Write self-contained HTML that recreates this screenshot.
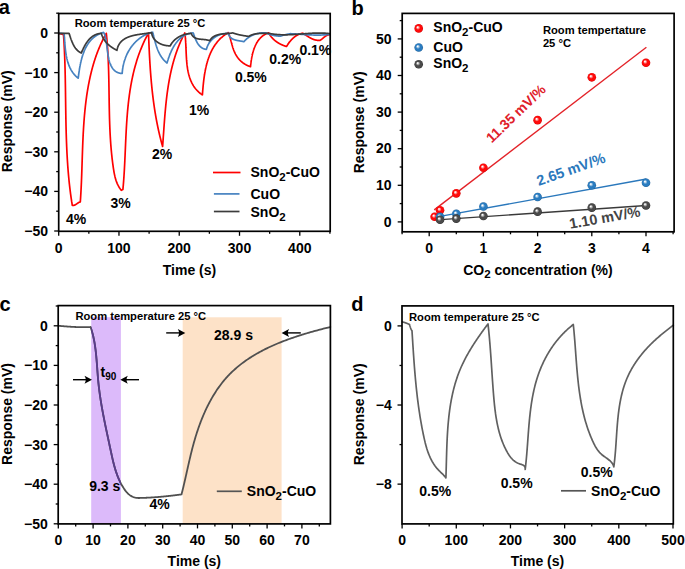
<!DOCTYPE html><html><head><meta charset="utf-8"><style>html,body{margin:0;padding:0;background:#fff;width:685px;height:569px;overflow:hidden;position:relative}</style></head><body><svg width="685" height="569" viewBox="0 0 685 569" style="position:absolute;left:0;top:0">
<g font-family='"Liberation Sans", sans-serif'>
<text x="-1.2" y="14" font-size="20" text-anchor="start" fill="#000" font-weight="bold" >a</text>
<clipPath id="ca"><rect x="58.7" y="13.5" width="271.5" height="217.8"/></clipPath>
<g clip-path="url(#ca)">
<path d="M58.7,33.5 L58.87,33.54 L59.03,33.57 L59.2,33.61 L59.36,33.65 L59.53,33.68 L59.69,33.72 L59.86,33.76 L60.02,33.79 L60.19,33.83 L60.36,33.86 L60.52,33.9 L60.69,33.93 L60.85,33.97 L61.02,34 L61.18,34.04 L61.35,34.07 L61.51,34.11 L61.68,34.14 L61.84,34.17 L62.01,34.21 L62.18,34.24 L62.34,34.27 L62.51,34.31 L62.67,34.34 L62.84,34.37 L63,34.4 L63.17,34.44 L63.33,34.47 L63.5,34.5 L63.56,35.36 L63.62,36.21 L63.67,37.07 L63.73,37.93 L63.78,38.79 L63.84,39.64 L63.89,40.5 L63.94,41.36 L63.99,42.22 L64.04,43.07 L64.09,43.93 L64.13,44.79 L64.18,45.65 L64.22,46.51 L64.27,47.37 L64.31,48.23 L64.35,49.08 L64.39,49.94 L64.43,50.8 L64.47,51.66 L64.51,52.52 L64.54,53.38 L64.58,54.24 L64.61,55.1 L64.65,55.96 L64.68,56.82 L64.71,57.68 L64.74,58.54 L64.77,59.4 L64.8,60.26 L64.83,61.12 L64.86,61.98 L64.89,62.85 L64.91,63.71 L64.94,64.57 L64.96,65.43 L64.99,66.29 L65.01,67.15 L65.04,68.01 L65.06,68.87 L65.08,69.74 L65.1,70.6 L65.12,71.46 L65.14,72.32 L65.16,73.18 L65.18,74.04 L65.2,74.91 L65.22,75.77 L65.24,76.63 L65.25,77.49 L65.27,78.35 L65.29,79.22 L65.3,80.08 L65.32,80.94 L65.33,81.8 L65.35,82.67 L65.36,83.53 L65.38,84.39 L65.39,85.25 L65.41,86.12 L65.42,86.98 L65.43,87.84 L65.45,88.7 L65.46,89.57 L65.47,90.43 L65.48,91.29 L65.5,92.15 L65.51,93.02 L65.52,93.88 L65.53,94.74 L65.54,95.61 L65.55,96.47 L65.57,97.33 L65.58,98.19 L65.59,99.06 L65.6,99.92 L65.61,100.78 L65.62,101.65 L65.64,102.51 L65.65,103.37 L65.66,104.23 L65.67,105.1 L65.68,105.96 L65.69,106.82 L65.71,107.69 L65.72,108.55 L65.73,109.41 L65.74,110.27 L65.76,111.14 L65.77,112 L65.78,112.86 L65.8,113.72 L65.81,114.59 L65.82,115.45 L65.84,116.31 L65.85,117.18 L65.87,118.04 L65.88,118.9 L65.9,119.76 L65.92,120.62 L65.93,121.49 L65.95,122.35 L65.97,123.21 L65.99,124.07 L66,124.94 L66.02,125.8 L66.04,126.66 L66.06,127.52 L66.08,128.38 L66.1,129.24 L66.13,130.11 L66.15,130.97 L66.17,131.83 L66.19,132.69 L66.22,133.55 L66.24,134.41 L66.27,135.27 L66.3,136.14 L66.32,137 L66.35,137.86 L66.38,138.72 L66.41,139.58 L66.44,140.44 L66.47,141.3 L66.5,142.16 L66.53,143.02 L66.57,143.88 L66.6,144.74 L66.64,145.6 L66.67,146.46 L66.71,147.32 L66.75,148.18 L66.78,149.04 L66.82,149.9 L66.87,150.76 L66.91,151.62 L66.95,152.48 L66.99,153.34 L67.04,154.19 L67.08,155.05 L67.13,155.91 L67.18,156.77 L67.23,157.63 L67.28,158.49 L67.33,159.34 L67.38,160.2 L67.44,161.06 L67.49,161.92 L67.55,162.77 L67.61,163.63 L67.66,164.49 L67.72,165.35 L67.79,166.2 L67.85,167.06 L67.91,167.92 L67.98,168.77 L68.04,169.63 L68.11,170.48 L68.18,171.34 L68.25,172.19 L68.33,173.05 L68.4,173.91 L68.47,174.76 L68.55,175.61 L68.63,176.47 L68.71,177.32 L68.79,178.18 L68.87,179.03 L68.96,179.89 L69.04,180.74 L69.13,181.59 L69.22,182.45 L69.31,183.3 L69.4,184.15 L69.5,185 L69.59,185.86 L69.69,186.71 L69.79,187.56 L69.89,188.41 L69.99,189.26 L70.1,190.12 L70.2,190.97 L70.31,191.82 L70.42,192.67 L70.53,193.52 L70.65,194.37 L70.76,195.22 L70.88,196.07 L71,196.92 L71.12,197.77 L71.24,198.62 L71.37,199.47 L71.5,200.31 L71.62,201.16 L71.76,202.01 L71.89,202.86 L72.02,203.71 L72.16,204.55 L72.3,205.4 L72.35,205.41 L72.4,205.41 L72.45,205.42 L72.5,205.43 L72.55,205.43 L72.6,205.44 L72.65,205.44 L72.69,205.44 L72.74,205.45 L72.79,205.45 L72.84,205.45 L72.89,205.45 L72.93,205.45 L72.98,205.45 L73.03,205.45 L73.07,205.45 L73.12,205.45 L73.17,205.45 L73.21,205.45 L73.26,205.44 L73.3,205.44 L73.35,205.44 L73.39,205.43 L73.44,205.43 L73.48,205.42 L73.53,205.42 L73.57,205.41 L73.62,205.4 L73.66,205.4 L73.7,205.39 L73.75,205.38 L73.79,205.37 L73.83,205.36 L73.88,205.35 L73.92,205.34 L73.96,205.33 L74.01,205.32 L74.05,205.31 L74.09,205.3 L74.13,205.29 L74.17,205.28 L74.22,205.26 L74.26,205.25 L74.3,205.24 L74.34,205.22 L74.38,205.21 L74.42,205.2 L74.46,205.18 L74.5,205.17 L74.54,205.15 L74.58,205.13 L74.62,205.12 L74.66,205.1 L74.7,205.09 L74.74,205.07 L74.78,205.05 L74.82,205.03 L74.86,205.02 L74.9,205 L74.94,204.98 L74.98,204.96 L75.02,204.94 L75.06,204.92 L75.1,204.9 L75.14,204.88 L75.17,204.86 L75.21,204.84 L75.25,204.82 L75.29,204.8 L75.33,204.78 L75.37,204.76 L75.4,204.73 L75.44,204.71 L75.48,204.69 L75.52,204.67 L75.55,204.65 L75.59,204.62 L75.63,204.6 L75.67,204.58 L75.7,204.55 L75.74,204.53 L75.78,204.51 L75.82,204.48 L75.85,204.46 L75.89,204.43 L75.93,204.41 L75.96,204.39 L76,204.36 L76.04,204.34 L76.07,204.31 L76.11,204.29 L76.15,204.26 L76.18,204.24 L76.22,204.21 L76.26,204.19 L76.29,204.16 L76.33,204.14 L76.37,204.11 L76.4,204.08 L76.44,204.06 L76.48,204.03 L76.51,204.01 L76.55,203.98 L76.58,203.95 L76.62,203.93 L76.66,203.9 L76.69,203.88 L76.73,203.85 L76.77,203.82 L76.8,203.8 L76.84,203.77 L76.87,203.74 L76.91,203.72 L76.95,203.69 L76.98,203.66 L77.02,203.64 L77.06,203.61 L77.09,203.59 L77.13,203.56 L77.17,203.53 L77.2,203.51 L77.24,203.48 L77.27,203.45 L77.31,203.43 L77.35,203.4 L77.38,203.38 L77.42,203.35 L77.46,203.32 L77.49,203.3 L77.53,203.27 L77.57,203.25 L77.6,203.22 L77.64,203.2 L77.68,203.17 L77.71,203.15 L77.75,203.12 L77.79,203.1 L77.83,203.07 L77.86,203.05 L77.9,203.02 L77.94,203 L77.97,202.97 L78.01,202.95 L78.05,202.92 L78.09,202.9 L78.13,202.88 L78.16,202.85 L78.2,202.83 L78.24,202.81 L78.28,202.78 L78.31,202.76 L78.35,202.74 L78.39,202.72 L78.43,202.69 L78.47,202.67 L78.51,202.65 L78.55,202.63 L78.58,202.61 L78.62,202.59 L78.66,202.57 L78.7,202.55 L78.74,202.53 L78.78,202.51 L78.82,202.49 L78.86,202.47 L78.9,202.45 L78.94,202.43 L78.98,202.41 L79.02,202.39 L79.06,202.37 L79.1,202.36 L79.14,202.34 L79.18,202.32 L79.22,202.3 L79.26,202.29 L79.31,202.27 L79.35,202.26 L79.39,202.24 L79.43,202.22 L79.47,202.21 L79.51,202.19 L79.56,202.18 L79.6,202.17 L79.64,202.15 L79.68,202.14 L79.73,202.13 L79.77,202.12 L79.81,202.1 L79.86,202.09 L79.9,202.08 L79.94,202.07 L79.99,202.06 L80.03,202.05 L80.08,202.04 L80.12,202.03 L80.16,202.02 L80.21,202.01 L80.25,202.01 L80.3,202 L80.36,201.15 L80.42,200.3 L80.48,199.45 L80.54,198.59 L80.59,197.74 L80.65,196.89 L80.7,196.03 L80.75,195.18 L80.8,194.32 L80.85,193.47 L80.9,192.61 L80.95,191.75 L81,190.89 L81.04,190.03 L81.09,189.18 L81.13,188.32 L81.17,187.46 L81.21,186.59 L81.25,185.73 L81.29,184.87 L81.33,184.01 L81.37,183.15 L81.41,182.28 L81.44,181.42 L81.48,180.56 L81.51,179.69 L81.55,178.83 L81.58,177.96 L81.61,177.1 L81.64,176.23 L81.68,175.36 L81.71,174.5 L81.74,173.63 L81.77,172.76 L81.8,171.89 L81.83,171.03 L81.86,170.16 L81.89,169.29 L81.92,168.42 L81.95,167.55 L81.97,166.68 L82,165.81 L82.03,164.94 L82.06,164.07 L82.09,163.2 L82.11,162.33 L82.14,161.46 L82.17,160.59 L82.2,159.72 L82.23,158.85 L82.25,157.97 L82.28,157.1 L82.31,156.23 L82.34,155.36 L82.37,154.49 L82.4,153.61 L82.43,152.74 L82.46,151.87 L82.49,151 L82.52,150.12 L82.55,149.25 L82.58,148.38 L82.62,147.5 L82.65,146.63 L82.68,145.76 L82.72,144.89 L82.75,144.01 L82.79,143.14 L82.82,142.27 L82.86,141.39 L82.9,140.52 L82.94,139.65 L82.98,138.78 L83.02,137.9 L83.06,137.03 L83.1,136.16 L83.14,135.29 L83.19,134.42 L83.23,133.54 L83.28,132.67 L83.33,131.8 L83.38,130.93 L83.43,130.06 L83.48,129.19 L83.53,128.31 L83.58,127.44 L83.64,126.57 L83.69,125.7 L83.75,124.83 L83.81,123.96 L83.87,123.09 L83.93,122.22 L83.99,121.35 L84.06,120.49 L84.13,119.62 L84.19,118.75 L84.26,117.88 L84.33,117.01 L84.41,116.15 L84.48,115.28 L84.56,114.41 L84.64,113.55 L84.72,112.68 L84.8,111.82 L84.88,110.95 L84.97,110.09 L85.06,109.22 L85.15,108.36 L85.24,107.5 L85.33,106.63 L85.43,105.77 L85.53,104.91 L85.63,104.05 L85.73,103.19 L85.83,102.33 L85.94,101.47 L86.05,100.61 L86.16,99.75 L86.27,98.89 L86.39,98.03 L86.51,97.18 L86.63,96.32 L86.75,95.46 L86.88,94.61 L87.01,93.75 L87.14,92.9 L87.27,92.05 L87.41,91.19 L87.55,90.34 L87.69,89.49 L87.84,88.64 L87.98,87.79 L88.13,86.94 L88.29,86.09 L88.44,85.24 L88.6,84.4 L88.76,83.55 L88.93,82.71 L89.1,81.86 L89.27,81.02 L89.44,80.17 L89.62,79.33 L89.8,78.49 L89.98,77.65 L90.17,76.81 L90.36,75.97 L90.55,75.13 L90.74,74.29 L90.94,73.46 L91.15,72.62 L91.35,71.79 L91.56,70.95 L91.78,70.12 L92,69.29 L92.22,68.46 L92.44,67.63 L92.67,66.8 L92.9,65.97 L93.14,65.15 L93.38,64.32 L93.62,63.5 L93.87,62.67 L94.12,61.85 L94.38,61.03 L94.64,60.21 L94.9,59.4 L95.17,58.58 L95.45,57.77 L95.72,56.95 L96.01,56.14 L96.29,55.33 L96.58,54.52 L96.88,53.71 L97.18,52.91 L97.48,52.1 L97.79,51.3 L98.1,50.5 L98.42,49.7 L98.75,48.9 L99.08,48.1 L99.41,47.31 L99.75,46.51 L100.09,45.72 L100.44,44.93 L100.79,44.14 L101.15,43.36 L101.51,42.57 L101.88,41.79 L102.26,41.01 L102.64,40.23 L103.02,39.45 L103.41,38.67 L103.81,37.9 L104.21,37.13 L104.62,36.36 L105.03,35.59 L105.45,34.83 L105.87,34.06 L106.3,33.3 L106.38,34.09 L106.47,34.88 L106.55,35.68 L106.63,36.47 L106.7,37.26 L106.78,38.06 L106.85,38.85 L106.92,39.64 L106.99,40.44 L107.06,41.23 L107.13,42.03 L107.19,42.82 L107.25,43.62 L107.32,44.41 L107.38,45.21 L107.43,46 L107.49,46.8 L107.55,47.6 L107.6,48.39 L107.65,49.19 L107.7,49.99 L107.75,50.78 L107.8,51.58 L107.85,52.38 L107.9,53.18 L107.94,53.98 L107.98,54.77 L108.03,55.57 L108.07,56.37 L108.11,57.17 L108.14,57.97 L108.18,58.77 L108.22,59.57 L108.25,60.37 L108.29,61.16 L108.32,61.96 L108.35,62.76 L108.38,63.56 L108.41,64.36 L108.44,65.16 L108.47,65.96 L108.49,66.77 L108.52,67.57 L108.55,68.37 L108.57,69.17 L108.59,69.97 L108.62,70.77 L108.64,71.57 L108.66,72.37 L108.68,73.17 L108.7,73.98 L108.72,74.78 L108.74,75.58 L108.76,76.38 L108.78,77.18 L108.79,77.99 L108.81,78.79 L108.83,79.59 L108.84,80.39 L108.86,81.19 L108.87,82 L108.89,82.8 L108.9,83.6 L108.92,84.4 L108.93,85.21 L108.94,86.01 L108.95,86.81 L108.97,87.62 L108.98,88.42 L108.99,89.22 L109,90.03 L109.02,90.83 L109.03,91.63 L109.04,92.43 L109.05,93.24 L109.06,94.04 L109.07,94.84 L109.09,95.65 L109.1,96.45 L109.11,97.25 L109.12,98.06 L109.13,98.86 L109.14,99.66 L109.16,100.47 L109.17,101.27 L109.18,102.07 L109.19,102.88 L109.21,103.68 L109.22,104.48 L109.23,105.28 L109.25,106.09 L109.26,106.89 L109.28,107.69 L109.29,108.5 L109.31,109.3 L109.32,110.1 L109.34,110.91 L109.36,111.71 L109.38,112.51 L109.39,113.31 L109.41,114.12 L109.43,114.92 L109.45,115.72 L109.47,116.52 L109.49,117.32 L109.51,118.13 L109.54,118.93 L109.56,119.73 L109.58,120.53 L109.61,121.33 L109.64,122.14 L109.66,122.94 L109.69,123.74 L109.72,124.54 L109.75,125.34 L109.78,126.14 L109.81,126.94 L109.84,127.74 L109.88,128.55 L109.91,129.35 L109.95,130.15 L109.98,130.95 L110.02,131.75 L110.06,132.55 L110.1,133.35 L110.14,134.15 L110.18,134.95 L110.23,135.75 L110.27,136.55 L110.32,137.34 L110.37,138.14 L110.42,138.94 L110.47,139.74 L110.52,140.54 L110.57,141.34 L110.63,142.14 L110.68,142.93 L110.74,143.73 L110.8,144.53 L110.86,145.33 L110.92,146.12 L110.99,146.92 L111.05,147.72 L111.12,148.51 L111.19,149.31 L111.26,150.1 L111.33,150.9 L111.41,151.7 L111.48,152.49 L111.56,153.29 L111.64,154.08 L111.72,154.88 L111.81,155.67 L111.89,156.46 L111.98,157.26 L112.07,158.05 L112.16,158.84 L112.25,159.64 L112.35,160.43 L112.44,161.22 L112.54,162.01 L112.65,162.81 L112.75,163.6 L112.85,164.39 L112.96,165.18 L113.07,165.97 L113.19,166.76 L113.3,167.55 L113.42,168.34 L113.54,169.13 L113.66,169.92 L113.79,170.71 L113.92,171.49 L114.06,172.28 L114.2,173.06 L114.36,173.84 L114.51,174.61 L114.68,175.39 L114.86,176.15 L115.04,176.92 L115.24,177.68 L115.45,178.44 L115.67,179.19 L115.9,179.94 L116.14,180.68 L116.4,181.41 L116.67,182.14 L116.96,182.87 L117.26,183.58 L117.58,184.29 L117.92,184.99 L118.27,185.69 L118.64,186.37 L119.03,187.05 L119.44,187.72 L119.88,188.38 L120.33,189.03 L120.8,189.67 L121.3,190.3 L122.9,189.5 L122.97,188.71 L123.05,187.92 L123.12,187.14 L123.19,186.35 L123.26,185.56 L123.33,184.77 L123.39,183.98 L123.46,183.18 L123.52,182.39 L123.58,181.6 L123.64,180.8 L123.7,180.01 L123.76,179.22 L123.82,178.42 L123.87,177.62 L123.93,176.83 L123.98,176.03 L124.03,175.23 L124.08,174.44 L124.13,173.64 L124.18,172.84 L124.23,172.04 L124.28,171.24 L124.32,170.44 L124.37,169.64 L124.41,168.84 L124.46,168.03 L124.5,167.23 L124.54,166.43 L124.59,165.63 L124.63,164.82 L124.67,164.02 L124.71,163.21 L124.75,162.41 L124.79,161.6 L124.82,160.8 L124.86,159.99 L124.9,159.19 L124.94,158.38 L124.97,157.58 L125.01,156.77 L125.05,155.96 L125.08,155.16 L125.12,154.35 L125.15,153.54 L125.19,152.73 L125.22,151.92 L125.26,151.12 L125.3,150.31 L125.33,149.5 L125.37,148.69 L125.4,147.88 L125.44,147.07 L125.47,146.26 L125.51,145.45 L125.54,144.64 L125.58,143.83 L125.61,143.02 L125.65,142.21 L125.69,141.4 L125.72,140.59 L125.76,139.78 L125.8,138.97 L125.84,138.16 L125.87,137.35 L125.91,136.54 L125.95,135.73 L125.99,134.92 L126.03,134.11 L126.08,133.3 L126.12,132.49 L126.16,131.68 L126.2,130.87 L126.25,130.06 L126.29,129.25 L126.34,128.44 L126.38,127.63 L126.43,126.83 L126.48,126.02 L126.53,125.21 L126.58,124.4 L126.63,123.59 L126.68,122.78 L126.74,121.97 L126.79,121.16 L126.85,120.36 L126.9,119.55 L126.96,118.74 L127.02,117.93 L127.08,117.12 L127.14,116.32 L127.21,115.51 L127.27,114.71 L127.34,113.9 L127.4,113.09 L127.47,112.29 L127.54,111.48 L127.61,110.68 L127.69,109.87 L127.76,109.07 L127.84,108.27 L127.92,107.46 L128,106.66 L128.08,105.86 L128.16,105.05 L128.25,104.25 L128.34,103.45 L128.42,102.65 L128.51,101.85 L128.61,101.05 L128.7,100.25 L128.8,99.45 L128.9,98.65 L129,97.85 L129.1,97.06 L129.21,96.26 L129.31,95.46 L129.42,94.67 L129.53,93.87 L129.65,93.08 L129.76,92.28 L129.88,91.49 L130,90.7 L130.13,89.9 L130.25,89.11 L130.38,88.32 L130.51,87.53 L130.64,86.74 L130.78,85.95 L130.91,85.16 L131.06,84.38 L131.2,83.59 L131.34,82.8 L131.49,82.02 L131.64,81.23 L131.8,80.45 L131.96,79.66 L132.11,78.88 L132.28,78.1 L132.44,77.32 L132.61,76.54 L132.78,75.76 L132.96,74.98 L133.13,74.2 L133.31,73.42 L133.5,72.65 L133.68,71.87 L133.87,71.1 L134.07,70.32 L134.26,69.55 L134.46,68.78 L134.67,68.01 L134.87,67.24 L135.08,66.47 L135.29,65.7 L135.51,64.93 L135.73,64.17 L135.95,63.4 L136.18,62.64 L136.41,61.88 L136.64,61.11 L136.88,60.35 L137.12,59.59 L137.37,58.83 L137.62,58.07 L137.87,57.32 L138.12,56.56 L138.38,55.81 L138.65,55.05 L138.91,54.3 L139.19,53.55 L139.46,52.8 L139.74,52.05 L140.02,51.3 L140.31,50.55 L140.6,49.81 L140.9,49.06 L141.2,48.32 L141.5,47.58 L141.81,46.84 L142.12,46.1 L142.44,45.36 L142.76,44.62 L143.08,43.88 L143.41,43.15 L143.75,42.42 L144.08,41.68 L144.43,40.95 L144.77,40.22 L145.13,39.49 L145.48,38.77 L145.84,38.04 L146.21,37.32 L146.58,36.59 L146.95,35.87 L147.33,35.15 L147.72,34.43 L148.11,33.72 L148.5,33 L148.52,33.57 L148.54,34.15 L148.56,34.72 L148.59,35.3 L148.61,35.87 L148.63,36.45 L148.65,37.02 L148.68,37.6 L148.7,38.17 L148.72,38.75 L148.74,39.32 L148.77,39.9 L148.79,40.47 L148.81,41.05 L148.84,41.62 L148.86,42.2 L148.89,42.77 L148.91,43.35 L148.94,43.92 L148.96,44.5 L148.98,45.08 L149.01,45.65 L149.04,46.23 L149.06,46.8 L149.09,47.38 L149.11,47.95 L149.14,48.53 L149.17,49.1 L149.19,49.68 L149.22,50.26 L149.25,50.83 L149.28,51.41 L149.31,51.98 L149.33,52.56 L149.36,53.13 L149.39,53.71 L149.42,54.29 L149.45,54.86 L149.48,55.44 L149.51,56.01 L149.54,56.59 L149.57,57.16 L149.61,57.74 L149.64,58.32 L149.67,58.89 L149.7,59.47 L149.74,60.04 L149.77,60.62 L149.8,61.19 L149.84,61.77 L149.87,62.35 L149.91,62.92 L149.94,63.5 L149.98,64.07 L150.02,64.65 L150.05,65.22 L150.09,65.8 L150.13,66.37 L150.17,66.95 L150.2,67.53 L150.24,68.1 L150.28,68.68 L150.32,69.25 L150.36,69.83 L150.4,70.4 L150.44,70.98 L150.49,71.55 L150.53,72.13 L150.57,72.7 L150.62,73.28 L150.66,73.85 L150.7,74.43 L150.75,75 L150.79,75.58 L150.84,76.15 L150.89,76.73 L150.93,77.3 L150.98,77.88 L151.03,78.45 L151.08,79.03 L151.13,79.6 L151.18,80.17 L151.23,80.75 L151.28,81.32 L151.33,81.9 L151.38,82.47 L151.44,83.04 L151.49,83.62 L151.55,84.19 L151.6,84.77 L151.66,85.34 L151.71,85.91 L151.77,86.49 L151.83,87.06 L151.88,87.63 L151.94,88.21 L152,88.78 L152.06,89.35 L152.12,89.93 L152.18,90.5 L152.25,91.07 L152.31,91.65 L152.37,92.22 L152.44,92.79 L152.5,93.36 L152.57,93.94 L152.63,94.51 L152.7,95.08 L152.77,95.65 L152.84,96.22 L152.91,96.8 L152.98,97.37 L153.05,97.94 L153.12,98.51 L153.19,99.08 L153.26,99.65 L153.34,100.22 L153.41,100.79 L153.49,101.37 L153.57,101.94 L153.64,102.51 L153.72,103.08 L153.8,103.65 L153.88,104.22 L153.96,104.79 L154.04,105.36 L154.12,105.93 L154.2,106.5 L154.29,107.07 L154.37,107.64 L154.46,108.21 L154.54,108.78 L154.63,109.34 L154.72,109.91 L154.81,110.48 L154.9,111.05 L154.99,111.62 L155.08,112.19 L155.17,112.76 L155.27,113.32 L155.36,113.89 L155.46,114.46 L155.55,115.03 L155.65,115.59 L155.75,116.16 L155.85,116.73 L155.95,117.29 L156.05,117.86 L156.15,118.43 L156.25,118.99 L156.36,119.56 L156.46,120.13 L156.57,120.69 L156.67,121.26 L156.78,121.82 L156.89,122.39 L157,122.95 L157.11,123.52 L157.22,124.08 L157.34,124.65 L157.45,125.21 L157.57,125.78 L157.68,126.34 L157.8,126.9 L157.92,127.47 L158.04,128.03 L158.16,128.59 L158.28,129.16 L158.4,129.72 L158.52,130.28 L158.65,130.84 L158.77,131.41 L158.9,131.97 L159.03,132.53 L159.16,133.09 L159.29,133.65 L159.42,134.21 L159.55,134.77 L159.68,135.33 L159.82,135.9 L159.95,136.46 L160.09,137.02 L160.23,137.58 L160.37,138.13 L160.51,138.69 L160.65,139.25 L160.79,139.81 L160.94,140.37 L161.08,140.93 L161.23,141.49 L161.38,142.05 L161.52,142.6 L161.67,143.16 L161.83,143.72 L161.98,144.27 L162.13,144.83 L162.29,145.39 L162.44,145.94 L162.6,146.5 L162.64,145.92 L162.69,145.35 L162.73,144.77 L162.78,144.19 L162.82,143.61 L162.86,143.03 L162.91,142.45 L162.95,141.87 L162.99,141.29 L163.03,140.71 L163.07,140.13 L163.12,139.55 L163.16,138.97 L163.2,138.39 L163.24,137.81 L163.28,137.23 L163.32,136.65 L163.36,136.06 L163.41,135.48 L163.45,134.9 L163.49,134.32 L163.53,133.73 L163.57,133.15 L163.61,132.57 L163.65,131.98 L163.69,131.4 L163.73,130.82 L163.77,130.23 L163.82,129.65 L163.86,129.06 L163.9,128.48 L163.94,127.89 L163.98,127.31 L164.02,126.72 L164.07,126.14 L164.11,125.55 L164.15,124.97 L164.19,124.38 L164.24,123.8 L164.28,123.21 L164.32,122.62 L164.37,122.04 L164.41,121.45 L164.46,120.87 L164.5,120.28 L164.55,119.69 L164.59,119.11 L164.64,118.52 L164.68,117.93 L164.73,117.35 L164.78,116.76 L164.83,116.18 L164.87,115.59 L164.92,115 L164.97,114.42 L165.02,113.83 L165.07,113.24 L165.12,112.66 L165.17,112.07 L165.22,111.48 L165.28,110.9 L165.33,110.31 L165.38,109.72 L165.44,109.14 L165.49,108.55 L165.55,107.96 L165.6,107.38 L165.66,106.79 L165.72,106.21 L165.77,105.62 L165.83,105.03 L165.89,104.45 L165.95,103.86 L166.01,103.28 L166.08,102.69 L166.14,102.11 L166.2,101.52 L166.27,100.94 L166.33,100.35 L166.4,99.77 L166.46,99.18 L166.53,98.6 L166.6,98.01 L166.67,97.43 L166.74,96.85 L166.81,96.26 L166.88,95.68 L166.96,95.09 L167.03,94.51 L167.11,93.93 L167.18,93.35 L167.26,92.76 L167.34,92.18 L167.42,91.6 L167.5,91.02 L167.58,90.44 L167.67,89.85 L167.75,89.27 L167.84,88.69 L167.92,88.11 L168.01,87.53 L168.1,86.95 L168.19,86.37 L168.28,85.79 L168.37,85.21 L168.47,84.63 L168.56,84.06 L168.66,83.48 L168.76,82.9 L168.85,82.32 L168.96,81.74 L169.06,81.17 L169.16,80.59 L169.26,80.02 L169.37,79.44 L169.48,78.86 L169.59,78.29 L169.7,77.71 L169.81,77.14 L169.92,76.57 L170.04,75.99 L170.15,75.42 L170.27,74.85 L170.39,74.28 L170.51,73.7 L170.63,73.13 L170.75,72.56 L170.88,71.99 L171.01,71.42 L171.14,70.85 L171.27,70.28 L171.4,69.71 L171.53,69.14 L171.67,68.58 L171.8,68.01 L171.94,67.44 L172.08,66.88 L172.23,66.31 L172.37,65.75 L172.51,65.18 L172.66,64.62 L172.81,64.05 L172.96,63.49 L173.12,62.93 L173.27,62.37 L173.43,61.8 L173.59,61.24 L173.75,60.68 L173.91,60.12 L174.07,59.56 L174.24,59 L174.41,58.45 L174.58,57.89 L174.75,57.33 L174.92,56.78 L175.1,56.22 L175.28,55.67 L175.46,55.11 L175.64,54.56 L175.82,54 L176.01,53.45 L176.2,52.9 L176.39,52.35 L176.58,51.8 L176.78,51.25 L176.98,50.7 L177.18,50.15 L177.38,49.6 L177.58,49.06 L177.79,48.51 L177.99,47.96 L178.21,47.42 L178.42,46.88 L178.63,46.33 L178.85,45.79 L179.07,45.25 L179.29,44.71 L179.52,44.17 L179.74,43.63 L179.97,43.09 L180.2,42.55 L180.44,42.01 L180.67,41.47 L180.91,40.94 L181.15,40.4 L181.4,39.87 L181.64,39.34 L181.89,38.8 L182.15,38.27 L182.4,37.74 L182.66,37.21 L182.91,36.68 L183.18,36.15 L183.44,35.63 L183.71,35.1 L183.98,34.57 L184.25,34.05 L184.52,33.52 L184.8,33 L184.85,33.31 L184.89,33.61 L184.93,33.92 L184.97,34.23 L185.01,34.54 L185.05,34.86 L185.09,35.17 L185.13,35.48 L185.16,35.8 L185.2,36.12 L185.23,36.43 L185.26,36.75 L185.3,37.07 L185.33,37.39 L185.36,37.72 L185.39,38.04 L185.42,38.36 L185.44,38.69 L185.47,39.01 L185.49,39.34 L185.52,39.67 L185.54,39.99 L185.57,40.32 L185.59,40.65 L185.61,40.98 L185.63,41.32 L185.66,41.65 L185.68,41.98 L185.7,42.31 L185.71,42.65 L185.73,42.98 L185.75,43.32 L185.77,43.66 L185.79,43.99 L185.8,44.33 L185.82,44.67 L185.84,45.01 L185.85,45.35 L185.87,45.69 L185.88,46.03 L185.9,46.37 L185.91,46.71 L185.93,47.05 L185.94,47.4 L185.96,47.74 L185.97,48.08 L185.99,48.43 L186,48.77 L186.02,49.12 L186.03,49.46 L186.04,49.81 L186.06,50.15 L186.07,50.5 L186.09,50.85 L186.1,51.19 L186.12,51.54 L186.13,51.89 L186.14,52.23 L186.16,52.58 L186.18,52.93 L186.19,53.28 L186.21,53.62 L186.22,53.97 L186.24,54.32 L186.26,54.67 L186.27,55.02 L186.29,55.37 L186.31,55.71 L186.33,56.06 L186.35,56.41 L186.37,56.76 L186.39,57.11 L186.41,57.46 L186.43,57.81 L186.45,58.15 L186.47,58.5 L186.5,58.85 L186.52,59.2 L186.55,59.55 L186.57,59.89 L186.6,60.24 L186.63,60.59 L186.65,60.94 L186.68,61.28 L186.71,61.63 L186.74,61.98 L186.77,62.32 L186.81,62.67 L186.84,63.01 L186.87,63.36 L186.91,63.7 L186.95,64.05 L186.98,64.39 L187.02,64.73 L187.06,65.08 L187.1,65.42 L187.15,65.76 L187.19,66.1 L187.23,66.44 L187.28,66.78 L187.33,67.12 L187.38,67.46 L187.43,67.8 L187.48,68.14 L187.53,68.48 L187.59,68.81 L187.64,69.15 L187.7,69.49 L187.76,69.82 L187.82,70.15 L187.88,70.49 L187.94,70.82 L188.01,71.15 L188.07,71.48 L188.14,71.81 L188.21,72.14 L188.28,72.47 L188.36,72.8 L188.43,73.13 L188.51,73.45 L188.59,73.78 L188.67,74.1 L188.75,74.43 L188.83,74.75 L188.92,75.07 L189.01,75.39 L189.1,75.71 L189.19,76.03 L189.28,76.35 L189.38,76.66 L189.48,76.98 L189.58,77.29 L189.68,77.6 L189.78,77.92 L189.89,78.23 L190,78.54 L190.11,78.84 L190.22,79.15 L190.34,79.46 L190.46,79.76 L190.58,80.07 L190.7,80.37 L190.82,80.67 L190.95,80.97 L191.08,81.27 L191.21,81.56 L191.35,81.86 L191.49,82.15 L191.63,82.45 L191.77,82.74 L191.91,83.03 L192.06,83.32 L192.21,83.6 L192.36,83.89 L192.52,84.17 L192.68,84.45 L192.84,84.73 L193,85.01 L193.17,85.29 L193.34,85.57 L193.51,85.84 L193.68,86.12 L193.86,86.39 L194.04,86.66 L194.22,86.92 L194.41,87.19 L194.6,87.45 L194.79,87.72 L194.99,87.98 L195.19,88.24 L195.39,88.49 L195.59,88.75 L195.8,89 L196.01,89.26 L196.23,89.51 L196.45,89.75 L196.67,90 L196.89,90.24 L197.12,90.49 L197.35,90.73 L197.58,90.97 L197.82,91.2 L198.06,91.44 L198.31,91.67 L198.55,91.9 L198.81,92.13 L199.06,92.35 L199.32,92.58 L199.58,92.8 L199.85,93.02 L200.11,93.24 L200.39,93.45 L200.66,93.67 L200.94,93.88 L201.23,94.09 L201.51,94.29 L201.81,94.5 L202.1,94.7 L202.4,94.9 L202.43,94.56 L202.45,94.23 L202.48,93.89 L202.5,93.55 L202.53,93.21 L202.55,92.88 L202.58,92.54 L202.61,92.19 L202.63,91.85 L202.66,91.51 L202.69,91.17 L202.71,90.83 L202.74,90.48 L202.77,90.14 L202.8,89.79 L202.83,89.45 L202.86,89.1 L202.89,88.75 L202.92,88.41 L202.95,88.06 L202.98,87.71 L203.01,87.36 L203.04,87.01 L203.07,86.66 L203.11,86.31 L203.14,85.96 L203.17,85.61 L203.21,85.26 L203.24,84.91 L203.28,84.55 L203.31,84.2 L203.35,83.85 L203.39,83.5 L203.42,83.14 L203.46,82.79 L203.5,82.43 L203.54,82.08 L203.58,81.73 L203.62,81.37 L203.66,81.02 L203.7,80.66 L203.75,80.31 L203.79,79.95 L203.83,79.59 L203.88,79.24 L203.92,78.88 L203.97,78.53 L204.02,78.17 L204.07,77.81 L204.12,77.46 L204.17,77.1 L204.22,76.75 L204.27,76.39 L204.32,76.03 L204.37,75.68 L204.43,75.32 L204.48,74.97 L204.54,74.61 L204.6,74.25 L204.65,73.9 L204.71,73.54 L204.77,73.19 L204.83,72.83 L204.89,72.48 L204.96,72.12 L205.02,71.77 L205.09,71.41 L205.15,71.06 L205.22,70.7 L205.29,70.35 L205.36,70 L205.43,69.64 L205.5,69.29 L205.57,68.94 L205.65,68.59 L205.72,68.23 L205.8,67.88 L205.88,67.53 L205.95,67.18 L206.03,66.83 L206.11,66.48 L206.2,66.13 L206.28,65.78 L206.37,65.43 L206.45,65.09 L206.54,64.74 L206.63,64.39 L206.72,64.04 L206.81,63.7 L206.9,63.35 L207,63.01 L207.09,62.66 L207.19,62.32 L207.29,61.98 L207.39,61.64 L207.49,61.29 L207.59,60.95 L207.7,60.61 L207.8,60.27 L207.91,59.94 L208.02,59.6 L208.13,59.26 L208.24,58.92 L208.36,58.59 L208.47,58.25 L208.59,57.92 L208.71,57.59 L208.83,57.25 L208.95,56.92 L209.07,56.59 L209.2,56.26 L209.32,55.93 L209.45,55.61 L209.58,55.28 L209.71,54.95 L209.85,54.63 L209.98,54.3 L210.12,53.98 L210.26,53.66 L210.4,53.34 L210.54,53.02 L210.68,52.7 L210.83,52.38 L210.98,52.07 L211.13,51.75 L211.28,51.44 L211.43,51.12 L211.59,50.81 L211.75,50.5 L211.9,50.19 L212.07,49.88 L212.23,49.58 L212.39,49.27 L212.56,48.96 L212.73,48.66 L212.9,48.36 L213.07,48.06 L213.25,47.76 L213.42,47.46 L213.6,47.16 L213.78,46.87 L213.97,46.57 L214.15,46.28 L214.34,45.99 L214.53,45.7 L214.72,45.41 L214.91,45.12 L215.11,44.84 L215.31,44.56 L215.51,44.27 L215.71,43.99 L215.92,43.71 L216.12,43.43 L216.33,43.16 L216.54,42.88 L216.76,42.61 L216.97,42.34 L217.19,42.07 L217.41,41.8 L217.64,41.53 L217.86,41.27 L218.09,41.01 L218.32,40.75 L218.55,40.49 L218.79,40.23 L219.02,39.97 L219.26,39.72 L219.51,39.46 L219.75,39.21 L220,38.96 L220.25,38.72 L220.5,38.47 L220.75,38.23 L221.01,37.99 L221.27,37.75 L221.53,37.51 L221.8,37.27 L222.07,37.04 L222.34,36.81 L222.61,36.58 L222.88,36.35 L223.16,36.12 L223.44,35.9 L223.72,35.68 L224.01,35.46 L224.3,35.24 L224.59,35.02 L224.88,34.81 L225.18,34.6 L225.48,34.39 L225.78,34.18 L226.09,33.97 L226.39,33.77 L226.71,33.57 L227.02,33.37 L227.33,33.18 L227.65,32.98 L227.98,32.79 L228.3,32.6 L228.38,32.79 L228.46,32.98 L228.54,33.17 L228.61,33.36 L228.69,33.56 L228.76,33.75 L228.84,33.94 L228.91,34.14 L228.98,34.33 L229.06,34.53 L229.13,34.73 L229.2,34.93 L229.26,35.12 L229.33,35.32 L229.4,35.52 L229.47,35.72 L229.53,35.92 L229.6,36.12 L229.66,36.33 L229.73,36.53 L229.79,36.73 L229.85,36.93 L229.91,37.14 L229.97,37.34 L230.04,37.55 L230.1,37.75 L230.16,37.96 L230.22,38.16 L230.28,38.37 L230.33,38.58 L230.39,38.78 L230.45,38.99 L230.51,39.2 L230.57,39.41 L230.62,39.61 L230.68,39.82 L230.74,40.03 L230.79,40.24 L230.85,40.45 L230.91,40.66 L230.96,40.87 L231.02,41.08 L231.08,41.29 L231.13,41.5 L231.19,41.71 L231.24,41.92 L231.3,42.13 L231.35,42.34 L231.41,42.55 L231.47,42.76 L231.52,42.97 L231.58,43.18 L231.64,43.39 L231.69,43.6 L231.75,43.81 L231.81,44.02 L231.87,44.23 L231.92,44.44 L231.98,44.65 L232.04,44.86 L232.1,45.07 L232.16,45.28 L232.22,45.49 L232.28,45.69 L232.34,45.9 L232.4,46.11 L232.46,46.32 L232.52,46.53 L232.59,46.73 L232.65,46.94 L232.71,47.15 L232.78,47.36 L232.84,47.56 L232.91,47.77 L232.97,47.97 L233.04,48.18 L233.11,48.38 L233.18,48.59 L233.25,48.79 L233.32,48.99 L233.39,49.2 L233.46,49.4 L233.54,49.6 L233.61,49.8 L233.68,50 L233.76,50.2 L233.84,50.4 L233.91,50.6 L233.99,50.8 L234.07,51 L234.16,51.19 L234.24,51.39 L234.32,51.59 L234.41,51.78 L234.49,51.97 L234.58,52.17 L234.67,52.36 L234.76,52.55 L234.85,52.74 L234.94,52.93 L235.03,53.12 L235.12,53.31 L235.22,53.5 L235.31,53.69 L235.41,53.88 L235.51,54.06 L235.61,54.25 L235.71,54.43 L235.81,54.62 L235.92,54.8 L236.02,54.98 L236.13,55.16 L236.23,55.34 L236.34,55.52 L236.45,55.7 L236.56,55.88 L236.68,56.05 L236.79,56.23 L236.9,56.4 L237.02,56.58 L237.14,56.75 L237.25,56.92 L237.37,57.09 L237.49,57.26 L237.62,57.43 L237.74,57.6 L237.86,57.77 L237.99,57.93 L238.12,58.1 L238.25,58.26 L238.38,58.43 L238.51,58.59 L238.64,58.75 L238.77,58.91 L238.91,59.07 L239.05,59.23 L239.18,59.39 L239.32,59.54 L239.46,59.7 L239.6,59.85 L239.75,60 L239.89,60.15 L240.04,60.3 L240.18,60.45 L240.33,60.6 L240.48,60.75 L240.63,60.9 L240.79,61.04 L240.94,61.18 L241.1,61.33 L241.25,61.47 L241.41,61.61 L241.57,61.75 L241.73,61.88 L241.89,62.02 L242.06,62.16 L242.22,62.29 L242.39,62.42 L242.56,62.56 L242.73,62.69 L242.9,62.81 L243.07,62.94 L243.25,63.07 L243.42,63.19 L243.6,63.32 L243.78,63.44 L243.96,63.56 L244.14,63.68 L244.32,63.8 L244.5,63.92 L244.69,64.03 L244.88,64.15 L245.06,64.26 L245.25,64.37 L245.45,64.48 L245.64,64.59 L245.83,64.7 L246.03,64.81 L246.23,64.91 L246.43,65.02 L246.63,65.12 L246.83,65.22 L247.03,65.32 L247.24,65.42 L247.44,65.51 L247.65,65.61 L247.86,65.7 L248.07,65.79 L248.29,65.88 L248.5,65.97 L248.72,66.06 L248.93,66.14 L249.15,66.23 L249.37,66.31 L249.6,66.39 L249.82,66.47 L250.04,66.55 L250.27,66.63 L250.5,66.7 L250.52,66.51 L250.54,66.32 L250.56,66.12 L250.58,65.93 L250.6,65.74 L250.62,65.54 L250.64,65.35 L250.66,65.16 L250.68,64.96 L250.7,64.76 L250.72,64.57 L250.75,64.37 L250.77,64.17 L250.79,63.97 L250.81,63.78 L250.84,63.58 L250.86,63.38 L250.89,63.18 L250.91,62.98 L250.94,62.78 L250.96,62.58 L250.99,62.38 L251.01,62.18 L251.04,61.97 L251.07,61.77 L251.1,61.57 L251.12,61.37 L251.15,61.17 L251.18,60.96 L251.21,60.76 L251.24,60.56 L251.27,60.35 L251.3,60.15 L251.34,59.94 L251.37,59.74 L251.4,59.53 L251.43,59.33 L251.47,59.13 L251.5,58.92 L251.54,58.72 L251.57,58.51 L251.61,58.3 L251.64,58.1 L251.68,57.89 L251.72,57.69 L251.76,57.48 L251.79,57.28 L251.83,57.07 L251.87,56.87 L251.91,56.66 L251.96,56.45 L252,56.25 L252.04,56.04 L252.08,55.84 L252.13,55.63 L252.17,55.43 L252.22,55.22 L252.26,55.02 L252.31,54.81 L252.35,54.6 L252.4,54.4 L252.45,54.2 L252.5,53.99 L252.55,53.79 L252.6,53.58 L252.65,53.38 L252.7,53.17 L252.75,52.97 L252.81,52.77 L252.86,52.56 L252.92,52.36 L252.97,52.16 L253.03,51.95 L253.09,51.75 L253.14,51.55 L253.2,51.35 L253.26,51.15 L253.32,50.95 L253.38,50.75 L253.44,50.55 L253.51,50.35 L253.57,50.15 L253.64,49.95 L253.7,49.75 L253.77,49.55 L253.83,49.35 L253.9,49.16 L253.97,48.96 L254.04,48.76 L254.11,48.57 L254.18,48.37 L254.25,48.18 L254.33,47.98 L254.4,47.79 L254.48,47.59 L254.55,47.4 L254.63,47.21 L254.71,47.02 L254.78,46.83 L254.86,46.64 L254.95,46.45 L255.03,46.26 L255.11,46.07 L255.19,45.88 L255.28,45.69 L255.36,45.51 L255.45,45.32 L255.54,45.14 L255.62,44.95 L255.71,44.77 L255.8,44.58 L255.9,44.4 L255.99,44.22 L256.08,44.04 L256.18,43.86 L256.27,43.68 L256.37,43.5 L256.47,43.33 L256.57,43.15 L256.67,42.97 L256.77,42.8 L256.87,42.62 L256.97,42.45 L257.08,42.28 L257.18,42.11 L257.29,41.94 L257.4,41.77 L257.51,41.6 L257.62,41.43 L257.73,41.26 L257.84,41.1 L257.96,40.93 L258.07,40.77 L258.19,40.61 L258.3,40.45 L258.42,40.28 L258.54,40.13 L258.66,39.97 L258.78,39.81 L258.91,39.65 L259.03,39.5 L259.16,39.34 L259.29,39.19 L259.41,39.04 L259.54,38.89 L259.67,38.74 L259.81,38.59 L259.94,38.44 L260.07,38.3 L260.21,38.15 L260.35,38.01 L260.49,37.87 L260.63,37.73 L260.77,37.59 L260.91,37.45 L261.05,37.31 L261.2,37.17 L261.34,37.04 L261.49,36.91 L261.64,36.77 L261.79,36.64 L261.94,36.51 L262.1,36.39 L262.25,36.26 L262.41,36.14 L262.57,36.01 L262.73,35.89 L262.89,35.77 L263.05,35.65 L263.21,35.53 L263.38,35.41 L263.54,35.3 L263.71,35.19 L263.88,35.07 L264.05,34.96 L264.22,34.86 L264.39,34.75 L264.57,34.64 L264.75,34.54 L264.92,34.43 L265.1,34.33 L265.28,34.23 L265.47,34.14 L265.65,34.04 L265.84,33.95 L266.02,33.85 L266.21,33.76 L266.4,33.67 L266.59,33.58 L266.79,33.5 L266.98,33.41 L267.18,33.33 L267.38,33.25 L267.58,33.17 L267.78,33.09 L267.98,33.02 L268.19,32.94 L268.39,32.87 L268.6,32.8 L268.66,32.91 L268.71,33.01 L268.77,33.12 L268.83,33.22 L268.89,33.33 L268.94,33.43 L269,33.53 L269.06,33.64 L269.12,33.74 L269.18,33.84 L269.24,33.95 L269.31,34.05 L269.37,34.15 L269.43,34.25 L269.49,34.35 L269.55,34.45 L269.62,34.55 L269.68,34.65 L269.74,34.75 L269.81,34.85 L269.87,34.95 L269.94,35.04 L270,35.14 L270.07,35.24 L270.14,35.33 L270.2,35.43 L270.27,35.53 L270.34,35.62 L270.41,35.72 L270.48,35.81 L270.54,35.91 L270.61,36 L270.68,36.09 L270.75,36.19 L270.82,36.28 L270.89,36.37 L270.97,36.46 L271.04,36.56 L271.11,36.65 L271.18,36.74 L271.25,36.83 L271.33,36.92 L271.4,37.01 L271.47,37.1 L271.55,37.19 L271.62,37.27 L271.7,37.36 L271.77,37.45 L271.85,37.54 L271.92,37.63 L272,37.71 L272.08,37.8 L272.15,37.88 L272.23,37.97 L272.31,38.05 L272.39,38.14 L272.47,38.22 L272.54,38.31 L272.62,38.39 L272.7,38.48 L272.78,38.56 L272.86,38.64 L272.94,38.72 L273.03,38.8 L273.11,38.89 L273.19,38.97 L273.27,39.05 L273.35,39.13 L273.44,39.21 L273.52,39.29 L273.6,39.37 L273.69,39.44 L273.77,39.52 L273.85,39.6 L273.94,39.68 L274.02,39.76 L274.11,39.83 L274.19,39.91 L274.28,39.99 L274.37,40.06 L274.45,40.14 L274.54,40.21 L274.63,40.29 L274.71,40.36 L274.8,40.43 L274.89,40.51 L274.98,40.58 L275.07,40.65 L275.16,40.73 L275.25,40.8 L275.34,40.87 L275.43,40.94 L275.52,41.01 L275.61,41.08 L275.7,41.15 L275.79,41.22 L275.88,41.29 L275.97,41.36 L276.06,41.43 L276.16,41.5 L276.25,41.57 L276.34,41.63 L276.43,41.7 L276.53,41.77 L276.62,41.83 L276.72,41.9 L276.81,41.97 L276.91,42.03 L277,42.1 L277.1,42.16 L277.19,42.23 L277.29,42.29 L277.38,42.35 L277.48,42.42 L277.58,42.48 L277.67,42.54 L277.77,42.6 L277.87,42.67 L277.96,42.73 L278.06,42.79 L278.16,42.85 L278.26,42.91 L278.36,42.97 L278.46,43.03 L278.56,43.09 L278.65,43.15 L278.75,43.21 L278.85,43.26 L278.95,43.32 L279.05,43.38 L279.16,43.44 L279.26,43.49 L279.36,43.55 L279.46,43.61 L279.56,43.66 L279.66,43.72 L279.76,43.77 L279.87,43.83 L279.97,43.88 L280.07,43.94 L280.18,43.99 L280.28,44.04 L280.38,44.1 L280.49,44.15 L280.59,44.2 L280.69,44.25 L280.8,44.3 L280.9,44.35 L281.01,44.41 L281.11,44.46 L281.22,44.51 L281.32,44.56 L281.43,44.6 L281.54,44.65 L281.64,44.7 L281.75,44.75 L281.85,44.8 L281.96,44.85 L282.07,44.89 L282.18,44.94 L282.28,44.99 L282.39,45.03 L282.5,45.08 L282.61,45.12 L282.71,45.17 L282.82,45.21 L282.93,45.26 L283.04,45.3 L283.15,45.35 L283.26,45.39 L283.37,45.43 L283.48,45.48 L283.59,45.52 L283.7,45.56 L283.81,45.6 L283.92,45.64 L284.03,45.68 L284.14,45.72 L284.25,45.77 L284.36,45.81 L284.47,45.84 L284.58,45.88 L284.69,45.92 L284.81,45.96 L284.92,46 L285.03,46.04 L285.14,46.08 L285.25,46.11 L285.37,46.15 L285.48,46.19 L285.59,46.22 L285.71,46.26 L285.82,46.29 L285.93,46.33 L286.04,46.36 L286.16,46.4 L286.27,46.43 L286.39,46.47 L286.5,46.5 L286.56,46.41 L286.61,46.31 L286.67,46.22 L286.73,46.12 L286.79,46.03 L286.85,45.94 L286.91,45.84 L286.96,45.75 L287.02,45.66 L287.08,45.56 L287.14,45.47 L287.2,45.38 L287.26,45.28 L287.32,45.19 L287.38,45.1 L287.44,45.01 L287.5,44.91 L287.56,44.82 L287.62,44.73 L287.68,44.64 L287.74,44.55 L287.8,44.45 L287.87,44.36 L287.93,44.27 L287.99,44.18 L288.05,44.09 L288.11,44 L288.18,43.91 L288.24,43.82 L288.3,43.73 L288.36,43.64 L288.43,43.55 L288.49,43.46 L288.55,43.37 L288.62,43.28 L288.68,43.19 L288.75,43.1 L288.81,43.01 L288.88,42.92 L288.94,42.83 L289.01,42.74 L289.07,42.65 L289.14,42.57 L289.2,42.48 L289.27,42.39 L289.33,42.3 L289.4,42.22 L289.47,42.13 L289.53,42.04 L289.6,41.96 L289.67,41.87 L289.74,41.78 L289.8,41.7 L289.87,41.61 L289.94,41.53 L290.01,41.44 L290.08,41.36 L290.15,41.27 L290.22,41.19 L290.28,41.1 L290.35,41.02 L290.42,40.94 L290.49,40.85 L290.56,40.77 L290.64,40.69 L290.71,40.61 L290.78,40.52 L290.85,40.44 L290.92,40.36 L290.99,40.28 L291.06,40.2 L291.14,40.12 L291.21,40.04 L291.28,39.96 L291.36,39.88 L291.43,39.8 L291.5,39.72 L291.58,39.64 L291.65,39.56 L291.72,39.48 L291.8,39.4 L291.87,39.32 L291.95,39.25 L292.03,39.17 L292.1,39.09 L292.18,39.02 L292.25,38.94 L292.33,38.86 L292.41,38.79 L292.48,38.71 L292.56,38.64 L292.64,38.56 L292.72,38.49 L292.8,38.42 L292.87,38.34 L292.95,38.27 L293.03,38.2 L293.11,38.13 L293.19,38.05 L293.27,37.98 L293.35,37.91 L293.43,37.84 L293.51,37.77 L293.59,37.7 L293.67,37.63 L293.76,37.56 L293.84,37.49 L293.92,37.42 L294,37.35 L294.09,37.29 L294.17,37.22 L294.25,37.15 L294.34,37.09 L294.42,37.02 L294.5,36.95 L294.59,36.89 L294.67,36.82 L294.76,36.76 L294.85,36.7 L294.93,36.63 L295.02,36.57 L295.1,36.51 L295.19,36.44 L295.28,36.38 L295.37,36.32 L295.45,36.26 L295.54,36.2 L295.63,36.14 L295.72,36.08 L295.81,36.02 L295.9,35.96 L295.99,35.9 L296.08,35.85 L296.17,35.79 L296.26,35.73 L296.35,35.67 L296.44,35.62 L296.53,35.56 L296.62,35.51 L296.72,35.45 L296.81,35.4 L296.9,35.35 L297,35.29 L297.09,35.24 L297.18,35.19 L297.28,35.14 L297.37,35.09 L297.47,35.04 L297.56,34.99 L297.66,34.94 L297.75,34.89 L297.85,34.84 L297.95,34.79 L298.05,34.74 L298.14,34.7 L298.24,34.65 L298.34,34.6 L298.44,34.56 L298.54,34.51 L298.64,34.47 L298.74,34.43 L298.84,34.38 L298.94,34.34 L299.04,34.3 L299.14,34.26 L299.24,34.22 L299.34,34.18 L299.44,34.14 L299.55,34.1 L299.65,34.06 L299.75,34.02 L299.86,33.98 L299.96,33.95 L300.06,33.91 L300.17,33.87 L300.27,33.84 L300.38,33.8 L300.49,33.77 L300.59,33.74 L300.7,33.7 L300.81,33.67 L300.91,33.64 L301.02,33.61 L301.13,33.58 L301.24,33.55 L301.35,33.52 L301.46,33.49 L301.57,33.46 L301.68,33.44 L301.79,33.41 L301.9,33.38 L302.01,33.36 L302.12,33.33 L302.23,33.31 L302.35,33.29 L302.46,33.26 L302.57,33.24 L302.69,33.22 L302.8,33.2 L302.88,33.25 L302.96,33.3 L303.04,33.35 L303.12,33.4 L303.21,33.45 L303.29,33.5 L303.37,33.55 L303.45,33.6 L303.53,33.65 L303.61,33.7 L303.69,33.76 L303.77,33.81 L303.85,33.86 L303.93,33.91 L304.01,33.96 L304.09,34.01 L304.17,34.07 L304.25,34.12 L304.33,34.17 L304.41,34.22 L304.5,34.28 L304.58,34.33 L304.66,34.38 L304.74,34.43 L304.82,34.49 L304.9,34.54 L304.98,34.59 L305.06,34.64 L305.14,34.7 L305.22,34.75 L305.3,34.8 L305.38,34.86 L305.46,34.91 L305.54,34.96 L305.62,35.01 L305.7,35.07 L305.78,35.12 L305.86,35.17 L305.94,35.23 L306.02,35.28 L306.1,35.33 L306.18,35.39 L306.26,35.44 L306.34,35.49 L306.42,35.55 L306.5,35.6 L306.58,35.65 L306.66,35.7 L306.75,35.76 L306.83,35.81 L306.91,35.86 L306.99,35.91 L307.07,35.97 L307.15,36.02 L307.23,36.07 L307.31,36.12 L307.39,36.18 L307.47,36.23 L307.55,36.28 L307.63,36.33 L307.71,36.38 L307.8,36.44 L307.88,36.49 L307.96,36.54 L308.04,36.59 L308.12,36.64 L308.2,36.69 L308.28,36.74 L308.37,36.79 L308.45,36.84 L308.53,36.89 L308.61,36.95 L308.69,37 L308.77,37.05 L308.86,37.1 L308.94,37.14 L309.02,37.19 L309.1,37.24 L309.18,37.29 L309.27,37.34 L309.35,37.39 L309.43,37.44 L309.51,37.49 L309.6,37.53 L309.68,37.58 L309.76,37.63 L309.85,37.68 L309.93,37.72 L310.01,37.77 L310.1,37.82 L310.18,37.86 L310.26,37.91 L310.35,37.95 L310.43,38 L310.51,38.05 L310.6,38.09 L310.68,38.13 L310.77,38.18 L310.85,38.22 L310.94,38.27 L311.02,38.31 L311.1,38.35 L311.19,38.4 L311.27,38.44 L311.36,38.48 L311.44,38.52 L311.53,38.56 L311.62,38.61 L311.7,38.65 L311.79,38.69 L311.87,38.73 L311.96,38.77 L312.05,38.81 L312.13,38.84 L312.22,38.88 L312.3,38.92 L312.39,38.96 L312.48,39 L312.57,39.03 L312.65,39.07 L312.74,39.11 L312.83,39.14 L312.92,39.18 L313,39.21 L313.09,39.25 L313.18,39.28 L313.27,39.32 L313.36,39.35 L313.45,39.38 L313.53,39.41 L313.62,39.45 L313.71,39.48 L313.8,39.51 L313.89,39.54 L313.98,39.57 L314.07,39.6 L314.16,39.63 L314.25,39.66 L314.34,39.69 L314.43,39.71 L314.53,39.74 L314.62,39.77 L314.71,39.79 L314.8,39.82 L314.89,39.85 L314.98,39.87 L315.08,39.89 L315.17,39.92 L315.26,39.94 L315.35,39.96 L315.45,39.99 L315.54,40.01 L315.63,40.03 L315.73,40.05 L315.82,40.07 L315.92,40.09 L316.01,40.11 L316.1,40.12 L316.2,40.14 L316.29,40.16 L316.39,40.17 L316.48,40.19 L316.58,40.2 L316.68,40.22 L316.77,40.23 L316.87,40.25 L316.97,40.26 L317.06,40.27 L317.16,40.28 L317.26,40.29 L317.36,40.3 L317.45,40.31 L317.55,40.32 L317.65,40.33 L317.75,40.34 L317.85,40.34 L317.95,40.35 L318.05,40.35 L318.15,40.36 L318.25,40.36 L318.35,40.37 L318.45,40.37 L318.55,40.37 L318.65,40.37 L318.75,40.37 L318.85,40.37 L318.95,40.37 L319.06,40.37 L319.16,40.37 L319.26,40.36 L319.36,40.36 L319.47,40.35 L319.57,40.35 L319.68,40.34 L319.78,40.34 L319.88,40.33 L319.99,40.32 L320.09,40.31 L320.2,40.3 L320.25,40.27 L320.3,40.24 L320.35,40.2 L320.4,40.17 L320.45,40.14 L320.5,40.1 L320.54,40.07 L320.59,40.04 L320.64,40 L320.69,39.97 L320.74,39.94 L320.79,39.9 L320.83,39.87 L320.88,39.83 L320.93,39.8 L320.98,39.76 L321.03,39.73 L321.07,39.69 L321.12,39.65 L321.17,39.62 L321.22,39.58 L321.27,39.55 L321.31,39.51 L321.36,39.47 L321.41,39.44 L321.45,39.4 L321.5,39.36 L321.55,39.33 L321.6,39.29 L321.64,39.25 L321.69,39.22 L321.74,39.18 L321.78,39.14 L321.83,39.1 L321.88,39.06 L321.92,39.03 L321.97,38.99 L322.02,38.95 L322.06,38.91 L322.11,38.87 L322.16,38.84 L322.2,38.8 L322.25,38.76 L322.3,38.72 L322.34,38.68 L322.39,38.64 L322.43,38.61 L322.48,38.57 L322.53,38.53 L322.57,38.49 L322.62,38.45 L322.67,38.41 L322.71,38.37 L322.76,38.33 L322.8,38.3 L322.85,38.26 L322.9,38.22 L322.94,38.18 L322.99,38.14 L323.03,38.1 L323.08,38.06 L323.13,38.02 L323.17,37.98 L323.22,37.95 L323.27,37.91 L323.31,37.87 L323.36,37.83 L323.4,37.79 L323.45,37.75 L323.5,37.71 L323.54,37.67 L323.59,37.64 L323.64,37.6 L323.68,37.56 L323.73,37.52 L323.78,37.48 L323.82,37.45 L323.87,37.41 L323.91,37.37 L323.96,37.33 L324.01,37.29 L324.06,37.26 L324.1,37.22 L324.15,37.18 L324.2,37.14 L324.24,37.11 L324.29,37.07 L324.34,37.03 L324.38,37 L324.43,36.96 L324.48,36.92 L324.53,36.89 L324.57,36.85 L324.62,36.81 L324.67,36.78 L324.72,36.74 L324.76,36.71 L324.81,36.67 L324.86,36.64 L324.91,36.6 L324.95,36.57 L325,36.53 L325.05,36.5 L325.1,36.46 L325.15,36.43 L325.2,36.39 L325.24,36.36 L325.29,36.33 L325.34,36.29 L325.39,36.26 L325.44,36.23 L325.49,36.19 L325.54,36.16 L325.59,36.13 L325.64,36.1 L325.69,36.07 L325.74,36.03 L325.79,36 L325.84,35.97 L325.89,35.94 L325.94,35.91 L325.99,35.88 L326.04,35.85 L326.09,35.82 L326.14,35.79 L326.19,35.76 L326.24,35.73 L326.29,35.71 L326.34,35.68 L326.39,35.65 L326.44,35.62 L326.5,35.59 L326.55,35.57 L326.6,35.54 L326.65,35.51 L326.7,35.49 L326.76,35.46 L326.81,35.44 L326.86,35.41 L326.91,35.39 L326.97,35.36 L327.02,35.34 L327.07,35.32 L327.13,35.29 L327.18,35.27 L327.24,35.25 L327.29,35.23 L327.34,35.2 L327.4,35.18 L327.45,35.16 L327.51,35.14 L327.56,35.12 L327.62,35.1 L327.67,35.08 L327.73,35.06 L327.79,35.04 L327.84,35.03 L327.9,35.01 L327.95,34.99 L328.01,34.98 L328.07,34.96 L328.12,34.94 L328.18,34.93 L328.24,34.91 L328.3,34.9 L328.35,34.88 L328.41,34.87 L328.47,34.86 L328.53,34.84 L328.59,34.83 L328.65,34.82 L328.71,34.81 L328.77,34.8 L328.83,34.79 L328.89,34.78 L328.95,34.77 L329.01,34.76 L329.07,34.75 L329.13,34.74 L329.19,34.74 L329.25,34.73 L329.31,34.72 L329.37,34.72 L329.44,34.71 L329.5,34.71 L329.56,34.7 L329.62,34.7 L329.69,34.7 L329.75,34.69 L329.81,34.69 L329.88,34.69 L329.94,34.69 L330.01,34.69 L330.07,34.69 L330.14,34.69 L330.2,34.69 L330.27,34.69 L330.33,34.7 L330.4,34.7" fill="none" stroke="#ff0000" stroke-width="1.7" stroke-linejoin="round" stroke-linecap="round" />
<path d="M58.7,33.3 L58.89,33.31 L59.07,33.31 L59.26,33.32 L59.44,33.33 L59.63,33.34 L59.82,33.34 L60,33.35 L60.19,33.36 L60.38,33.37 L60.56,33.38 L60.75,33.39 L60.93,33.4 L61.12,33.41 L61.31,33.42 L61.49,33.43 L61.68,33.44 L61.87,33.45 L62.05,33.46 L62.24,33.47 L62.42,33.48 L62.61,33.49 L62.8,33.51 L62.98,33.52 L63.17,33.53 L63.36,33.54 L63.54,33.56 L63.73,33.57 L63.91,33.59 L64.1,33.6 L64.12,33.82 L64.14,34.04 L64.16,34.27 L64.18,34.49 L64.2,34.71 L64.22,34.94 L64.23,35.17 L64.25,35.39 L64.27,35.62 L64.29,35.85 L64.31,36.08 L64.32,36.3 L64.34,36.53 L64.36,36.76 L64.37,37 L64.39,37.23 L64.41,37.46 L64.43,37.69 L64.44,37.92 L64.46,38.16 L64.48,38.39 L64.49,38.63 L64.51,38.86 L64.53,39.1 L64.54,39.34 L64.56,39.57 L64.58,39.81 L64.59,40.05 L64.61,40.29 L64.63,40.52 L64.64,40.76 L64.66,41 L64.68,41.24 L64.7,41.48 L64.71,41.72 L64.73,41.97 L64.75,42.21 L64.77,42.45 L64.79,42.69 L64.8,42.93 L64.82,43.18 L64.84,43.42 L64.86,43.66 L64.88,43.91 L64.9,44.15 L64.92,44.39 L64.94,44.64 L64.96,44.88 L64.98,45.13 L65,45.37 L65.02,45.62 L65.04,45.86 L65.07,46.11 L65.09,46.36 L65.11,46.6 L65.13,46.85 L65.16,47.1 L65.18,47.34 L65.2,47.59 L65.23,47.84 L65.25,48.08 L65.28,48.33 L65.31,48.58 L65.33,48.82 L65.36,49.07 L65.39,49.32 L65.41,49.57 L65.44,49.81 L65.47,50.06 L65.5,50.31 L65.53,50.56 L65.56,50.8 L65.59,51.05 L65.62,51.3 L65.66,51.54 L65.69,51.79 L65.72,52.04 L65.76,52.29 L65.79,52.53 L65.83,52.78 L65.86,53.03 L65.9,53.27 L65.94,53.52 L65.98,53.76 L66.02,54.01 L66.06,54.26 L66.1,54.5 L66.14,54.75 L66.18,54.99 L66.22,55.24 L66.27,55.48 L66.31,55.73 L66.36,55.97 L66.4,56.22 L66.45,56.46 L66.5,56.7 L66.55,56.95 L66.6,57.19 L66.65,57.43 L66.7,57.67 L66.75,57.92 L66.8,58.16 L66.86,58.4 L66.91,58.64 L66.97,58.88 L67.02,59.12 L67.08,59.36 L67.14,59.6 L67.2,59.84 L67.26,60.08 L67.32,60.31 L67.39,60.55 L67.45,60.79 L67.52,61.03 L67.58,61.26 L67.65,61.5 L67.72,61.73 L67.79,61.97 L67.86,62.2 L67.93,62.43 L68,62.67 L68.08,62.9 L68.15,63.13 L68.23,63.36 L68.31,63.59 L68.39,63.82 L68.47,64.05 L68.55,64.28 L68.63,64.51 L68.71,64.73 L68.8,64.96 L68.88,65.19 L68.97,65.41 L69.06,65.64 L69.15,65.86 L69.24,66.08 L69.34,66.31 L69.43,66.53 L69.53,66.75 L69.62,66.97 L69.72,67.19 L69.82,67.41 L69.92,67.62 L70.02,67.84 L70.13,68.06 L70.23,68.27 L70.34,68.49 L70.45,68.7 L70.56,68.91 L70.67,69.13 L70.78,69.34 L70.9,69.55 L71.01,69.76 L71.13,69.96 L71.25,70.17 L71.37,70.38 L71.49,70.58 L71.62,70.79 L71.74,70.99 L71.87,71.19 L72,71.39 L72.13,71.6 L72.26,71.79 L72.39,71.99 L72.53,72.19 L72.66,72.39 L72.8,72.58 L72.94,72.78 L73.09,72.97 L73.23,73.16 L73.37,73.35 L73.52,73.54 L73.67,73.73 L73.82,73.92 L73.97,74.1 L74.13,74.29 L74.28,74.47 L74.44,74.66 L74.6,74.84 L74.76,75.02 L74.93,75.2 L75.09,75.37 L75.26,75.55 L75.43,75.73 L75.6,75.9 L75.77,76.07 L75.95,76.25 L76.12,76.42 L76.3,76.58 L76.48,76.75 L76.67,76.92 L76.85,77.08 L77.04,77.25 L77.23,77.41 L77.42,77.57 L77.61,77.73 L77.8,77.89 L78,78.04 L78.2,78.2 L78.23,77.94 L78.27,77.68 L78.3,77.42 L78.33,77.16 L78.37,76.9 L78.4,76.64 L78.43,76.37 L78.47,76.11 L78.5,75.84 L78.54,75.58 L78.57,75.31 L78.61,75.04 L78.64,74.78 L78.68,74.51 L78.72,74.24 L78.75,73.97 L78.79,73.7 L78.83,73.43 L78.87,73.15 L78.91,72.88 L78.95,72.61 L78.98,72.33 L79.02,72.06 L79.07,71.78 L79.11,71.51 L79.15,71.23 L79.19,70.96 L79.23,70.68 L79.27,70.4 L79.32,70.13 L79.36,69.85 L79.41,69.57 L79.45,69.29 L79.5,69.01 L79.54,68.73 L79.59,68.45 L79.64,68.17 L79.68,67.89 L79.73,67.61 L79.78,67.33 L79.83,67.05 L79.88,66.77 L79.93,66.49 L79.98,66.21 L80.04,65.93 L80.09,65.64 L80.14,65.36 L80.2,65.08 L80.25,64.8 L80.31,64.52 L80.37,64.24 L80.43,63.95 L80.48,63.67 L80.54,63.39 L80.6,63.11 L80.67,62.83 L80.73,62.55 L80.79,62.26 L80.85,61.98 L80.92,61.7 L80.98,61.42 L81.05,61.14 L81.12,60.86 L81.18,60.58 L81.25,60.3 L81.32,60.02 L81.39,59.74 L81.47,59.46 L81.54,59.18 L81.61,58.9 L81.69,58.62 L81.76,58.34 L81.84,58.07 L81.92,57.79 L82,57.51 L82.08,57.24 L82.16,56.96 L82.24,56.68 L82.32,56.41 L82.41,56.13 L82.49,55.86 L82.58,55.59 L82.67,55.31 L82.75,55.04 L82.84,54.77 L82.94,54.5 L83.03,54.23 L83.12,53.96 L83.22,53.69 L83.31,53.42 L83.41,53.15 L83.51,52.89 L83.61,52.62 L83.71,52.36 L83.81,52.09 L83.91,51.83 L84.02,51.56 L84.12,51.3 L84.23,51.04 L84.34,50.78 L84.45,50.52 L84.56,50.26 L84.67,50 L84.79,49.75 L84.9,49.49 L85.02,49.24 L85.14,48.98 L85.26,48.73 L85.38,48.48 L85.5,48.23 L85.63,47.98 L85.75,47.73 L85.88,47.48 L86.01,47.24 L86.14,46.99 L86.27,46.75 L86.4,46.5 L86.54,46.26 L86.67,46.02 L86.81,45.78 L86.95,45.55 L87.09,45.31 L87.23,45.07 L87.38,44.84 L87.52,44.61 L87.67,44.38 L87.82,44.15 L87.97,43.92 L88.12,43.69 L88.28,43.47 L88.43,43.24 L88.59,43.02 L88.75,42.8 L88.91,42.58 L89.07,42.36 L89.23,42.14 L89.4,41.93 L89.57,41.72 L89.74,41.5 L89.91,41.29 L90.08,41.08 L90.26,40.88 L90.43,40.67 L90.61,40.47 L90.79,40.27 L90.98,40.07 L91.16,39.87 L91.35,39.67 L91.53,39.48 L91.72,39.28 L91.91,39.09 L92.11,38.9 L92.3,38.71 L92.5,38.53 L92.7,38.34 L92.9,38.16 L93.11,37.98 L93.31,37.8 L93.52,37.63 L93.73,37.45 L93.94,37.28 L94.15,37.11 L94.37,36.94 L94.59,36.78 L94.81,36.61 L95.03,36.45 L95.25,36.29 L95.48,36.13 L95.71,35.98 L95.94,35.82 L96.17,35.67 L96.41,35.52 L96.64,35.38 L96.88,35.23 L97.12,35.09 L97.37,34.95 L97.61,34.81 L97.86,34.68 L98.11,34.54 L98.36,34.41 L98.62,34.29 L98.87,34.16 L99.13,34.04 L99.39,33.91 L99.66,33.8 L99.92,33.68 L100.19,33.57 L100.46,33.45 L100.74,33.35 L101.01,33.24 L101.29,33.14 L101.57,33.03 L101.85,32.94 L102.14,32.84 L102.43,32.75 L102.72,32.66 L103.01,32.57 L103.3,32.48 L103.6,32.4 L103.69,32.53 L103.77,32.66 L103.86,32.79 L103.94,32.93 L104.02,33.07 L104.1,33.22 L104.18,33.36 L104.25,33.52 L104.33,33.67 L104.4,33.83 L104.47,33.99 L104.54,34.15 L104.61,34.32 L104.68,34.49 L104.74,34.66 L104.81,34.84 L104.87,35.02 L104.93,35.2 L104.99,35.39 L105.05,35.57 L105.11,35.76 L105.17,35.96 L105.22,36.15 L105.28,36.35 L105.33,36.55 L105.38,36.76 L105.43,36.96 L105.48,37.17 L105.53,37.38 L105.58,37.59 L105.63,37.81 L105.68,38.03 L105.72,38.25 L105.77,38.47 L105.81,38.69 L105.85,38.92 L105.9,39.15 L105.94,39.38 L105.98,39.61 L106.02,39.85 L106.06,40.08 L106.1,40.32 L106.14,40.56 L106.17,40.8 L106.21,41.05 L106.25,41.29 L106.28,41.54 L106.32,41.79 L106.35,42.04 L106.39,42.29 L106.42,42.54 L106.46,42.8 L106.49,43.05 L106.52,43.31 L106.56,43.57 L106.59,43.83 L106.62,44.09 L106.66,44.36 L106.69,44.62 L106.72,44.88 L106.75,45.15 L106.78,45.42 L106.82,45.69 L106.85,45.95 L106.88,46.22 L106.91,46.49 L106.94,46.77 L106.97,47.04 L107.01,47.31 L107.04,47.59 L107.07,47.86 L107.1,48.14 L107.14,48.41 L107.17,48.69 L107.2,48.96 L107.24,49.24 L107.27,49.52 L107.3,49.8 L107.34,50.07 L107.37,50.35 L107.41,50.63 L107.44,50.91 L107.48,51.19 L107.52,51.47 L107.55,51.75 L107.59,52.03 L107.63,52.31 L107.67,52.59 L107.71,52.87 L107.75,53.15 L107.79,53.42 L107.83,53.7 L107.87,53.98 L107.92,54.26 L107.96,54.54 L108.01,54.81 L108.05,55.09 L108.1,55.37 L108.15,55.64 L108.2,55.92 L108.24,56.19 L108.3,56.47 L108.35,56.74 L108.4,57.01 L108.45,57.29 L108.51,57.56 L108.56,57.83 L108.62,58.1 L108.68,58.37 L108.74,58.63 L108.8,58.9 L108.86,59.17 L108.92,59.43 L108.99,59.69 L109.05,59.96 L109.12,60.22 L109.19,60.48 L109.26,60.74 L109.33,60.99 L109.41,61.25 L109.48,61.5 L109.56,61.76 L109.63,62.01 L109.71,62.26 L109.79,62.5 L109.88,62.75 L109.96,63 L110.05,63.24 L110.13,63.48 L110.22,63.72 L110.31,63.96 L110.41,64.19 L110.5,64.43 L110.6,64.66 L110.7,64.89 L110.8,65.12 L110.9,65.34 L111.01,65.57 L111.11,65.79 L111.22,66.01 L111.33,66.22 L111.44,66.44 L111.56,66.65 L111.68,66.86 L111.79,67.07 L111.92,67.27 L112.04,67.47 L112.17,67.67 L112.29,67.87 L112.42,68.07 L112.56,68.26 L112.69,68.45 L112.83,68.63 L112.97,68.82 L113.11,69 L113.26,69.18 L113.4,69.35 L113.55,69.52 L113.71,69.69 L113.86,69.86 L114.02,70.02 L114.18,70.18 L114.34,70.34 L114.51,70.49 L114.67,70.64 L114.84,70.79 L115.02,70.93 L115.19,71.07 L115.37,71.21 L115.56,71.34 L115.74,71.47 L115.93,71.6 L116.12,71.72 L116.31,71.84 L116.51,71.95 L116.71,72.06 L116.91,72.17 L117.12,72.27 L117.33,72.37 L117.54,72.47 L117.76,72.56 L117.97,72.65 L118.2,72.73 L118.42,72.81 L118.65,72.89 L118.88,72.96 L119.11,73.03 L119.35,73.09 L119.59,73.15 L119.84,73.21 L120.09,73.26 L120.34,73.3 L120.59,73.35 L120.85,73.38 L121.12,73.42 L121.38,73.44 L121.65,73.47 L121.92,73.49 L122.2,73.5 L122.21,73.22 L122.23,72.95 L122.25,72.67 L122.26,72.4 L122.28,72.12 L122.31,71.85 L122.33,71.57 L122.35,71.3 L122.38,71.02 L122.41,70.75 L122.44,70.47 L122.47,70.2 L122.5,69.92 L122.53,69.65 L122.57,69.37 L122.6,69.1 L122.64,68.82 L122.68,68.55 L122.72,68.28 L122.76,68 L122.81,67.73 L122.85,67.45 L122.9,67.18 L122.95,66.91 L123,66.63 L123.05,66.36 L123.1,66.09 L123.16,65.81 L123.21,65.54 L123.27,65.27 L123.33,65 L123.39,64.73 L123.45,64.46 L123.52,64.19 L123.58,63.91 L123.65,63.64 L123.71,63.37 L123.78,63.11 L123.85,62.84 L123.93,62.57 L124,62.3 L124.07,62.03 L124.15,61.76 L124.23,61.5 L124.31,61.23 L124.39,60.96 L124.47,60.7 L124.55,60.43 L124.64,60.17 L124.73,59.9 L124.81,59.64 L124.9,59.38 L124.99,59.11 L125.09,58.85 L125.18,58.59 L125.28,58.33 L125.37,58.07 L125.47,57.81 L125.57,57.55 L125.67,57.29 L125.77,57.03 L125.88,56.77 L125.98,56.52 L126.09,56.26 L126.2,56 L126.3,55.75 L126.42,55.49 L126.53,55.24 L126.64,54.99 L126.76,54.73 L126.87,54.48 L126.99,54.23 L127.11,53.98 L127.23,53.73 L127.35,53.48 L127.47,53.24 L127.6,52.99 L127.73,52.74 L127.85,52.5 L127.98,52.25 L128.11,52.01 L128.24,51.77 L128.38,51.52 L128.51,51.28 L128.65,51.04 L128.78,50.8 L128.92,50.56 L129.06,50.33 L129.2,50.09 L129.35,49.85 L129.49,49.62 L129.64,49.38 L129.78,49.15 L129.93,48.92 L130.08,48.69 L130.23,48.46 L130.38,48.23 L130.54,48 L130.69,47.77 L130.85,47.55 L131.01,47.32 L131.16,47.1 L131.32,46.88 L131.49,46.66 L131.65,46.44 L131.81,46.22 L131.98,46 L132.15,45.78 L132.31,45.56 L132.48,45.35 L132.65,45.14 L132.83,44.92 L133,44.71 L133.18,44.5 L133.35,44.29 L133.53,44.09 L133.71,43.88 L133.89,43.67 L134.07,43.47 L134.25,43.27 L134.44,43.07 L134.62,42.87 L134.81,42.67 L135,42.47 L135.19,42.27 L135.38,42.08 L135.57,41.88 L135.76,41.69 L135.96,41.5 L136.15,41.31 L136.35,41.12 L136.55,40.94 L136.75,40.75 L136.95,40.57 L137.15,40.39 L137.36,40.21 L137.56,40.03 L137.77,39.85 L137.97,39.67 L138.18,39.5 L138.39,39.32 L138.6,39.15 L138.82,38.98 L139.03,38.81 L139.25,38.64 L139.46,38.48 L139.68,38.31 L139.9,38.15 L140.12,37.99 L140.34,37.83 L140.56,37.67 L140.79,37.52 L141.01,37.36 L141.24,37.21 L141.47,37.06 L141.7,36.91 L141.93,36.76 L142.16,36.61 L142.39,36.47 L142.62,36.32 L142.86,36.18 L143.1,36.04 L143.33,35.91 L143.57,35.77 L143.81,35.64 L144.05,35.5 L144.3,35.37 L144.54,35.24 L144.79,35.12 L145.03,34.99 L145.28,34.87 L145.53,34.75 L145.78,34.63 L146.03,34.51 L146.28,34.39 L146.54,34.28 L146.79,34.17 L147.05,34.06 L147.3,33.95 L147.56,33.84 L147.82,33.74 L148.08,33.63 L148.34,33.53 L148.61,33.43 L148.87,33.34 L149.14,33.24 L149.4,33.15 L149.67,33.06 L149.94,32.97 L150.21,32.88 L150.48,32.8 L150.76,32.72 L151.03,32.64 L151.31,32.56 L151.58,32.48 L151.86,32.41 L152.14,32.34 L152.42,32.27 L152.7,32.2 L152.74,32.36 L152.78,32.53 L152.83,32.69 L152.87,32.86 L152.91,33.02 L152.95,33.19 L152.99,33.35 L153.03,33.52 L153.07,33.68 L153.12,33.85 L153.16,34.02 L153.2,34.18 L153.24,34.35 L153.28,34.52 L153.32,34.68 L153.36,34.85 L153.4,35.02 L153.44,35.18 L153.49,35.35 L153.53,35.52 L153.57,35.69 L153.61,35.86 L153.65,36.02 L153.69,36.19 L153.73,36.36 L153.77,36.53 L153.82,36.7 L153.86,36.87 L153.9,37.04 L153.94,37.2 L153.98,37.37 L154.02,37.54 L154.07,37.71 L154.11,37.88 L154.15,38.05 L154.19,38.22 L154.24,38.39 L154.28,38.56 L154.32,38.73 L154.36,38.9 L154.41,39.07 L154.45,39.24 L154.49,39.41 L154.54,39.58 L154.58,39.75 L154.62,39.92 L154.67,40.09 L154.71,40.26 L154.76,40.43 L154.8,40.6 L154.84,40.77 L154.89,40.94 L154.93,41.11 L154.98,41.28 L155.03,41.45 L155.07,41.62 L155.12,41.79 L155.16,41.96 L155.21,42.13 L155.26,42.3 L155.3,42.47 L155.35,42.64 L155.4,42.81 L155.45,42.98 L155.49,43.15 L155.54,43.31 L155.59,43.48 L155.64,43.65 L155.69,43.82 L155.74,43.99 L155.79,44.16 L155.84,44.33 L155.89,44.5 L155.94,44.67 L155.99,44.83 L156.04,45 L156.1,45.17 L156.15,45.34 L156.2,45.51 L156.26,45.67 L156.31,45.84 L156.36,46.01 L156.42,46.18 L156.47,46.34 L156.53,46.51 L156.58,46.68 L156.64,46.84 L156.69,47.01 L156.75,47.17 L156.81,47.34 L156.87,47.5 L156.92,47.67 L156.98,47.84 L157.04,48 L157.1,48.16 L157.16,48.33 L157.22,48.49 L157.28,48.66 L157.34,48.82 L157.41,48.98 L157.47,49.15 L157.53,49.31 L157.6,49.47 L157.66,49.63 L157.72,49.8 L157.79,49.96 L157.85,50.12 L157.92,50.28 L157.99,50.44 L158.05,50.6 L158.12,50.76 L158.19,50.92 L158.26,51.08 L158.33,51.24 L158.4,51.4 L158.47,51.56 L158.54,51.72 L158.61,51.87 L158.69,52.03 L158.76,52.19 L158.83,52.35 L158.91,52.5 L158.98,52.66 L159.06,52.81 L159.13,52.97 L159.21,53.12 L159.29,53.28 L159.37,53.43 L159.45,53.58 L159.53,53.74 L159.61,53.89 L159.69,54.04 L159.77,54.19 L159.85,54.35 L159.93,54.5 L160.02,54.65 L160.1,54.8 L160.19,54.95 L160.27,55.1 L160.36,55.25 L160.45,55.39 L160.54,55.54 L160.63,55.69 L160.72,55.83 L160.81,55.98 L160.9,56.13 L160.99,56.27 L161.08,56.42 L161.18,56.56 L161.27,56.7 L161.37,56.85 L161.46,56.99 L161.56,57.13 L161.66,57.27 L161.75,57.42 L161.85,57.56 L161.95,57.7 L162.06,57.84 L162.16,57.97 L162.26,58.11 L162.36,58.25 L162.47,58.39 L162.57,58.52 L162.68,58.66 L162.79,58.79 L162.9,58.93 L163,59.06 L163.11,59.2 L163.22,59.33 L163.34,59.46 L163.45,59.59 L163.56,59.72 L163.68,59.85 L163.79,59.98 L163.91,60.11 L164.03,60.24 L164.14,60.37 L164.26,60.5 L164.38,60.62 L164.5,60.75 L164.63,60.87 L164.75,61 L164.87,61.12 L165,61.24 L165.13,61.37 L165.25,61.49 L165.38,61.61 L165.51,61.73 L165.64,61.85 L165.77,61.97 L165.9,62.08 L166.04,62.2 L166.17,62.32 L166.31,62.43 L166.44,62.55 L166.58,62.66 L166.72,62.78 L166.86,62.89 L167,63 L167.06,62.8 L167.12,62.61 L167.17,62.41 L167.23,62.22 L167.29,62.02 L167.35,61.82 L167.41,61.62 L167.48,61.43 L167.54,61.23 L167.6,61.03 L167.66,60.83 L167.72,60.63 L167.79,60.43 L167.85,60.23 L167.92,60.03 L167.98,59.83 L168.05,59.63 L168.11,59.43 L168.18,59.23 L168.24,59.02 L168.31,58.82 L168.38,58.62 L168.45,58.42 L168.52,58.22 L168.59,58.01 L168.66,57.81 L168.73,57.61 L168.8,57.41 L168.87,57.2 L168.94,57 L169.01,56.8 L169.09,56.6 L169.16,56.39 L169.24,56.19 L169.31,55.99 L169.39,55.78 L169.46,55.58 L169.54,55.38 L169.62,55.18 L169.7,54.97 L169.77,54.77 L169.85,54.57 L169.93,54.37 L170.01,54.16 L170.1,53.96 L170.18,53.76 L170.26,53.56 L170.34,53.36 L170.43,53.15 L170.51,52.95 L170.6,52.75 L170.68,52.55 L170.77,52.35 L170.86,52.15 L170.94,51.95 L171.03,51.75 L171.12,51.55 L171.21,51.35 L171.3,51.15 L171.39,50.95 L171.49,50.76 L171.58,50.56 L171.67,50.36 L171.77,50.16 L171.86,49.97 L171.96,49.77 L172.05,49.57 L172.15,49.38 L172.25,49.18 L172.35,48.99 L172.45,48.8 L172.55,48.6 L172.65,48.41 L172.75,48.22 L172.85,48.03 L172.96,47.83 L173.06,47.64 L173.17,47.45 L173.27,47.26 L173.38,47.08 L173.48,46.89 L173.59,46.7 L173.7,46.51 L173.81,46.33 L173.92,46.14 L174.03,45.96 L174.15,45.77 L174.26,45.59 L174.37,45.41 L174.49,45.22 L174.6,45.04 L174.72,44.86 L174.84,44.68 L174.96,44.5 L175.08,44.33 L175.2,44.15 L175.32,43.97 L175.44,43.8 L175.56,43.62 L175.68,43.45 L175.81,43.28 L175.93,43.1 L176.06,42.93 L176.19,42.76 L176.32,42.59 L176.45,42.42 L176.58,42.26 L176.71,42.09 L176.84,41.93 L176.97,41.76 L177.11,41.6 L177.24,41.44 L177.38,41.28 L177.51,41.12 L177.65,40.96 L177.79,40.8 L177.93,40.64 L178.07,40.49 L178.21,40.33 L178.35,40.18 L178.5,40.03 L178.64,39.88 L178.79,39.73 L178.94,39.58 L179.08,39.43 L179.23,39.29 L179.38,39.14 L179.53,39 L179.68,38.86 L179.84,38.71 L179.99,38.58 L180.15,38.44 L180.3,38.3 L180.46,38.16 L180.62,38.03 L180.78,37.9 L180.94,37.77 L181.1,37.64 L181.26,37.51 L181.43,37.38 L181.59,37.25 L181.76,37.13 L181.92,37.01 L182.09,36.89 L182.26,36.77 L182.43,36.65 L182.6,36.53 L182.78,36.42 L182.95,36.3 L183.12,36.19 L183.3,36.08 L183.48,35.97 L183.66,35.86 L183.84,35.76 L184.02,35.65 L184.2,35.55 L184.38,35.45 L184.57,35.35 L184.75,35.25 L184.94,35.16 L185.13,35.06 L185.31,34.97 L185.51,34.88 L185.7,34.79 L185.89,34.71 L186.08,34.62 L186.28,34.54 L186.47,34.46 L186.67,34.38 L186.87,34.3 L187.07,34.22 L187.27,34.15 L187.48,34.08 L187.68,34.01 L187.88,33.94 L188.09,33.87 L188.3,33.81 L188.51,33.74 L188.72,33.68 L188.93,33.62 L189.14,33.57 L189.36,33.51 L189.57,33.46 L189.79,33.41 L190.01,33.36 L190.23,33.31 L190.45,33.27 L190.67,33.23 L190.89,33.19 L191.12,33.15 L191.34,33.11 L191.57,33.08 L191.8,33.05 L192.03,33.02 L192.26,32.99 L192.49,32.96 L192.73,32.94 L192.96,32.92 L193.2,32.9 L193.24,33 L193.27,33.1 L193.31,33.2 L193.35,33.3 L193.38,33.4 L193.42,33.5 L193.45,33.6 L193.49,33.7 L193.53,33.81 L193.56,33.91 L193.6,34.01 L193.64,34.11 L193.67,34.22 L193.71,34.32 L193.75,34.42 L193.78,34.53 L193.82,34.63 L193.86,34.74 L193.9,34.84 L193.93,34.95 L193.97,35.05 L194.01,35.16 L194.05,35.26 L194.08,35.37 L194.12,35.47 L194.16,35.58 L194.2,35.69 L194.24,35.79 L194.27,35.9 L194.31,36.01 L194.35,36.11 L194.39,36.22 L194.43,36.33 L194.47,36.43 L194.51,36.54 L194.55,36.65 L194.59,36.75 L194.63,36.86 L194.67,36.97 L194.71,37.08 L194.75,37.18 L194.79,37.29 L194.83,37.4 L194.87,37.51 L194.91,37.61 L194.95,37.72 L194.99,37.83 L195.03,37.94 L195.08,38.04 L195.12,38.15 L195.16,38.26 L195.2,38.37 L195.24,38.47 L195.29,38.58 L195.33,38.69 L195.37,38.8 L195.42,38.9 L195.46,39.01 L195.51,39.12 L195.55,39.23 L195.6,39.33 L195.64,39.44 L195.69,39.55 L195.73,39.65 L195.78,39.76 L195.83,39.86 L195.87,39.97 L195.92,40.08 L195.97,40.18 L196.01,40.29 L196.06,40.39 L196.11,40.5 L196.16,40.6 L196.21,40.71 L196.26,40.81 L196.31,40.91 L196.36,41.02 L196.41,41.12 L196.46,41.23 L196.51,41.33 L196.56,41.43 L196.61,41.53 L196.66,41.64 L196.72,41.74 L196.77,41.84 L196.82,41.94 L196.87,42.04 L196.93,42.14 L196.98,42.24 L197.04,42.34 L197.09,42.44 L197.15,42.54 L197.2,42.64 L197.26,42.74 L197.32,42.84 L197.38,42.94 L197.43,43.03 L197.49,43.13 L197.55,43.23 L197.61,43.32 L197.67,43.42 L197.73,43.51 L197.79,43.61 L197.85,43.7 L197.91,43.8 L197.97,43.89 L198.03,43.98 L198.1,44.08 L198.16,44.17 L198.22,44.26 L198.29,44.35 L198.35,44.44 L198.42,44.53 L198.48,44.62 L198.55,44.71 L198.62,44.8 L198.68,44.88 L198.75,44.97 L198.82,45.06 L198.89,45.14 L198.96,45.23 L199.03,45.31 L199.1,45.4 L199.17,45.48 L199.24,45.56 L199.31,45.65 L199.39,45.73 L199.46,45.81 L199.53,45.89 L199.61,45.97 L199.68,46.05 L199.76,46.13 L199.84,46.2 L199.91,46.28 L199.99,46.36 L200.07,46.43 L200.15,46.51 L200.23,46.58 L200.31,46.65 L200.39,46.73 L200.47,46.8 L200.55,46.87 L200.63,46.94 L200.72,47.01 L200.8,47.08 L200.88,47.15 L200.97,47.21 L201.05,47.28 L201.14,47.35 L201.23,47.41 L201.32,47.47 L201.4,47.54 L201.49,47.6 L201.58,47.66 L201.67,47.72 L201.76,47.78 L201.86,47.84 L201.95,47.9 L202.04,47.95 L202.14,48.01 L202.23,48.06 L202.32,48.12 L202.42,48.17 L202.52,48.22 L202.62,48.28 L202.71,48.33 L202.81,48.38 L202.91,48.42 L203.01,48.47 L203.11,48.52 L203.22,48.56 L203.32,48.61 L203.42,48.65 L203.53,48.69 L203.63,48.73 L203.74,48.78 L203.84,48.81 L203.95,48.85 L204.06,48.89 L204.17,48.93 L204.28,48.96 L204.39,49 L204.5,49.03 L204.61,49.06 L204.73,49.09 L204.84,49.12 L204.96,49.15 L205.07,49.18 L205.19,49.2 L205.31,49.23 L205.42,49.25 L205.54,49.27 L205.66,49.3 L205.78,49.32 L205.9,49.34 L206.03,49.35 L206.15,49.37 L206.27,49.39 L206.4,49.4 L206.44,49.25 L206.47,49.1 L206.51,48.95 L206.55,48.8 L206.59,48.66 L206.63,48.51 L206.67,48.36 L206.72,48.22 L206.76,48.07 L206.81,47.93 L206.85,47.78 L206.9,47.64 L206.95,47.49 L207,47.35 L207.05,47.21 L207.1,47.07 L207.16,46.93 L207.21,46.79 L207.26,46.65 L207.32,46.51 L207.38,46.37 L207.43,46.23 L207.49,46.09 L207.55,45.95 L207.61,45.82 L207.68,45.68 L207.74,45.55 L207.8,45.41 L207.87,45.28 L207.93,45.14 L208,45.01 L208.07,44.88 L208.13,44.75 L208.2,44.62 L208.27,44.49 L208.34,44.36 L208.42,44.23 L208.49,44.1 L208.56,43.97 L208.64,43.84 L208.71,43.71 L208.79,43.59 L208.87,43.46 L208.95,43.34 L209.03,43.21 L209.11,43.09 L209.19,42.97 L209.27,42.84 L209.35,42.72 L209.44,42.6 L209.52,42.48 L209.6,42.36 L209.69,42.24 L209.78,42.12 L209.87,42.01 L209.95,41.89 L210.04,41.77 L210.13,41.66 L210.22,41.54 L210.32,41.43 L210.41,41.31 L210.5,41.2 L210.6,41.09 L210.69,40.98 L210.79,40.86 L210.88,40.75 L210.98,40.64 L211.08,40.54 L211.18,40.43 L211.28,40.32 L211.38,40.21 L211.48,40.11 L211.58,40 L211.68,39.9 L211.78,39.79 L211.89,39.69 L211.99,39.59 L212.1,39.49 L212.2,39.38 L212.31,39.28 L212.42,39.18 L212.53,39.09 L212.64,38.99 L212.74,38.89 L212.85,38.79 L212.97,38.7 L213.08,38.6 L213.19,38.51 L213.3,38.41 L213.41,38.32 L213.53,38.23 L213.64,38.14 L213.76,38.05 L213.87,37.96 L213.99,37.87 L214.11,37.78 L214.23,37.69 L214.34,37.61 L214.46,37.52 L214.58,37.44 L214.7,37.35 L214.82,37.27 L214.94,37.19 L215.07,37.1 L215.19,37.02 L215.31,36.94 L215.44,36.86 L215.56,36.79 L215.68,36.71 L215.81,36.63 L215.93,36.55 L216.06,36.48 L216.19,36.4 L216.32,36.33 L216.44,36.26 L216.57,36.19 L216.7,36.11 L216.83,36.04 L216.96,35.98 L217.09,35.91 L217.22,35.84 L217.35,35.77 L217.48,35.71 L217.62,35.64 L217.75,35.58 L217.88,35.51 L218.01,35.45 L218.15,35.39 L218.28,35.33 L218.42,35.27 L218.55,35.21 L218.69,35.15 L218.83,35.09 L218.96,35.04 L219.1,34.98 L219.24,34.93 L219.37,34.87 L219.51,34.82 L219.65,34.77 L219.79,34.72 L219.93,34.67 L220.07,34.62 L220.21,34.57 L220.35,34.52 L220.49,34.47 L220.63,34.43 L220.77,34.38 L220.92,34.34 L221.06,34.3 L221.2,34.26 L221.34,34.21 L221.49,34.17 L221.63,34.14 L221.78,34.1 L221.92,34.06 L222.06,34.02 L222.21,33.99 L222.35,33.95 L222.5,33.92 L222.65,33.89 L222.79,33.86 L222.94,33.83 L223.09,33.8 L223.23,33.77 L223.38,33.74 L223.53,33.71 L223.67,33.69 L223.82,33.66 L223.97,33.64 L224.12,33.62 L224.27,33.6 L224.42,33.57 L224.56,33.55 L224.71,33.54 L224.86,33.52 L225.01,33.5 L225.16,33.49 L225.31,33.47 L225.46,33.46 L225.61,33.44 L225.76,33.43 L225.92,33.42 L226.07,33.41 L226.22,33.4 L226.37,33.4 L226.52,33.39 L226.67,33.38 L226.82,33.38 L226.98,33.38 L227.13,33.37 L227.28,33.37 L227.43,33.37 L227.58,33.37 L227.74,33.38 L227.89,33.38 L228.04,33.38 L228.19,33.39 L228.35,33.39 L228.5,33.4 L228.52,33.51 L228.54,33.62 L228.56,33.73 L228.58,33.83 L228.61,33.94 L228.63,34.04 L228.66,34.15 L228.68,34.25 L228.71,34.35 L228.74,34.45 L228.77,34.55 L228.8,34.64 L228.83,34.74 L228.86,34.84 L228.9,34.93 L228.93,35.02 L228.97,35.12 L229.01,35.21 L229.04,35.3 L229.08,35.39 L229.12,35.47 L229.16,35.56 L229.2,35.65 L229.25,35.73 L229.29,35.82 L229.34,35.9 L229.38,35.98 L229.43,36.06 L229.47,36.14 L229.52,36.22 L229.57,36.3 L229.62,36.38 L229.67,36.45 L229.72,36.53 L229.78,36.6 L229.83,36.68 L229.88,36.75 L229.94,36.82 L230,36.89 L230.05,36.96 L230.11,37.03 L230.17,37.1 L230.23,37.17 L230.29,37.23 L230.35,37.3 L230.41,37.36 L230.47,37.43 L230.54,37.49 L230.6,37.55 L230.66,37.61 L230.73,37.67 L230.79,37.73 L230.86,37.79 L230.93,37.85 L231,37.91 L231.07,37.96 L231.13,38.02 L231.21,38.08 L231.28,38.13 L231.35,38.18 L231.42,38.24 L231.49,38.29 L231.57,38.34 L231.64,38.39 L231.71,38.44 L231.79,38.49 L231.86,38.54 L231.94,38.59 L232.02,38.63 L232.1,38.68 L232.17,38.73 L232.25,38.77 L232.33,38.82 L232.41,38.86 L232.49,38.9 L232.57,38.95 L232.65,38.99 L232.73,39.03 L232.82,39.07 L232.9,39.11 L232.98,39.15 L233.07,39.19 L233.15,39.23 L233.24,39.27 L233.32,39.3 L233.41,39.34 L233.49,39.38 L233.58,39.41 L233.67,39.45 L233.75,39.48 L233.84,39.52 L233.93,39.55 L234.02,39.58 L234.11,39.61 L234.19,39.65 L234.28,39.68 L234.37,39.71 L234.46,39.74 L234.55,39.77 L234.65,39.8 L234.74,39.83 L234.83,39.86 L234.92,39.89 L235.01,39.91 L235.1,39.94 L235.2,39.97 L235.29,40 L235.38,40.02 L235.48,40.05 L235.57,40.07 L235.66,40.1 L235.76,40.12 L235.85,40.15 L235.95,40.17 L236.04,40.2 L236.14,40.22 L236.23,40.24 L236.33,40.27 L236.42,40.29 L236.52,40.31 L236.62,40.33 L236.71,40.35 L236.81,40.38 L236.9,40.4 L237,40.42 L237.1,40.44 L237.19,40.46 L237.29,40.48 L237.39,40.5 L237.48,40.52 L237.58,40.54 L237.68,40.56 L237.77,40.57 L237.87,40.59 L237.97,40.61 L238.07,40.63 L238.16,40.65 L238.26,40.67 L238.36,40.68 L238.45,40.7 L238.55,40.72 L238.65,40.73 L238.75,40.75 L238.84,40.77 L238.94,40.79 L239.04,40.8 L239.13,40.82 L239.23,40.84 L239.33,40.85 L239.43,40.87 L239.52,40.88 L239.62,40.9 L239.72,40.92 L239.81,40.93 L239.91,40.95 L240,40.96 L240.1,40.98 L240.2,41 L240.29,41.01 L240.39,41.03 L240.48,41.04 L240.58,41.06 L240.67,41.07 L240.77,41.09 L240.86,41.11 L240.96,41.12 L241.05,41.14 L241.15,41.15 L241.24,41.17 L241.33,41.18 L241.43,41.2 L241.52,41.22 L241.61,41.23 L241.7,41.25 L241.8,41.26 L241.89,41.28 L241.98,41.3 L242.07,41.31 L242.16,41.33 L242.25,41.35 L242.34,41.36 L242.43,41.38 L242.52,41.4 L242.61,41.42 L242.7,41.43 L242.79,41.45 L242.88,41.47 L242.96,41.49 L243.05,41.51 L243.14,41.52 L243.22,41.54 L243.31,41.56 L243.4,41.58 L243.48,41.6 L243.57,41.62 L243.65,41.64 L243.73,41.66 L243.82,41.68 L243.9,41.7 L243.98,41.6 L244.07,41.51 L244.15,41.41 L244.23,41.31 L244.32,41.22 L244.4,41.12 L244.49,41.03 L244.57,40.94 L244.66,40.84 L244.75,40.75 L244.83,40.66 L244.92,40.57 L245.01,40.48 L245.1,40.39 L245.19,40.3 L245.27,40.21 L245.36,40.12 L245.45,40.03 L245.54,39.94 L245.63,39.86 L245.72,39.77 L245.82,39.68 L245.91,39.6 L246,39.51 L246.09,39.43 L246.18,39.35 L246.28,39.26 L246.37,39.18 L246.46,39.1 L246.56,39.02 L246.65,38.94 L246.75,38.85 L246.84,38.78 L246.94,38.7 L247.03,38.62 L247.13,38.54 L247.22,38.46 L247.32,38.38 L247.42,38.31 L247.52,38.23 L247.61,38.16 L247.71,38.08 L247.81,38.01 L247.91,37.93 L248.01,37.86 L248.11,37.79 L248.21,37.71 L248.31,37.64 L248.41,37.57 L248.51,37.5 L248.61,37.43 L248.71,37.36 L248.81,37.29 L248.91,37.22 L249.02,37.16 L249.12,37.09 L249.22,37.02 L249.32,36.96 L249.43,36.89 L249.53,36.82 L249.63,36.76 L249.74,36.7 L249.84,36.63 L249.95,36.57 L250.05,36.51 L250.16,36.45 L250.26,36.38 L250.37,36.32 L250.48,36.26 L250.58,36.2 L250.69,36.14 L250.8,36.08 L250.9,36.03 L251.01,35.97 L251.12,35.91 L251.23,35.86 L251.34,35.8 L251.45,35.74 L251.55,35.69 L251.66,35.63 L251.77,35.58 L251.88,35.53 L251.99,35.47 L252.1,35.42 L252.21,35.37 L252.32,35.32 L252.44,35.27 L252.55,35.22 L252.66,35.17 L252.77,35.12 L252.88,35.07 L252.99,35.02 L253.11,34.97 L253.22,34.93 L253.33,34.88 L253.45,34.84 L253.56,34.79 L253.67,34.75 L253.79,34.7 L253.9,34.66 L254.01,34.61 L254.13,34.57 L254.24,34.53 L254.36,34.49 L254.47,34.45 L254.59,34.41 L254.71,34.37 L254.82,34.33 L254.94,34.29 L255.05,34.25 L255.17,34.21 L255.29,34.17 L255.4,34.14 L255.52,34.1 L255.64,34.06 L255.75,34.03 L255.87,33.99 L255.99,33.96 L256.11,33.93 L256.23,33.89 L256.34,33.86 L256.46,33.83 L256.58,33.8 L256.7,33.76 L256.82,33.73 L256.94,33.7 L257.06,33.67 L257.18,33.64 L257.3,33.62 L257.42,33.59 L257.54,33.56 L257.66,33.53 L257.78,33.51 L257.9,33.48 L258.02,33.46 L258.14,33.43 L258.26,33.41 L258.38,33.38 L258.51,33.36 L258.63,33.34 L258.75,33.31 L258.87,33.29 L258.99,33.27 L259.11,33.25 L259.24,33.23 L259.36,33.21 L259.48,33.19 L259.6,33.17 L259.73,33.15 L259.85,33.14 L259.97,33.12 L260.1,33.1 L260.22,33.09 L260.34,33.07 L260.47,33.06 L260.59,33.04 L260.71,33.03 L260.84,33.01 L260.96,33 L261.09,32.99 L261.21,32.98 L261.34,32.97 L261.46,32.95 L261.58,32.94 L261.71,32.93 L261.83,32.92 L261.96,32.92 L262.08,32.91 L262.21,32.9 L262.33,32.89 L262.46,32.89 L262.59,32.88 L262.71,32.87 L262.84,32.87 L262.96,32.86 L263.09,32.86 L263.21,32.85 L263.34,32.85 L263.47,32.85 L263.59,32.85 L263.72,32.84 L263.84,32.84 L263.97,32.84 L264.1,32.84 L264.22,32.84 L264.35,32.84 L264.48,32.84 L264.6,32.85 L264.73,32.85 L264.86,32.85 L264.98,32.86 L265.11,32.86 L265.24,32.86 L265.36,32.87 L265.49,32.87 L265.62,32.88 L265.75,32.89 L265.87,32.89 L266,32.9 L266.07,32.93 L266.13,32.97 L266.2,33 L266.27,33.03 L266.34,33.06 L266.4,33.09 L266.47,33.13 L266.54,33.16 L266.6,33.19 L266.67,33.22 L266.74,33.25 L266.81,33.28 L266.88,33.31 L266.94,33.34 L267.01,33.37 L267.08,33.4 L267.15,33.43 L267.22,33.46 L267.28,33.49 L267.35,33.52 L267.42,33.55 L267.49,33.58 L267.56,33.61 L267.63,33.64 L267.69,33.67 L267.76,33.69 L267.83,33.72 L267.9,33.75 L267.97,33.78 L268.04,33.8 L268.11,33.83 L268.18,33.86 L268.25,33.89 L268.32,33.91 L268.38,33.94 L268.45,33.96 L268.52,33.99 L268.59,34.02 L268.66,34.04 L268.73,34.07 L268.8,34.09 L268.87,34.12 L268.94,34.14 L269.01,34.17 L269.08,34.19 L269.15,34.22 L269.22,34.24 L269.29,34.27 L269.36,34.29 L269.43,34.31 L269.5,34.34 L269.57,34.36 L269.64,34.38 L269.71,34.41 L269.78,34.43 L269.86,34.45 L269.93,34.48 L270,34.5 L270.07,34.52 L270.14,34.54 L270.21,34.57 L270.28,34.59 L270.35,34.61 L270.42,34.63 L270.49,34.65 L270.56,34.67 L270.64,34.69 L270.71,34.71 L270.78,34.73 L270.85,34.76 L270.92,34.78 L270.99,34.8 L271.06,34.82 L271.14,34.84 L271.21,34.86 L271.28,34.87 L271.35,34.89 L271.42,34.91 L271.49,34.93 L271.57,34.95 L271.64,34.97 L271.71,34.99 L271.78,35.01 L271.85,35.02 L271.93,35.04 L272,35.06 L272.07,35.08 L272.14,35.1 L272.21,35.11 L272.29,35.13 L272.36,35.15 L272.43,35.16 L272.5,35.18 L272.58,35.2 L272.65,35.21 L272.72,35.23 L272.79,35.25 L272.87,35.26 L272.94,35.28 L273.01,35.29 L273.08,35.31 L273.16,35.33 L273.23,35.34 L273.3,35.36 L273.37,35.37 L273.45,35.39 L273.52,35.4 L273.59,35.42 L273.67,35.43 L273.74,35.44 L273.81,35.46 L273.88,35.47 L273.96,35.49 L274.03,35.5 L274.1,35.51 L274.18,35.53 L274.25,35.54 L274.32,35.55 L274.4,35.57 L274.47,35.58 L274.54,35.59 L274.62,35.6 L274.69,35.62 L274.76,35.63 L274.84,35.64 L274.91,35.65 L274.98,35.67 L275.06,35.68 L275.13,35.69 L275.2,35.7 L275.28,35.71 L275.35,35.72 L275.42,35.73 L275.5,35.75 L275.57,35.76 L275.64,35.77 L275.72,35.78 L275.79,35.79 L275.87,35.8 L275.94,35.81 L276.01,35.82 L276.09,35.83 L276.16,35.84 L276.23,35.85 L276.31,35.86 L276.38,35.87 L276.46,35.88 L276.53,35.89 L276.6,35.89 L276.68,35.9 L276.75,35.91 L276.82,35.92 L276.9,35.93 L276.97,35.94 L277.05,35.95 L277.12,35.95 L277.19,35.96 L277.27,35.97 L277.34,35.98 L277.42,35.99 L277.49,35.99 L277.56,36 L277.64,36.01 L277.71,36.02 L277.79,36.02 L277.86,36.03 L277.93,36.04 L278.01,36.04 L278.08,36.05 L278.16,36.06 L278.23,36.06 L278.3,36.07 L278.38,36.08 L278.45,36.08 L278.53,36.09 L278.6,36.09 L278.67,36.1 L278.75,36.11 L278.82,36.11 L278.9,36.12 L278.97,36.12 L279.04,36.13 L279.12,36.13 L279.19,36.14 L279.26,36.14 L279.34,36.15 L279.41,36.15 L279.49,36.16 L279.56,36.16 L279.63,36.17 L279.71,36.17 L279.78,36.17 L279.86,36.18 L279.93,36.18 L280,36.19 L280.08,36.19 L280.15,36.19 L280.23,36.2 L280.3,36.2 L280.65,36.08 L281,35.96 L281.36,35.85 L281.71,35.73 L282.06,35.62 L282.41,35.51 L282.76,35.41 L283.11,35.3 L283.47,35.2 L283.82,35.1 L284.17,35.01 L284.52,34.92 L284.87,34.83 L285.22,34.75 L285.58,34.66 L285.93,34.58 L286.28,34.5 L286.63,34.42 L286.98,34.35 L287.33,34.27 L287.69,34.2 L288.04,34.13 L288.39,34.06 L288.74,33.99 L289.09,33.93 L289.44,33.87 L289.8,33.81 L290.15,33.75 L290.5,33.7 L290.7,33.71 L290.9,33.72 L291.1,33.72 L291.3,33.73 L291.5,33.74 L291.7,33.75 L291.9,33.76 L292.1,33.77 L292.3,33.78 L292.51,33.79 L292.71,33.8 L292.91,33.81 L293.11,33.82 L293.31,33.83 L293.51,33.84 L293.71,33.85 L293.91,33.86 L294.11,33.87 L294.31,33.88 L294.51,33.89 L294.71,33.91 L294.91,33.92 L295.11,33.93 L295.31,33.94 L295.51,33.95 L295.71,33.97 L295.91,33.98 L296.12,33.99 L296.32,34 L296.52,34.02 L296.72,34.03 L296.92,34.04 L297.12,34.05 L297.32,34.07 L297.52,34.08 L297.72,34.09 L297.92,34.11 L298.12,34.12 L298.32,34.13 L298.52,34.15 L298.72,34.16 L298.92,34.17 L299.12,34.19 L299.32,34.2 L299.52,34.21 L299.73,34.23 L299.93,34.24 L300.13,34.26 L300.33,34.27 L300.53,34.28 L300.73,34.3 L300.93,34.31 L301.13,34.33 L301.33,34.34 L301.53,34.35 L301.73,34.37 L301.93,34.38 L302.13,34.4 L302.33,34.41 L302.53,34.42 L302.73,34.44 L302.93,34.45 L303.14,34.46 L303.34,34.48 L303.54,34.49 L303.74,34.51 L303.94,34.52 L304.14,34.53 L304.34,34.55 L304.54,34.56 L304.74,34.57 L304.94,34.59 L305.14,34.6 L305.34,34.61 L305.54,34.63 L305.74,34.64 L305.94,34.65 L306.14,34.66 L306.34,34.68 L306.55,34.69 L306.75,34.7 L306.95,34.71 L307.15,34.73 L307.35,34.74 L307.55,34.75 L307.75,34.76 L307.95,34.77 L308.15,34.78 L308.35,34.8 L308.55,34.81 L308.75,34.82 L308.95,34.83 L309.15,34.84 L309.35,34.85 L309.55,34.86 L309.75,34.87 L309.95,34.88 L310.16,34.89 L310.36,34.9 L310.56,34.91 L310.76,34.92 L310.96,34.93 L311.16,34.94 L311.36,34.95 L311.56,34.96 L311.76,34.96 L311.96,34.97 L312.16,34.98 L312.36,34.99 L312.56,34.99 L312.76,35 L312.96,35.01 L313.16,35.01 L313.36,35.02 L313.56,35.03 L313.77,35.03 L313.97,35.04 L314.17,35.04 L314.37,35.05 L314.57,35.05 L314.77,35.06 L314.97,35.06 L315.17,35.07 L315.37,35.07 L315.57,35.07 L315.77,35.08 L315.97,35.08 L316.17,35.08 L316.37,35.08 L316.57,35.09 L316.77,35.09 L316.97,35.09 L317.17,35.09 L317.37,35.09 L317.58,35.09 L317.78,35.09 L317.98,35.09 L318.18,35.09 L318.38,35.09 L318.58,35.09 L318.78,35.08 L318.98,35.08 L319.18,35.08 L319.38,35.08 L319.58,35.07 L319.78,35.07 L319.98,35.06 L320.18,35.06 L320.38,35.05 L320.58,35.05 L320.78,35.04 L320.98,35.04 L321.18,35.03 L321.38,35.02 L321.58,35.02 L321.78,35.01 L321.99,35 L322.19,34.99 L322.39,34.98 L322.59,34.97 L322.79,34.96 L322.99,34.95 L323.19,34.94 L323.39,34.93 L323.59,34.92 L323.79,34.9 L323.99,34.89 L324.19,34.88 L324.39,34.86 L324.59,34.85 L324.79,34.83 L324.99,34.82 L325.19,34.8 L325.39,34.79 L325.59,34.77 L325.79,34.75 L325.99,34.73 L326.19,34.72 L326.39,34.7 L326.59,34.68 L326.79,34.66 L326.99,34.64 L327.2,34.62 L327.4,34.59 L327.6,34.57 L327.8,34.55 L328,34.53 L328.2,34.5 L328.4,34.48 L328.6,34.45 L328.8,34.43 L329,34.4 L329.2,34.37 L329.4,34.35 L329.6,34.32 L329.8,34.29 L330,34.26 L330.2,34.23 L330.4,34.2" fill="none" stroke="#4682c0" stroke-width="1.7" stroke-linejoin="round" stroke-linecap="round" />
<path d="M58.7,33.3 L59.06,33.3 L59.41,33.3 L59.77,33.3 L60.12,33.3 L60.48,33.3 L60.83,33.3 L61.19,33.3 L61.54,33.3 L61.9,33.3 L62.25,33.3 L62.61,33.3 L62.96,33.3 L63.32,33.3 L63.67,33.3 L64.03,33.3 L64.38,33.3 L64.74,33.3 L65.09,33.3 L65.45,33.3 L65.8,33.3 L66.16,33.3 L66.51,33.3 L66.87,33.3 L67.22,33.3 L67.58,33.3 L67.93,33.3 L68.29,33.3 L68.64,33.3 L69,33.3 L69.04,33.4 L69.08,33.51 L69.12,33.62 L69.15,33.72 L69.19,33.83 L69.23,33.94 L69.27,34.04 L69.31,34.15 L69.35,34.26 L69.38,34.37 L69.42,34.47 L69.46,34.58 L69.5,34.69 L69.54,34.8 L69.57,34.91 L69.61,35.02 L69.65,35.13 L69.69,35.24 L69.73,35.35 L69.76,35.46 L69.8,35.57 L69.84,35.68 L69.88,35.79 L69.92,35.91 L69.95,36.02 L69.99,36.13 L70.03,36.24 L70.07,36.35 L70.11,36.47 L70.15,36.58 L70.18,36.69 L70.22,36.81 L70.26,36.92 L70.3,37.03 L70.34,37.15 L70.38,37.26 L70.42,37.37 L70.46,37.49 L70.5,37.6 L70.54,37.72 L70.57,37.83 L70.61,37.95 L70.65,38.06 L70.69,38.18 L70.73,38.29 L70.77,38.41 L70.81,38.52 L70.85,38.64 L70.89,38.75 L70.94,38.87 L70.98,38.98 L71.02,39.1 L71.06,39.21 L71.1,39.33 L71.14,39.44 L71.18,39.56 L71.22,39.67 L71.27,39.79 L71.31,39.9 L71.35,40.02 L71.39,40.13 L71.44,40.25 L71.48,40.36 L71.52,40.48 L71.57,40.59 L71.61,40.71 L71.65,40.82 L71.7,40.94 L71.74,41.05 L71.79,41.17 L71.83,41.28 L71.88,41.4 L71.92,41.51 L71.97,41.63 L72.01,41.74 L72.06,41.86 L72.11,41.97 L72.15,42.08 L72.2,42.2 L72.25,42.31 L72.3,42.43 L72.34,42.54 L72.39,42.65 L72.44,42.77 L72.49,42.88 L72.54,42.99 L72.59,43.1 L72.64,43.22 L72.69,43.33 L72.74,43.44 L72.79,43.55 L72.84,43.66 L72.89,43.77 L72.95,43.89 L73,44 L73.05,44.11 L73.1,44.22 L73.16,44.33 L73.21,44.44 L73.27,44.55 L73.32,44.66 L73.37,44.77 L73.43,44.87 L73.49,44.98 L73.54,45.09 L73.6,45.2 L73.66,45.31 L73.71,45.41 L73.77,45.52 L73.83,45.63 L73.89,45.73 L73.95,45.84 L74.01,45.94 L74.07,46.05 L74.13,46.15 L74.19,46.26 L74.25,46.36 L74.31,46.47 L74.37,46.57 L74.44,46.67 L74.5,46.78 L74.56,46.88 L74.63,46.98 L74.69,47.08 L74.76,47.18 L74.82,47.28 L74.89,47.38 L74.96,47.48 L75.02,47.58 L75.09,47.68 L75.16,47.78 L75.23,47.87 L75.3,47.97 L75.37,48.07 L75.44,48.16 L75.51,48.26 L75.58,48.36 L75.65,48.45 L75.73,48.54 L75.8,48.64 L75.87,48.73 L75.95,48.82 L76.02,48.92 L76.1,49.01 L76.18,49.1 L76.25,49.19 L76.33,49.28 L76.41,49.37 L76.49,49.46 L76.57,49.54 L76.65,49.63 L76.73,49.72 L76.81,49.8 L76.89,49.89 L76.97,49.97 L77.06,50.06 L77.14,50.14 L77.22,50.23 L77.31,50.31 L77.39,50.39 L77.48,50.47 L77.57,50.55 L77.65,50.63 L77.74,50.71 L77.83,50.79 L77.92,50.87 L78.01,50.94 L78.1,51.02 L78.2,51.09 L78.29,51.17 L78.38,51.24 L78.48,51.32 L78.57,51.39 L78.67,51.46 L78.76,51.53 L78.86,51.6 L78.96,51.67 L79.05,51.74 L79.15,51.81 L79.25,51.88 L79.35,51.94 L79.46,52.01 L79.56,52.07 L79.66,52.14 L79.76,52.2 L79.87,52.26 L79.97,52.33 L80.08,52.39 L80.19,52.45 L80.29,52.51 L80.4,52.56 L80.51,52.62 L80.62,52.68 L80.73,52.73 L80.84,52.79 L80.96,52.84 L81.07,52.9 L81.18,52.95 L81.3,53 L81.36,52.87 L81.41,52.73 L81.47,52.6 L81.53,52.47 L81.58,52.33 L81.64,52.2 L81.7,52.06 L81.76,51.93 L81.81,51.79 L81.87,51.66 L81.93,51.53 L81.99,51.39 L82.05,51.26 L82.11,51.12 L82.17,50.99 L82.23,50.85 L82.29,50.72 L82.35,50.58 L82.41,50.44 L82.47,50.31 L82.53,50.17 L82.59,50.04 L82.65,49.9 L82.71,49.77 L82.78,49.63 L82.84,49.5 L82.9,49.36 L82.96,49.22 L83.03,49.09 L83.09,48.95 L83.16,48.82 L83.22,48.68 L83.28,48.55 L83.35,48.41 L83.41,48.28 L83.48,48.14 L83.55,48.01 L83.61,47.87 L83.68,47.74 L83.75,47.6 L83.81,47.47 L83.88,47.33 L83.95,47.2 L84.02,47.07 L84.09,46.93 L84.16,46.8 L84.23,46.67 L84.3,46.53 L84.37,46.4 L84.44,46.27 L84.51,46.13 L84.58,46 L84.65,45.87 L84.73,45.74 L84.8,45.6 L84.87,45.47 L84.95,45.34 L85.02,45.21 L85.09,45.08 L85.17,44.95 L85.24,44.82 L85.32,44.69 L85.4,44.56 L85.47,44.43 L85.55,44.3 L85.63,44.17 L85.71,44.04 L85.78,43.92 L85.86,43.79 L85.94,43.66 L86.02,43.53 L86.1,43.41 L86.18,43.28 L86.27,43.16 L86.35,43.03 L86.43,42.91 L86.51,42.78 L86.6,42.66 L86.68,42.53 L86.76,42.41 L86.85,42.29 L86.93,42.17 L87.02,42.04 L87.11,41.92 L87.19,41.8 L87.28,41.68 L87.37,41.56 L87.46,41.44 L87.54,41.32 L87.63,41.21 L87.72,41.09 L87.81,40.97 L87.91,40.86 L88,40.74 L88.09,40.62 L88.18,40.51 L88.28,40.39 L88.37,40.28 L88.46,40.17 L88.56,40.06 L88.65,39.94 L88.75,39.83 L88.85,39.72 L88.94,39.61 L89.04,39.5 L89.14,39.39 L89.24,39.29 L89.34,39.18 L89.44,39.07 L89.54,38.97 L89.64,38.86 L89.74,38.76 L89.85,38.65 L89.95,38.55 L90.05,38.45 L90.16,38.35 L90.26,38.24 L90.37,38.14 L90.48,38.05 L90.58,37.95 L90.69,37.85 L90.8,37.75 L90.91,37.66 L91.02,37.56 L91.13,37.47 L91.24,37.37 L91.35,37.28 L91.46,37.19 L91.58,37.1 L91.69,37.01 L91.81,36.92 L91.92,36.83 L92.04,36.74 L92.15,36.65 L92.27,36.57 L92.39,36.48 L92.51,36.4 L92.63,36.31 L92.75,36.23 L92.87,36.15 L92.99,36.07 L93.11,35.99 L93.23,35.91 L93.36,35.83 L93.48,35.76 L93.61,35.68 L93.73,35.61 L93.86,35.53 L93.99,35.46 L94.12,35.39 L94.25,35.32 L94.38,35.25 L94.51,35.18 L94.64,35.11 L94.77,35.05 L94.9,34.98 L95.04,34.92 L95.17,34.85 L95.3,34.79 L95.44,34.73 L95.58,34.67 L95.72,34.61 L95.85,34.56 L95.99,34.5 L96.13,34.44 L96.27,34.39 L96.42,34.34 L96.56,34.28 L96.7,34.23 L96.84,34.18 L96.99,34.14 L97.14,34.09 L97.28,34.04 L97.43,34 L97.58,33.96 L97.73,33.91 L97.88,33.87 L98.03,33.83 L98.18,33.79 L98.33,33.76 L98.49,33.72 L98.64,33.69 L98.8,33.65 L98.95,33.62 L99.11,33.59 L99.27,33.56 L99.42,33.53 L99.58,33.51 L99.74,33.48 L99.91,33.46 L100.07,33.43 L100.23,33.41 L100.4,33.39 L100.56,33.37 L100.73,33.36 L100.89,33.34 L101.06,33.32 L101.23,33.31 L101.4,33.3 L101.43,33.42 L101.46,33.55 L101.49,33.67 L101.52,33.79 L101.55,33.91 L101.59,34.04 L101.62,34.16 L101.65,34.28 L101.69,34.4 L101.72,34.52 L101.76,34.64 L101.8,34.76 L101.84,34.87 L101.87,34.99 L101.91,35.11 L101.95,35.23 L101.99,35.34 L102.03,35.46 L102.08,35.58 L102.12,35.69 L102.16,35.81 L102.2,35.92 L102.25,36.04 L102.29,36.15 L102.34,36.26 L102.38,36.37 L102.43,36.49 L102.48,36.6 L102.53,36.71 L102.57,36.82 L102.62,36.93 L102.67,37.04 L102.72,37.15 L102.77,37.26 L102.83,37.37 L102.88,37.48 L102.93,37.59 L102.98,37.69 L103.04,37.8 L103.09,37.91 L103.15,38.02 L103.2,38.12 L103.26,38.23 L103.32,38.33 L103.37,38.44 L103.43,38.54 L103.49,38.65 L103.55,38.75 L103.61,38.85 L103.67,38.96 L103.73,39.06 L103.79,39.16 L103.85,39.26 L103.91,39.36 L103.98,39.46 L104.04,39.56 L104.1,39.66 L104.17,39.76 L104.23,39.86 L104.3,39.96 L104.36,40.06 L104.43,40.16 L104.5,40.25 L104.56,40.35 L104.63,40.45 L104.7,40.54 L104.77,40.64 L104.84,40.74 L104.91,40.83 L104.98,40.93 L105.05,41.02 L105.12,41.12 L105.19,41.21 L105.26,41.3 L105.34,41.4 L105.41,41.49 L105.48,41.58 L105.56,41.67 L105.63,41.76 L105.71,41.85 L105.78,41.95 L105.86,42.04 L105.94,42.13 L106.01,42.21 L106.09,42.3 L106.17,42.39 L106.24,42.48 L106.32,42.57 L106.4,42.66 L106.48,42.74 L106.56,42.83 L106.64,42.92 L106.72,43 L106.8,43.09 L106.88,43.18 L106.97,43.26 L107.05,43.35 L107.13,43.43 L107.21,43.51 L107.3,43.6 L107.38,43.68 L107.46,43.76 L107.55,43.85 L107.63,43.93 L107.72,44.01 L107.8,44.09 L107.89,44.17 L107.98,44.26 L108.06,44.34 L108.15,44.42 L108.24,44.5 L108.32,44.58 L108.41,44.66 L108.5,44.73 L108.59,44.81 L108.68,44.89 L108.77,44.97 L108.86,45.05 L108.95,45.12 L109.04,45.2 L109.13,45.28 L109.22,45.35 L109.31,45.43 L109.4,45.5 L109.49,45.58 L109.59,45.65 L109.68,45.73 L109.77,45.8 L109.86,45.88 L109.96,45.95 L110.05,46.02 L110.14,46.1 L110.24,46.17 L110.33,46.24 L110.43,46.31 L110.52,46.39 L110.62,46.46 L110.71,46.53 L110.81,46.6 L110.91,46.67 L111,46.74 L111.1,46.81 L111.19,46.88 L111.29,46.95 L111.39,47.02 L111.49,47.08 L111.58,47.15 L111.68,47.22 L111.78,47.29 L111.88,47.36 L111.98,47.42 L112.08,47.49 L112.17,47.56 L112.27,47.62 L112.37,47.69 L112.47,47.75 L112.57,47.82 L112.67,47.88 L112.77,47.95 L112.87,48.01 L112.97,48.08 L113.07,48.14 L113.18,48.2 L113.28,48.27 L113.38,48.33 L113.48,48.39 L113.58,48.45 L113.68,48.52 L113.78,48.58 L113.89,48.64 L113.99,48.7 L114.09,48.76 L114.19,48.82 L114.3,48.88 L114.4,48.94 L114.5,49 L114.61,49.06 L114.71,49.12 L114.81,49.18 L114.92,49.24 L115.02,49.3 L115.12,49.35 L115.23,49.41 L115.33,49.47 L115.43,49.53 L115.54,49.58 L115.64,49.64 L115.75,49.7 L115.85,49.75 L115.96,49.81 L116.06,49.86 L116.17,49.92 L116.27,49.97 L116.37,50.03 L116.48,50.08 L116.58,50.14 L116.69,50.19 L116.79,50.25 L116.9,50.3 L116.95,50.06 L116.99,49.81 L117.05,49.57 L117.1,49.34 L117.16,49.1 L117.21,48.87 L117.27,48.64 L117.34,48.41 L117.4,48.19 L117.47,47.97 L117.54,47.75 L117.61,47.53 L117.69,47.32 L117.76,47.11 L117.84,46.9 L117.92,46.69 L118.01,46.48 L118.09,46.28 L118.18,46.08 L118.27,45.88 L118.36,45.69 L118.45,45.49 L118.55,45.3 L118.65,45.11 L118.75,44.93 L118.85,44.74 L118.95,44.56 L119.06,44.38 L119.17,44.2 L119.28,44.03 L119.39,43.86 L119.5,43.68 L119.62,43.52 L119.74,43.35 L119.86,43.18 L119.98,43.02 L120.1,42.86 L120.22,42.7 L120.35,42.55 L120.48,42.39 L120.61,42.24 L120.74,42.09 L120.88,41.94 L121.01,41.79 L121.15,41.65 L121.29,41.5 L121.43,41.36 L121.57,41.22 L121.71,41.09 L121.86,40.95 L122.01,40.82 L122.15,40.69 L122.3,40.56 L122.46,40.43 L122.61,40.3 L122.76,40.18 L122.92,40.05 L123.08,39.93 L123.24,39.81 L123.4,39.7 L123.56,39.58 L123.72,39.47 L123.88,39.35 L124.05,39.24 L124.22,39.13 L124.39,39.02 L124.56,38.92 L124.73,38.81 L124.9,38.71 L125.07,38.61 L125.25,38.51 L125.42,38.41 L125.6,38.31 L125.78,38.22 L125.96,38.12 L126.14,38.03 L126.32,37.94 L126.51,37.85 L126.69,37.76 L126.88,37.67 L127.06,37.59 L127.25,37.5 L127.44,37.42 L127.63,37.34 L127.82,37.26 L128.01,37.18 L128.2,37.1 L128.39,37.02 L128.59,36.95 L128.78,36.87 L128.98,36.8 L129.18,36.73 L129.37,36.66 L129.57,36.59 L129.77,36.52 L129.97,36.45 L130.17,36.39 L130.37,36.32 L130.58,36.26 L130.78,36.19 L130.98,36.13 L131.19,36.07 L131.39,36.01 L131.6,35.95 L131.81,35.89 L132.01,35.84 L132.22,35.78 L132.43,35.73 L132.64,35.67 L132.85,35.62 L133.06,35.57 L133.27,35.52 L133.48,35.47 L133.69,35.42 L133.9,35.37 L134.12,35.32 L134.33,35.27 L134.54,35.23 L134.76,35.18 L134.97,35.13 L135.18,35.09 L135.4,35.05 L135.61,35 L135.83,34.96 L136.05,34.92 L136.26,34.88 L136.48,34.84 L136.69,34.8 L136.91,34.76 L137.13,34.72 L137.35,34.68 L137.56,34.65 L137.78,34.61 L138,34.57 L138.22,34.54 L138.43,34.5 L138.65,34.47 L138.87,34.44 L139.09,34.4 L139.31,34.37 L139.52,34.34 L139.74,34.3 L139.96,34.27 L140.18,34.24 L140.4,34.21 L140.61,34.18 L140.83,34.15 L141.05,34.12 L141.27,34.09 L141.48,34.06 L141.7,34.03 L141.92,34 L142.14,33.97 L142.35,33.94 L142.57,33.91 L142.78,33.88 L143,33.85 L143.22,33.82 L143.43,33.8 L143.65,33.77 L143.86,33.74 L144.08,33.71 L144.29,33.68 L144.5,33.66 L144.72,33.63 L144.93,33.6 L145.14,33.57 L145.35,33.55 L145.57,33.52 L145.78,33.49 L145.99,33.46 L146.2,33.44 L146.41,33.41 L146.61,33.38 L146.82,33.35 L147.03,33.32 L147.24,33.3 L147.44,33.27 L147.65,33.24 L147.85,33.21 L148.06,33.18 L148.26,33.15 L148.47,33.12 L148.67,33.09 L148.87,33.06 L149.07,33.03 L149.27,33 L149.47,32.97 L149.67,32.94 L149.86,32.9 L150.06,32.87 L150.26,32.84 L150.45,32.81 L150.64,32.77 L150.84,32.74 L151.03,32.71 L151.22,32.67 L151.41,32.64 L151.6,32.6 L151.61,32.74 L151.63,32.87 L151.65,33 L151.67,33.14 L151.69,33.27 L151.71,33.4 L151.73,33.53 L151.75,33.67 L151.78,33.8 L151.81,33.92 L151.83,34.05 L151.86,34.18 L151.89,34.31 L151.92,34.44 L151.96,34.56 L151.99,34.69 L152.03,34.81 L152.06,34.94 L152.1,35.06 L152.14,35.18 L152.18,35.3 L152.22,35.42 L152.26,35.54 L152.3,35.66 L152.35,35.78 L152.39,35.9 L152.44,36.02 L152.49,36.14 L152.54,36.25 L152.59,36.37 L152.64,36.48 L152.69,36.6 L152.75,36.71 L152.8,36.83 L152.86,36.94 L152.91,37.05 L152.97,37.16 L153.03,37.27 L153.09,37.38 L153.15,37.49 L153.21,37.6 L153.27,37.7 L153.34,37.81 L153.4,37.92 L153.47,38.02 L153.53,38.13 L153.6,38.23 L153.67,38.33 L153.74,38.44 L153.81,38.54 L153.88,38.64 L153.95,38.74 L154.03,38.84 L154.1,38.94 L154.18,39.04 L154.25,39.13 L154.33,39.23 L154.41,39.33 L154.49,39.42 L154.57,39.52 L154.65,39.61 L154.73,39.71 L154.81,39.8 L154.89,39.89 L154.98,39.98 L155.06,40.07 L155.15,40.16 L155.23,40.25 L155.32,40.34 L155.41,40.43 L155.49,40.52 L155.58,40.6 L155.67,40.69 L155.76,40.77 L155.86,40.86 L155.95,40.94 L156.04,41.02 L156.13,41.11 L156.23,41.19 L156.32,41.27 L156.42,41.35 L156.52,41.43 L156.61,41.51 L156.71,41.59 L156.81,41.66 L156.91,41.74 L157.01,41.82 L157.11,41.89 L157.21,41.97 L157.31,42.04 L157.41,42.11 L157.52,42.18 L157.62,42.26 L157.72,42.33 L157.83,42.4 L157.93,42.47 L158.04,42.54 L158.15,42.6 L158.25,42.67 L158.36,42.74 L158.47,42.8 L158.58,42.87 L158.68,42.93 L158.79,43 L158.9,43.06 L159.01,43.12 L159.13,43.19 L159.24,43.25 L159.35,43.31 L159.46,43.37 L159.57,43.43 L159.69,43.48 L159.8,43.54 L159.91,43.6 L160.03,43.66 L160.14,43.71 L160.26,43.77 L160.37,43.82 L160.49,43.87 L160.61,43.93 L160.72,43.98 L160.84,44.03 L160.96,44.08 L161.08,44.13 L161.19,44.18 L161.31,44.23 L161.43,44.27 L161.55,44.32 L161.67,44.37 L161.79,44.41 L161.91,44.46 L162.03,44.5 L162.15,44.54 L162.27,44.59 L162.39,44.63 L162.51,44.67 L162.64,44.71 L162.76,44.75 L162.88,44.79 L163,44.83 L163.12,44.86 L163.25,44.9 L163.37,44.94 L163.49,44.97 L163.62,45.01 L163.74,45.04 L163.86,45.07 L163.99,45.11 L164.11,45.14 L164.23,45.17 L164.36,45.2 L164.48,45.23 L164.61,45.26 L164.73,45.29 L164.86,45.31 L164.98,45.34 L165.1,45.37 L165.23,45.39 L165.35,45.42 L165.48,45.44 L165.6,45.46 L165.73,45.48 L165.85,45.51 L165.98,45.53 L166.1,45.55 L166.23,45.57 L166.35,45.59 L166.48,45.6 L166.6,45.62 L166.73,45.64 L166.85,45.65 L166.98,45.67 L167.1,45.68 L167.23,45.7 L167.35,45.71 L167.48,45.72 L167.6,45.73 L167.73,45.74 L167.85,45.75 L167.97,45.76 L168.1,45.77 L168.22,45.78 L168.35,45.79 L168.47,45.79 L168.59,45.8 L168.72,45.8 L168.84,45.81 L168.96,45.81 L169.08,45.81 L169.21,45.82 L169.33,45.82 L169.45,45.82 L169.57,45.82 L169.7,45.82 L169.82,45.81 L169.94,45.81 L170.06,45.81 L170.18,45.8 L170.3,45.8 L170.36,45.68 L170.41,45.57 L170.47,45.45 L170.53,45.34 L170.59,45.22 L170.65,45.11 L170.71,44.99 L170.77,44.88 L170.83,44.77 L170.89,44.65 L170.96,44.54 L171.02,44.43 L171.09,44.32 L171.15,44.21 L171.22,44.1 L171.29,43.99 L171.36,43.89 L171.42,43.78 L171.49,43.67 L171.56,43.56 L171.63,43.46 L171.71,43.35 L171.78,43.25 L171.85,43.14 L171.92,43.04 L172,42.93 L172.07,42.83 L172.15,42.73 L172.23,42.63 L172.3,42.53 L172.38,42.42 L172.46,42.32 L172.54,42.22 L172.62,42.13 L172.7,42.03 L172.78,41.93 L172.86,41.83 L172.94,41.73 L173.03,41.64 L173.11,41.54 L173.19,41.45 L173.28,41.35 L173.36,41.26 L173.45,41.16 L173.53,41.07 L173.62,40.98 L173.71,40.88 L173.8,40.79 L173.89,40.7 L173.98,40.61 L174.07,40.52 L174.16,40.43 L174.25,40.34 L174.34,40.25 L174.43,40.17 L174.52,40.08 L174.62,39.99 L174.71,39.91 L174.8,39.82 L174.9,39.74 L174.99,39.65 L175.09,39.57 L175.19,39.48 L175.28,39.4 L175.38,39.32 L175.48,39.24 L175.58,39.16 L175.68,39.08 L175.78,39 L175.88,38.92 L175.98,38.84 L176.08,38.76 L176.18,38.68 L176.28,38.6 L176.38,38.53 L176.48,38.45 L176.59,38.38 L176.69,38.3 L176.8,38.23 L176.9,38.15 L177.01,38.08 L177.11,38.01 L177.22,37.93 L177.32,37.86 L177.43,37.79 L177.54,37.72 L177.64,37.65 L177.75,37.58 L177.86,37.51 L177.97,37.44 L178.08,37.37 L178.19,37.31 L178.3,37.24 L178.41,37.17 L178.52,37.11 L178.63,37.04 L178.74,36.98 L178.85,36.91 L178.96,36.85 L179.08,36.79 L179.19,36.73 L179.3,36.66 L179.41,36.6 L179.53,36.54 L179.64,36.48 L179.76,36.42 L179.87,36.36 L179.99,36.31 L180.1,36.25 L180.22,36.19 L180.33,36.13 L180.45,36.08 L180.57,36.02 L180.68,35.97 L180.8,35.91 L180.92,35.86 L181.04,35.81 L181.15,35.75 L181.27,35.7 L181.39,35.65 L181.51,35.6 L181.63,35.55 L181.75,35.5 L181.87,35.45 L181.99,35.4 L182.11,35.35 L182.23,35.31 L182.35,35.26 L182.47,35.21 L182.59,35.17 L182.71,35.12 L182.83,35.08 L182.95,35.03 L183.07,34.99 L183.2,34.95 L183.32,34.9 L183.44,34.86 L183.56,34.82 L183.68,34.78 L183.81,34.74 L183.93,34.7 L184.05,34.66 L184.18,34.62 L184.3,34.58 L184.42,34.55 L184.55,34.51 L184.67,34.47 L184.8,34.44 L184.92,34.4 L185.04,34.37 L185.17,34.34 L185.29,34.3 L185.42,34.27 L185.54,34.24 L185.67,34.21 L185.79,34.18 L185.92,34.15 L186.04,34.12 L186.17,34.09 L186.29,34.06 L186.42,34.03 L186.54,34 L186.67,33.98 L186.8,33.95 L186.92,33.92 L187.05,33.9 L187.17,33.87 L187.3,33.85 L187.42,33.83 L187.55,33.8 L187.68,33.78 L187.8,33.76 L187.93,33.74 L188.05,33.72 L188.18,33.7 L188.31,33.68 L188.43,33.66 L188.56,33.64 L188.68,33.63 L188.81,33.61 L188.94,33.59 L189.06,33.58 L189.19,33.56 L189.32,33.55 L189.44,33.53 L189.57,33.52 L189.69,33.51 L189.82,33.5 L189.94,33.48 L190.07,33.47 L190.2,33.46 L190.32,33.45 L190.45,33.44 L190.57,33.43 L190.7,33.43 L190.82,33.42 L190.95,33.41 L191.07,33.41 L191.2,33.4 L191.25,33.52 L191.3,33.64 L191.35,33.76 L191.4,33.88 L191.45,33.99 L191.5,34.1 L191.56,34.21 L191.61,34.32 L191.67,34.43 L191.73,34.54 L191.78,34.64 L191.84,34.75 L191.9,34.85 L191.96,34.95 L192.02,35.04 L192.08,35.14 L192.14,35.24 L192.21,35.33 L192.27,35.42 L192.33,35.51 L192.4,35.6 L192.47,35.69 L192.53,35.78 L192.6,35.86 L192.67,35.94 L192.74,36.02 L192.81,36.11 L192.88,36.18 L192.95,36.26 L193.02,36.34 L193.09,36.41 L193.17,36.49 L193.24,36.56 L193.31,36.63 L193.39,36.7 L193.47,36.77 L193.54,36.83 L193.62,36.9 L193.7,36.97 L193.78,37.03 L193.86,37.09 L193.94,37.15 L194.02,37.21 L194.1,37.27 L194.18,37.33 L194.26,37.38 L194.34,37.44 L194.43,37.49 L194.51,37.54 L194.6,37.6 L194.68,37.65 L194.77,37.7 L194.85,37.75 L194.94,37.79 L195.03,37.84 L195.11,37.89 L195.2,37.93 L195.29,37.97 L195.38,38.02 L195.47,38.06 L195.56,38.1 L195.65,38.14 L195.74,38.18 L195.83,38.21 L195.93,38.25 L196.02,38.29 L196.11,38.32 L196.21,38.36 L196.3,38.39 L196.39,38.42 L196.49,38.46 L196.58,38.49 L196.68,38.52 L196.78,38.55 L196.87,38.58 L196.97,38.6 L197.07,38.63 L197.17,38.66 L197.26,38.68 L197.36,38.71 L197.46,38.73 L197.56,38.76 L197.66,38.78 L197.76,38.8 L197.86,38.83 L197.96,38.85 L198.06,38.87 L198.16,38.89 L198.26,38.91 L198.36,38.93 L198.47,38.95 L198.57,38.96 L198.67,38.98 L198.77,39 L198.88,39.02 L198.98,39.03 L199.08,39.05 L199.19,39.06 L199.29,39.08 L199.4,39.09 L199.5,39.11 L199.6,39.12 L199.71,39.13 L199.81,39.15 L199.92,39.16 L200.03,39.17 L200.13,39.18 L200.24,39.2 L200.34,39.21 L200.45,39.22 L200.56,39.23 L200.66,39.24 L200.77,39.25 L200.88,39.26 L200.98,39.27 L201.09,39.28 L201.2,39.29 L201.3,39.3 L201.41,39.31 L201.52,39.32 L201.63,39.33 L201.73,39.34 L201.84,39.35 L201.95,39.36 L202.06,39.36 L202.16,39.37 L202.27,39.38 L202.38,39.39 L202.49,39.4 L202.59,39.41 L202.7,39.42 L202.81,39.42 L202.92,39.43 L203.03,39.44 L203.13,39.45 L203.24,39.46 L203.35,39.47 L203.46,39.48 L203.57,39.49 L203.67,39.5 L203.78,39.51 L203.89,39.52 L204,39.53 L204.1,39.54 L204.21,39.55 L204.32,39.56 L204.43,39.57 L204.53,39.58 L204.64,39.59 L204.75,39.6 L204.85,39.62 L204.96,39.63 L205.07,39.64 L205.17,39.65 L205.28,39.67 L205.39,39.68 L205.49,39.69 L205.6,39.71 L205.7,39.72 L205.81,39.74 L205.91,39.75 L206.02,39.77 L206.12,39.79 L206.23,39.8 L206.33,39.82 L206.44,39.84 L206.54,39.86 L206.64,39.88 L206.75,39.9 L206.85,39.92 L206.95,39.94 L207.05,39.96 L207.16,39.98 L207.26,40 L207.36,40.02 L207.46,40.05 L207.56,40.07 L207.66,40.1 L207.77,40.12 L207.87,40.15 L207.97,40.18 L208.06,40.2 L208.16,40.23 L208.26,40.26 L208.36,40.29 L208.46,40.32 L208.56,40.35 L208.65,40.39 L208.75,40.42 L208.85,40.45 L208.94,40.49 L209.04,40.52 L209.14,40.56 L209.23,40.6 L209.33,40.64 L209.42,40.68 L209.51,40.72 L209.61,40.76 L209.7,40.8 L209.77,40.68 L209.84,40.55 L209.91,40.43 L209.98,40.31 L210.05,40.19 L210.13,40.08 L210.2,39.96 L210.28,39.85 L210.35,39.74 L210.43,39.63 L210.51,39.52 L210.59,39.41 L210.67,39.3 L210.75,39.2 L210.83,39.09 L210.91,38.99 L211,38.89 L211.08,38.79 L211.16,38.69 L211.25,38.59 L211.34,38.5 L211.43,38.4 L211.51,38.31 L211.6,38.22 L211.69,38.13 L211.78,38.04 L211.88,37.95 L211.97,37.87 L212.06,37.78 L212.16,37.7 L212.25,37.61 L212.35,37.53 L212.44,37.45 L212.54,37.37 L212.64,37.3 L212.74,37.22 L212.84,37.14 L212.94,37.07 L213.04,37 L213.14,36.92 L213.24,36.85 L213.34,36.78 L213.45,36.71 L213.55,36.65 L213.65,36.58 L213.76,36.51 L213.87,36.45 L213.97,36.39 L214.08,36.32 L214.19,36.26 L214.3,36.2 L214.4,36.14 L214.51,36.08 L214.62,36.03 L214.74,35.97 L214.85,35.92 L214.96,35.86 L215.07,35.81 L215.18,35.76 L215.3,35.7 L215.41,35.65 L215.53,35.6 L215.64,35.56 L215.76,35.51 L215.87,35.46 L215.99,35.41 L216.11,35.37 L216.22,35.32 L216.34,35.28 L216.46,35.24 L216.58,35.2 L216.7,35.16 L216.82,35.12 L216.94,35.08 L217.06,35.04 L217.18,35 L217.3,34.96 L217.43,34.93 L217.55,34.89 L217.67,34.85 L217.79,34.82 L217.92,34.79 L218.04,34.75 L218.17,34.72 L218.29,34.69 L218.42,34.66 L218.54,34.63 L218.67,34.6 L218.79,34.57 L218.92,34.54 L219.04,34.51 L219.17,34.49 L219.3,34.46 L219.43,34.43 L219.55,34.41 L219.68,34.38 L219.81,34.36 L219.94,34.34 L220.07,34.31 L220.19,34.29 L220.32,34.27 L220.45,34.25 L220.58,34.23 L220.71,34.2 L220.84,34.18 L220.97,34.16 L221.1,34.15 L221.23,34.13 L221.36,34.11 L221.49,34.09 L221.62,34.07 L221.76,34.06 L221.89,34.04 L222.02,34.02 L222.15,34.01 L222.28,33.99 L222.41,33.97 L222.54,33.96 L222.68,33.95 L222.81,33.93 L222.94,33.92 L223.07,33.9 L223.2,33.89 L223.34,33.88 L223.47,33.86 L223.6,33.85 L223.73,33.84 L223.86,33.83 L224,33.81 L224.13,33.8 L224.26,33.79 L224.39,33.78 L224.52,33.77 L224.66,33.76 L224.79,33.74 L224.92,33.73 L225.05,33.72 L225.18,33.71 L225.32,33.7 L225.45,33.69 L225.58,33.68 L225.71,33.67 L225.84,33.66 L225.97,33.65 L226.1,33.64 L226.24,33.63 L226.37,33.62 L226.5,33.61 L226.63,33.6 L226.76,33.59 L226.89,33.58 L227.02,33.57 L227.15,33.56 L227.28,33.55 L227.41,33.54 L227.54,33.53 L227.67,33.52 L227.8,33.51 L227.92,33.5 L228.05,33.49 L228.18,33.48 L228.31,33.47 L228.44,33.46 L228.56,33.45 L228.69,33.44 L228.82,33.43 L228.95,33.42 L229.07,33.4 L229.2,33.39 L229.32,33.38 L229.45,33.37 L229.57,33.36 L229.7,33.34 L229.82,33.33 L229.95,33.32 L230.07,33.3 L230.19,33.29 L230.32,33.28 L230.44,33.26 L230.56,33.25 L230.68,33.23 L230.81,33.22 L230.93,33.2 L231.05,33.19 L231.17,33.17 L231.29,33.15 L231.41,33.14 L231.52,33.12 L231.64,33.1 L231.76,33.08 L231.88,33.06 L232,33.05 L232.11,33.03 L232.23,33.01 L232.34,32.99 L232.46,32.97 L232.57,32.94 L232.69,32.92 L232.8,32.9 L232.88,32.93 L232.95,32.96 L233.03,32.98 L233.11,33.01 L233.19,33.04 L233.26,33.07 L233.34,33.1 L233.42,33.12 L233.49,33.15 L233.57,33.18 L233.65,33.2 L233.73,33.23 L233.8,33.26 L233.88,33.28 L233.96,33.31 L234.04,33.34 L234.11,33.36 L234.19,33.39 L234.27,33.41 L234.35,33.44 L234.43,33.47 L234.5,33.49 L234.58,33.52 L234.66,33.54 L234.74,33.57 L234.82,33.59 L234.89,33.61 L234.97,33.64 L235.05,33.66 L235.13,33.69 L235.21,33.71 L235.29,33.74 L235.36,33.76 L235.44,33.78 L235.52,33.81 L235.6,33.83 L235.68,33.85 L235.76,33.88 L235.84,33.9 L235.91,33.92 L235.99,33.94 L236.07,33.97 L236.15,33.99 L236.23,34.01 L236.31,34.03 L236.39,34.06 L236.47,34.08 L236.55,34.1 L236.62,34.12 L236.7,34.14 L236.78,34.16 L236.86,34.19 L236.94,34.21 L237.02,34.23 L237.1,34.25 L237.18,34.27 L237.26,34.29 L237.34,34.31 L237.42,34.33 L237.5,34.35 L237.58,34.37 L237.65,34.39 L237.73,34.41 L237.81,34.43 L237.89,34.45 L237.97,34.47 L238.05,34.49 L238.13,34.51 L238.21,34.53 L238.29,34.55 L238.37,34.57 L238.45,34.59 L238.53,34.61 L238.61,34.62 L238.69,34.64 L238.77,34.66 L238.85,34.68 L238.93,34.7 L239.01,34.72 L239.09,34.74 L239.17,34.75 L239.25,34.77 L239.33,34.79 L239.41,34.81 L239.49,34.82 L239.57,34.84 L239.65,34.86 L239.73,34.88 L239.81,34.89 L239.89,34.91 L239.97,34.93 L240.05,34.95 L240.13,34.96 L240.21,34.98 L240.29,35 L240.37,35.01 L240.45,35.03 L240.53,35.05 L240.61,35.06 L240.69,35.08 L240.77,35.09 L240.86,35.11 L240.94,35.13 L241.02,35.14 L241.1,35.16 L241.18,35.17 L241.26,35.19 L241.34,35.21 L241.42,35.22 L241.5,35.24 L241.58,35.25 L241.66,35.27 L241.74,35.28 L241.82,35.3 L241.9,35.31 L241.98,35.33 L242.06,35.34 L242.15,35.36 L242.23,35.37 L242.31,35.39 L242.39,35.4 L242.47,35.42 L242.55,35.43 L242.63,35.45 L242.71,35.46 L242.79,35.48 L242.87,35.49 L242.95,35.5 L243.03,35.52 L243.11,35.53 L243.2,35.55 L243.28,35.56 L243.36,35.57 L243.44,35.59 L243.52,35.6 L243.6,35.62 L243.68,35.63 L243.76,35.64 L243.84,35.66 L243.92,35.67 L244,35.68 L244.09,35.7 L244.17,35.71 L244.25,35.72 L244.33,35.74 L244.41,35.75 L244.49,35.76 L244.57,35.78 L244.65,35.79 L244.73,35.8 L244.81,35.82 L244.9,35.83 L244.98,35.84 L245.06,35.85 L245.14,35.87 L245.22,35.88 L245.3,35.89 L245.38,35.91 L245.46,35.92 L245.54,35.93 L245.62,35.94 L245.71,35.96 L245.79,35.97 L245.87,35.98 L245.95,35.99 L246.03,36.01 L246.11,36.02 L246.19,36.03 L246.27,36.04 L246.35,36.06 L246.43,36.07 L246.52,36.08 L246.6,36.09 L246.68,36.1 L246.76,36.12 L246.84,36.13 L246.92,36.14 L247,36.15 L247.08,36.16 L247.16,36.18 L247.24,36.19 L247.33,36.2 L247.41,36.21 L247.49,36.22 L247.57,36.24 L247.65,36.25 L247.73,36.26 L247.81,36.27 L247.89,36.28 L247.97,36.29 L248.05,36.31 L248.13,36.32 L248.22,36.33 L248.3,36.34 L248.38,36.35 L248.46,36.37 L248.54,36.38 L248.62,36.39 L248.7,36.4 L248.79,36.34 L248.88,36.29 L248.97,36.23 L249.07,36.18 L249.16,36.12 L249.25,36.07 L249.34,36.02 L249.44,35.97 L249.53,35.92 L249.62,35.87 L249.72,35.82 L249.81,35.77 L249.9,35.72 L250,35.67 L250.09,35.63 L250.18,35.58 L250.28,35.53 L250.37,35.49 L250.47,35.44 L250.56,35.4 L250.66,35.36 L250.75,35.31 L250.85,35.27 L250.94,35.23 L251.04,35.19 L251.14,35.15 L251.23,35.11 L251.33,35.07 L251.42,35.03 L251.52,34.99 L251.62,34.96 L251.71,34.92 L251.81,34.88 L251.91,34.85 L252.01,34.81 L252.1,34.78 L252.2,34.75 L252.3,34.71 L252.4,34.68 L252.49,34.65 L252.59,34.62 L252.69,34.58 L252.79,34.55 L252.89,34.52 L252.99,34.49 L253.09,34.46 L253.19,34.44 L253.28,34.41 L253.38,34.38 L253.48,34.35 L253.58,34.33 L253.68,34.3 L253.78,34.27 L253.88,34.25 L253.98,34.22 L254.08,34.2 L254.18,34.18 L254.28,34.15 L254.38,34.13 L254.48,34.11 L254.58,34.09 L254.69,34.06 L254.79,34.04 L254.89,34.02 L254.99,34 L255.09,33.98 L255.19,33.96 L255.29,33.94 L255.39,33.93 L255.5,33.91 L255.6,33.89 L255.7,33.87 L255.8,33.85 L255.9,33.84 L256.01,33.82 L256.11,33.81 L256.21,33.79 L256.31,33.77 L256.42,33.76 L256.52,33.75 L256.62,33.73 L256.72,33.72 L256.83,33.7 L256.93,33.69 L257.03,33.68 L257.14,33.67 L257.24,33.65 L257.34,33.64 L257.45,33.63 L257.55,33.62 L257.65,33.61 L257.76,33.6 L257.86,33.59 L257.96,33.58 L258.07,33.57 L258.17,33.56 L258.27,33.55 L258.38,33.54 L258.48,33.53 L258.59,33.52 L258.69,33.52 L258.79,33.51 L258.9,33.5 L259,33.49 L259.11,33.49 L259.21,33.48 L259.32,33.47 L259.42,33.47 L259.52,33.46 L259.63,33.46 L259.73,33.45 L259.84,33.45 L259.94,33.44 L260.05,33.44 L260.15,33.43 L260.26,33.43 L260.36,33.42 L260.47,33.42 L260.57,33.41 L260.68,33.41 L260.78,33.41 L260.88,33.4 L260.99,33.4 L261.09,33.4 L261.2,33.39 L261.3,33.39 L261.41,33.39 L261.51,33.39 L261.62,33.38 L261.72,33.38 L261.83,33.38 L261.93,33.38 L262.04,33.37 L262.14,33.37 L262.25,33.37 L262.35,33.37 L262.46,33.37 L262.56,33.37 L262.67,33.37 L262.77,33.36 L262.88,33.36 L262.98,33.36 L263.09,33.36 L263.19,33.36 L263.3,33.36 L263.4,33.36 L263.51,33.36 L263.61,33.36 L263.72,33.36 L263.82,33.36 L263.93,33.36 L264.03,33.36 L264.14,33.36 L264.24,33.36 L264.35,33.36 L264.45,33.36 L264.55,33.36 L264.66,33.36 L264.76,33.35 L264.87,33.35 L264.97,33.35 L265.08,33.35 L265.18,33.35 L265.29,33.35 L265.39,33.35 L265.49,33.35 L265.6,33.35 L265.7,33.35 L265.81,33.35 L265.91,33.35 L266.02,33.35 L266.12,33.35 L266.22,33.35 L266.33,33.35 L266.43,33.35 L266.53,33.35 L266.64,33.35 L266.74,33.35 L266.85,33.34 L266.95,33.34 L267.05,33.34 L267.16,33.34 L267.26,33.34 L267.36,33.34 L267.46,33.34 L267.57,33.33 L267.67,33.33 L267.77,33.33 L267.88,33.33 L267.98,33.33 L268.08,33.32 L268.18,33.32 L268.29,33.32 L268.39,33.32 L268.49,33.31 L268.59,33.31 L268.7,33.31 L268.8,33.3 L268.9,33.3 L269.21,33.36 L269.51,33.43 L269.82,33.49 L270.12,33.55 L270.43,33.61 L270.73,33.66 L271.04,33.72 L271.34,33.77 L271.65,33.82 L271.96,33.87 L272.26,33.92 L272.57,33.97 L272.87,34.01 L273.18,34.06 L273.49,34.1 L273.79,34.14 L274.1,34.18 L274.41,34.22 L274.71,34.26 L275.02,34.3 L275.33,34.33 L275.63,34.36 L275.94,34.39 L276.25,34.43 L276.55,34.45 L276.86,34.48 L277.17,34.51 L277.47,34.54 L277.78,34.56 L278.09,34.58 L278.4,34.6 L278.7,34.63 L279.01,34.64 L279.32,34.66 L279.63,34.68 L279.93,34.7 L280.24,34.71 L280.55,34.73 L280.86,34.74 L281.16,34.75 L281.47,34.76 L281.78,34.77 L282.09,34.78 L282.4,34.79 L282.7,34.79 L283.01,34.8 L283.32,34.8 L283.63,34.81 L283.94,34.81 L284.24,34.81 L284.55,34.81 L284.86,34.81 L285.17,34.81 L285.48,34.81 L285.79,34.81 L286.09,34.81 L286.4,34.8 L286.71,34.8 L287.02,34.79 L287.33,34.79 L287.64,34.78 L287.95,34.77 L288.25,34.77 L288.56,34.76 L288.87,34.75 L289.18,34.74 L289.49,34.73 L289.8,34.71 L290.11,34.7 L290.42,34.69 L290.73,34.68 L291.04,34.66 L291.34,34.65 L291.65,34.63 L291.96,34.62 L292.27,34.6 L292.58,34.58 L292.89,34.57 L293.2,34.55 L293.51,34.53 L293.82,34.51 L294.13,34.5 L294.44,34.48 L294.75,34.46 L295.06,34.44 L295.37,34.42 L295.68,34.4 L295.99,34.38 L296.3,34.35 L296.61,34.33 L296.91,34.31 L297.22,34.29 L297.53,34.27 L297.84,34.24 L298.15,34.22 L298.46,34.2 L298.77,34.18 L299.08,34.15 L299.39,34.13 L299.7,34.11 L300.01,34.08 L300.32,34.06 L300.63,34.04 L300.94,34.01 L301.25,33.99 L301.56,33.96 L301.87,33.94 L302.18,33.92 L302.49,33.89 L302.8,33.87 L303.11,33.84 L303.42,33.82 L303.73,33.8 L304.04,33.77 L304.35,33.75 L304.66,33.73 L304.97,33.7 L305.28,33.68 L305.59,33.66 L305.9,33.63 L306.21,33.61 L306.53,33.59 L306.84,33.57 L307.15,33.54 L307.46,33.52 L307.77,33.5 L308.08,33.48 L308.39,33.46 L308.7,33.44 L309.01,33.42 L309.32,33.4 L309.63,33.38 L309.94,33.36 L310.25,33.34 L310.56,33.32 L310.87,33.3 L311.18,33.29 L311.49,33.27 L311.8,33.25 L312.11,33.24 L312.42,33.22 L312.73,33.21 L313.04,33.19 L313.35,33.18 L313.66,33.16 L313.97,33.15 L314.28,33.14 L314.59,33.13 L314.9,33.12 L315.21,33.11 L315.52,33.1 L315.83,33.09 L316.14,33.08 L316.45,33.07 L316.76,33.06 L317.07,33.06 L317.39,33.05 L317.7,33.05 L318.01,33.04 L318.32,33.04 L318.63,33.04 L318.94,33.04 L319.25,33.04 L319.56,33.04 L319.87,33.04 L320.18,33.04 L320.49,33.04 L320.8,33.05 L321.11,33.05 L321.42,33.06 L321.73,33.06 L322.04,33.07 L322.35,33.08 L322.66,33.09 L322.97,33.1 L323.28,33.11 L323.59,33.12 L323.9,33.14 L324.21,33.15 L324.52,33.17 L324.83,33.18 L325.14,33.2 L325.45,33.22 L325.76,33.24 L326.07,33.26 L326.38,33.29 L326.69,33.31 L327,33.34 L327.3,33.36 L327.61,33.39 L327.92,33.42 L328.23,33.45 L328.54,33.48 L328.85,33.52 L329.16,33.55 L329.47,33.58 L329.78,33.62 L330.09,33.66 L330.4,33.7" fill="none" stroke="#3c3c3c" stroke-width="1.7" stroke-linejoin="round" stroke-linecap="round" />
</g>
<rect x="58.7" y="13.5" width="271.5" height="217.8" fill="none" stroke="#000" stroke-width="1.7"/>
<line x1="58.7" y1="231.3" x2="58.7" y2="235.8" stroke="#000" stroke-width="1.3"/>
<line x1="118.97" y1="231.3" x2="118.97" y2="235.8" stroke="#000" stroke-width="1.3"/>
<line x1="179.24" y1="231.3" x2="179.24" y2="235.8" stroke="#000" stroke-width="1.3"/>
<line x1="239.51" y1="231.3" x2="239.51" y2="235.8" stroke="#000" stroke-width="1.3"/>
<line x1="299.78" y1="231.3" x2="299.78" y2="235.8" stroke="#000" stroke-width="1.3"/>
<line x1="88.84" y1="231.3" x2="88.84" y2="233.8" stroke="#000" stroke-width="1.3"/>
<line x1="149.11" y1="231.3" x2="149.11" y2="233.8" stroke="#000" stroke-width="1.3"/>
<line x1="209.38" y1="231.3" x2="209.38" y2="233.8" stroke="#000" stroke-width="1.3"/>
<line x1="269.64" y1="231.3" x2="269.64" y2="233.8" stroke="#000" stroke-width="1.3"/>
<line x1="329.92" y1="231.3" x2="329.92" y2="233.8" stroke="#000" stroke-width="1.3"/>
<line x1="58.7" y1="33" x2="54.2" y2="33" stroke="#000" stroke-width="1.3"/>
<line x1="58.7" y1="72.6" x2="54.2" y2="72.6" stroke="#000" stroke-width="1.3"/>
<line x1="58.7" y1="112.2" x2="54.2" y2="112.2" stroke="#000" stroke-width="1.3"/>
<line x1="58.7" y1="151.8" x2="54.2" y2="151.8" stroke="#000" stroke-width="1.3"/>
<line x1="58.7" y1="191.4" x2="54.2" y2="191.4" stroke="#000" stroke-width="1.3"/>
<line x1="58.7" y1="231" x2="54.2" y2="231" stroke="#000" stroke-width="1.3"/>
<line x1="58.7" y1="13.2" x2="56.2" y2="13.2" stroke="#000" stroke-width="1.3"/>
<line x1="58.7" y1="52.8" x2="56.2" y2="52.8" stroke="#000" stroke-width="1.3"/>
<line x1="58.7" y1="92.4" x2="56.2" y2="92.4" stroke="#000" stroke-width="1.3"/>
<line x1="58.7" y1="132" x2="56.2" y2="132" stroke="#000" stroke-width="1.3"/>
<line x1="58.7" y1="171.6" x2="56.2" y2="171.6" stroke="#000" stroke-width="1.3"/>
<line x1="58.7" y1="211.2" x2="56.2" y2="211.2" stroke="#000" stroke-width="1.3"/>
<text x="58.7" y="253" font-size="14" text-anchor="middle" fill="#000" font-weight="bold" >0</text>
<text x="118.97" y="253" font-size="14" text-anchor="middle" fill="#000" font-weight="bold" >100</text>
<text x="179.24" y="253" font-size="14" text-anchor="middle" fill="#000" font-weight="bold" >200</text>
<text x="239.51" y="253" font-size="14" text-anchor="middle" fill="#000" font-weight="bold" >300</text>
<text x="299.78" y="253" font-size="14" text-anchor="middle" fill="#000" font-weight="bold" >400</text>
<text x="48" y="38" font-size="14" text-anchor="end" fill="#000" font-weight="bold" >0</text>
<text x="48" y="77.6" font-size="14" text-anchor="end" fill="#000" font-weight="bold" >−10</text>
<text x="48" y="117.2" font-size="14" text-anchor="end" fill="#000" font-weight="bold" >−20</text>
<text x="48" y="156.8" font-size="14" text-anchor="end" fill="#000" font-weight="bold" >−30</text>
<text x="48" y="196.4" font-size="14" text-anchor="end" fill="#000" font-weight="bold" >−40</text>
<text x="48" y="236" font-size="14" text-anchor="end" fill="#000" font-weight="bold" >−50</text>
<text x="189.5" y="275" font-size="14" text-anchor="middle" fill="#000" font-weight="bold" >Time (s)</text>
<text x="0" y="0" font-size="14" font-weight="bold" text-anchor="middle" transform="translate(11.8,121.3) rotate(-90)">Response (mV)</text>
<text x="74.7" y="27.2" font-size="11.2" text-anchor="start" fill="#000" font-weight="bold" >Room temperature 25 °C</text>
<text x="66" y="224.4" font-size="14" text-anchor="start" fill="#000" font-weight="bold" >4%</text>
<text x="110.5" y="208.2" font-size="14" text-anchor="start" fill="#000" font-weight="bold" >3%</text>
<text x="152" y="158.8" font-size="14" text-anchor="start" fill="#000" font-weight="bold" >2%</text>
<text x="189" y="114.5" font-size="14" text-anchor="start" fill="#000" font-weight="bold" >1%</text>
<text x="234.9" y="82.1" font-size="14" text-anchor="start" fill="#000" font-weight="bold" >0.5%</text>
<text x="269.3" y="63.9" font-size="14" text-anchor="start" fill="#000" font-weight="bold" >0.2%</text>
<text x="299.4" y="54.8" font-size="14" text-anchor="start" fill="#000" font-weight="bold" >0.1%</text>
<line x1="213" y1="172.5" x2="240.5" y2="172.5" stroke="#ff0000" stroke-width="1.7"/>
<line x1="213.9" y1="193.9" x2="239.5" y2="193.9" stroke="#4682c0" stroke-width="1.7"/>
<line x1="213.9" y1="211.5" x2="239.5" y2="211.5" stroke="#3c3c3c" stroke-width="1.7"/>
<text x="250.5" y="177.4" font-size="14" text-anchor="start" fill="#000" font-weight="bold" >SnO<tspan font-size="11.5" dy="3.8">2</tspan><tspan dy="-3.8">-CuO</tspan></text>
<text x="250.5" y="199" font-size="14" text-anchor="start" fill="#000" font-weight="bold" >CuO</text>
<text x="250.5" y="216.7" font-size="14" text-anchor="start" fill="#000" font-weight="bold" >SnO<tspan font-size="11.5" dy="3.8">2</tspan></text>
<text x="351.6" y="15.2" font-size="20" text-anchor="start" fill="#000" font-weight="bold" >b</text>
<rect x="402.2" y="13.4" width="271.9" height="218.4" fill="none" stroke="#000" stroke-width="1.7"/>
<line x1="429.2" y1="231.8" x2="429.2" y2="236.3" stroke="#000" stroke-width="1.3"/>
<line x1="483.4" y1="231.8" x2="483.4" y2="236.3" stroke="#000" stroke-width="1.3"/>
<line x1="537.6" y1="231.8" x2="537.6" y2="236.3" stroke="#000" stroke-width="1.3"/>
<line x1="591.8" y1="231.8" x2="591.8" y2="236.3" stroke="#000" stroke-width="1.3"/>
<line x1="646" y1="231.8" x2="646" y2="236.3" stroke="#000" stroke-width="1.3"/>
<line x1="402.1" y1="231.8" x2="402.1" y2="234.3" stroke="#000" stroke-width="1.3"/>
<line x1="456.3" y1="231.8" x2="456.3" y2="234.3" stroke="#000" stroke-width="1.3"/>
<line x1="510.5" y1="231.8" x2="510.5" y2="234.3" stroke="#000" stroke-width="1.3"/>
<line x1="564.7" y1="231.8" x2="564.7" y2="234.3" stroke="#000" stroke-width="1.3"/>
<line x1="618.9" y1="231.8" x2="618.9" y2="234.3" stroke="#000" stroke-width="1.3"/>
<line x1="673.1" y1="231.8" x2="673.1" y2="234.3" stroke="#000" stroke-width="1.3"/>
<line x1="402.2" y1="221.9" x2="397.7" y2="221.9" stroke="#000" stroke-width="1.3"/>
<line x1="402.2" y1="185.3" x2="397.7" y2="185.3" stroke="#000" stroke-width="1.3"/>
<line x1="402.2" y1="148.7" x2="397.7" y2="148.7" stroke="#000" stroke-width="1.3"/>
<line x1="402.2" y1="112.1" x2="397.7" y2="112.1" stroke="#000" stroke-width="1.3"/>
<line x1="402.2" y1="75.5" x2="397.7" y2="75.5" stroke="#000" stroke-width="1.3"/>
<line x1="402.2" y1="38.9" x2="397.7" y2="38.9" stroke="#000" stroke-width="1.3"/>
<line x1="402.2" y1="203.6" x2="399.7" y2="203.6" stroke="#000" stroke-width="1.3"/>
<line x1="402.2" y1="167" x2="399.7" y2="167" stroke="#000" stroke-width="1.3"/>
<line x1="402.2" y1="130.4" x2="399.7" y2="130.4" stroke="#000" stroke-width="1.3"/>
<line x1="402.2" y1="93.8" x2="399.7" y2="93.8" stroke="#000" stroke-width="1.3"/>
<line x1="402.2" y1="57.2" x2="399.7" y2="57.2" stroke="#000" stroke-width="1.3"/>
<line x1="402.2" y1="20.6" x2="399.7" y2="20.6" stroke="#000" stroke-width="1.3"/>
<text x="429.2" y="253" font-size="14" text-anchor="middle" fill="#000" font-weight="bold" >0</text>
<text x="483.4" y="253" font-size="14" text-anchor="middle" fill="#000" font-weight="bold" >1</text>
<text x="537.6" y="253" font-size="14" text-anchor="middle" fill="#000" font-weight="bold" >2</text>
<text x="591.8" y="253" font-size="14" text-anchor="middle" fill="#000" font-weight="bold" >3</text>
<text x="646" y="253" font-size="14" text-anchor="middle" fill="#000" font-weight="bold" >4</text>
<text x="391.6" y="226.5" font-size="14" text-anchor="end" fill="#000" font-weight="bold" >0</text>
<text x="391.6" y="189.9" font-size="14" text-anchor="end" fill="#000" font-weight="bold" >10</text>
<text x="391.6" y="153.3" font-size="14" text-anchor="end" fill="#000" font-weight="bold" >20</text>
<text x="391.6" y="116.7" font-size="14" text-anchor="end" fill="#000" font-weight="bold" >30</text>
<text x="391.6" y="80.1" font-size="14" text-anchor="end" fill="#000" font-weight="bold" >40</text>
<text x="391.6" y="43.5" font-size="14" text-anchor="end" fill="#000" font-weight="bold" >50</text>
<text x="537.9" y="274.6" font-size="14" font-weight="bold" text-anchor="middle">CO<tspan font-size="11.5" dy="3.8">2</tspan><tspan dy="-3.8"> concentration (%)</tspan></text>
<text x="0" y="0" font-size="14" font-weight="bold" text-anchor="middle" transform="translate(363.5,122.3) rotate(-90)">Response (mV)</text>
<text x="542.9" y="34.1" font-size="11.2" text-anchor="start" fill="#000" font-weight="bold" >Room tempertature</text>
<text x="542.9" y="47.3" font-size="11.2" text-anchor="start" fill="#000" font-weight="bold" >25 °C</text>
<defs>
<radialGradient id="gr" cx="0.5" cy="0.5" r="0.5" fx="0.36" fy="0.34"><stop offset="0" stop-color="#ffffff"/><stop offset="0.08" stop-color="#ffffff"/><stop offset="0.5" stop-color="#ff0a0a"/><stop offset="0.85" stop-color="#ff0a0a"/><stop offset="1" stop-color="#d00000"/></radialGradient>
<radialGradient id="gb" cx="0.5" cy="0.5" r="0.5" fx="0.36" fy="0.34"><stop offset="0" stop-color="#ffffff"/><stop offset="0.08" stop-color="#ffffff"/><stop offset="0.5" stop-color="#2a7cc0"/><stop offset="0.85" stop-color="#2a7cc0"/><stop offset="1" stop-color="#1a5a92"/></radialGradient>
<radialGradient id="gk" cx="0.5" cy="0.5" r="0.5" fx="0.36" fy="0.34"><stop offset="0" stop-color="#ffffff"/><stop offset="0.08" stop-color="#ffffff"/><stop offset="0.5" stop-color="#4a4a4a"/><stop offset="0.85" stop-color="#4a4a4a"/><stop offset="1" stop-color="#262626"/></radialGradient>
</defs>
<line x1="434.2" y1="209.9" x2="646.4" y2="47.3" stroke="#e32228" stroke-width="1.35"/>
<line x1="437.1" y1="216.9" x2="646.4" y2="179" stroke="#2a78bc" stroke-width="1.35"/>
<line x1="437.1" y1="219.9" x2="646.4" y2="205.5" stroke="#3a3a3a" stroke-width="1.35"/>
<circle cx="434.62" cy="216.78" r="4.3" fill="url(#gr)"/>
<circle cx="440.04" cy="210.19" r="4.3" fill="url(#gr)"/>
<circle cx="456.3" cy="193.35" r="4.3" fill="url(#gr)"/>
<circle cx="483.4" cy="167.73" r="4.3" fill="url(#gr)"/>
<circle cx="537.6" cy="120.15" r="4.3" fill="url(#gr)"/>
<circle cx="591.8" cy="77.33" r="4.3" fill="url(#gr)"/>
<circle cx="646" cy="62.69" r="4.3" fill="url(#gr)"/>
<circle cx="440.04" cy="216.78" r="4.3" fill="url(#gb)"/>
<circle cx="456.3" cy="213.85" r="4.3" fill="url(#gb)"/>
<circle cx="483.4" cy="206.53" r="4.3" fill="url(#gb)"/>
<circle cx="537.6" cy="197.01" r="4.3" fill="url(#gb)"/>
<circle cx="591.8" cy="185.3" r="4.3" fill="url(#gb)"/>
<circle cx="646" cy="182.74" r="4.3" fill="url(#gb)"/>
<circle cx="440.04" cy="219.7" r="4.3" fill="url(#gk)"/>
<circle cx="456.3" cy="218.61" r="4.3" fill="url(#gk)"/>
<circle cx="483.4" cy="216.04" r="4.3" fill="url(#gk)"/>
<circle cx="537.6" cy="211.65" r="4.3" fill="url(#gk)"/>
<circle cx="591.8" cy="207.63" r="4.3" fill="url(#gk)"/>
<circle cx="646" cy="205.43" r="4.3" fill="url(#gk)"/>
<circle cx="418.7" cy="28.4" r="4.3" fill="url(#gr)"/>
<circle cx="418.7" cy="47.5" r="4.3" fill="url(#gb)"/>
<circle cx="418.7" cy="64.3" r="4.3" fill="url(#gk)"/>
<text x="433.3" y="31.9" font-size="14" text-anchor="start" fill="#000" font-weight="bold" >SnO<tspan font-size="11.5" dy="3.8">2</tspan><tspan dy="-3.8">-CuO</tspan></text>
<text x="433.3" y="51.7" font-size="14" text-anchor="start" fill="#000" font-weight="bold" >CuO</text>
<text x="433.3" y="68.3" font-size="14" text-anchor="start" fill="#000" font-weight="bold" >SnO<tspan font-size="11.5" dy="3.8">2</tspan></text>
<text x="0" y="0" font-size="14" font-weight="bold" fill="#e0202a" transform="translate(491.8,143.5) rotate(-44)">11.35 mV/%</text>
<text x="0" y="0" font-size="14.5" font-weight="bold" fill="#2a78bc" transform="translate(538.8,186) rotate(-19.5)">2.65 mV/%</text>
<text x="0" y="0" font-size="14.5" font-weight="bold" fill="#444444" transform="translate(570.3,228.8) rotate(-10)">1.10 mV/%</text>
<text x="-0.5" y="311.2" font-size="20" text-anchor="start" fill="#000" font-weight="bold" >c</text>
<rect x="91.2" y="317.2" width="29.7" height="206.7" fill="#dcbafa"/>
<rect x="182.7" y="317.3" width="98.9" height="206.59999999999997" fill="#fde2c8"/>
<path d="M58.5,325.8 L58.66,325.81 L58.82,325.83 L58.98,325.84 L59.14,325.86 L59.3,325.87 L59.46,325.88 L59.62,325.9 L59.78,325.91 L59.94,325.92 L60.11,325.94 L60.27,325.95 L60.43,325.97 L60.59,325.98 L60.75,325.99 L60.91,326.01 L61.07,326.02 L61.24,326.03 L61.4,326.05 L61.56,326.06 L61.72,326.08 L61.88,326.09 L62.04,326.1 L62.21,326.12 L62.37,326.13 L62.53,326.14 L62.69,326.16 L62.85,326.17 L63.02,326.18 L63.18,326.2 L63.34,326.21 L63.5,326.22 L63.67,326.24 L63.83,326.25 L63.99,326.26 L64.15,326.28 L64.32,326.29 L64.48,326.3 L64.64,326.31 L64.81,326.33 L64.97,326.34 L65.13,326.35 L65.29,326.37 L65.46,326.38 L65.62,326.39 L65.78,326.4 L65.95,326.42 L66.11,326.43 L66.27,326.44 L66.44,326.45 L66.6,326.47 L66.76,326.48 L66.93,326.49 L67.09,326.5 L67.25,326.51 L67.42,326.53 L67.58,326.54 L67.74,326.55 L67.91,326.56 L68.07,326.57 L68.23,326.58 L68.4,326.6 L68.56,326.61 L68.73,326.62 L68.89,326.63 L69.05,326.64 L69.22,326.65 L69.38,326.66 L69.54,326.67 L69.71,326.69 L69.87,326.7 L70.03,326.71 L70.2,326.72 L70.36,326.73 L70.52,326.74 L70.69,326.75 L70.85,326.76 L71.02,326.77 L71.18,326.78 L71.34,326.79 L71.51,326.8 L71.67,326.81 L71.83,326.82 L72,326.83 L72.16,326.84 L72.32,326.85 L72.49,326.86 L72.65,326.87 L72.81,326.88 L72.98,326.89 L73.14,326.89 L73.3,326.9 L73.47,326.91 L73.63,326.92 L73.79,326.93 L73.96,326.94 L74.12,326.95 L74.28,326.95 L74.45,326.96 L74.61,326.97 L74.77,326.98 L74.94,326.99 L75.1,326.99 L75.26,327 L75.43,327.01 L75.59,327.02 L75.75,327.02 L75.91,327.03 L76.08,327.04 L76.24,327.04 L76.4,327.05 L76.56,327.06 L76.73,327.06 L76.89,327.07 L77.05,327.08 L77.21,327.08 L77.38,327.09 L77.54,327.09 L77.7,327.1 L77.86,327.1 L78.02,327.11 L78.19,327.11 L78.35,327.12 L78.51,327.12 L78.67,327.13 L78.83,327.13 L79,327.14 L79.16,327.14 L79.32,327.15 L79.48,327.15 L79.64,327.15 L79.8,327.16 L79.96,327.16 L80.12,327.17 L80.29,327.17 L80.45,327.17 L80.61,327.18 L80.77,327.18 L80.93,327.18 L81.09,327.18 L81.25,327.19 L81.41,327.19 L81.57,327.19 L81.73,327.19 L81.89,327.19 L82.05,327.19 L82.21,327.2 L82.37,327.2 L82.53,327.2 L82.69,327.2 L82.85,327.2 L83.01,327.2 L83.17,327.2 L83.33,327.2 L83.48,327.2 L83.64,327.2 L83.8,327.2 L83.96,327.2 L84.12,327.2 L84.28,327.2 L84.44,327.2 L84.59,327.2 L84.75,327.19 L84.91,327.19 L85.07,327.19 L85.23,327.19 L85.38,327.19 L85.54,327.18 L85.7,327.18 L85.85,327.18 L86.01,327.18 L86.17,327.17 L86.33,327.17 L86.48,327.17 L86.64,327.16 L86.79,327.16 L86.95,327.15 L87.11,327.15 L87.26,327.14 L87.42,327.14 L87.57,327.13 L87.73,327.13 L87.88,327.12 L88.04,327.12 L88.19,327.11 L88.35,327.11 L88.5,327.1 L88.66,327.09 L88.81,327.09 L88.97,327.08 L89.12,327.07 L89.28,327.07 L89.43,327.06 L89.58,327.05 L89.74,327.04 L89.89,327.03 L90.04,327.03 L90.19,327.02 L90.35,327.01 L90.5,327 L90.79,327.82 L91.08,328.65 L91.35,329.49 L91.62,330.33 L91.88,331.17 L92.13,332.02 L92.36,332.87 L92.6,333.73 L92.82,334.59 L93.03,335.45 L93.24,336.32 L93.44,337.19 L93.63,338.07 L93.81,338.95 L93.99,339.83 L94.16,340.71 L94.33,341.6 L94.49,342.5 L94.64,343.39 L94.78,344.29 L94.92,345.19 L95.06,346.09 L95.19,347 L95.31,347.91 L95.43,348.82 L95.55,349.74 L95.66,350.65 L95.77,351.57 L95.87,352.49 L95.97,353.41 L96.06,354.34 L96.16,355.26 L96.25,356.19 L96.33,357.12 L96.42,358.05 L96.5,358.98 L96.58,359.91 L96.65,360.85 L96.73,361.78 L96.8,362.72 L96.88,363.65 L96.95,364.59 L97.02,365.53 L97.09,366.46 L97.16,367.4 L97.23,368.34 L97.29,369.28 L97.36,370.22 L97.43,371.15 L97.5,372.09 L97.57,373.03 L97.65,373.97 L97.72,374.9 L97.79,375.84 L97.87,376.78 L97.95,377.71 L98.03,378.64 L98.11,379.58 L98.2,380.51 L98.28,381.44 L98.37,382.37 L98.47,383.29 L98.56,384.22 L98.66,385.15 L98.77,386.07 L98.87,386.99 L98.98,387.91 L99.09,388.83 L99.2,389.75 L99.32,390.67 L99.44,391.59 L99.56,392.5 L99.69,393.42 L99.81,394.33 L99.94,395.24 L100.07,396.15 L100.21,397.06 L100.34,397.97 L100.48,398.88 L100.62,399.79 L100.76,400.7 L100.91,401.61 L101.06,402.51 L101.21,403.42 L101.36,404.32 L101.51,405.23 L101.67,406.13 L101.82,407.04 L101.98,407.94 L102.14,408.84 L102.31,409.74 L102.47,410.65 L102.64,411.55 L102.8,412.45 L102.97,413.35 L103.14,414.25 L103.31,415.15 L103.49,416.05 L103.66,416.95 L103.84,417.86 L104.02,418.76 L104.2,419.66 L104.38,420.56 L104.56,421.46 L104.74,422.36 L104.92,423.26 L105.11,424.16 L105.29,425.06 L105.48,425.96 L105.67,426.87 L105.85,427.77 L106.04,428.67 L106.23,429.57 L106.42,430.48 L106.61,431.38 L106.81,432.29 L107,433.19 L107.19,434.1 L107.39,435 L107.58,435.91 L107.77,436.82 L107.97,437.73 L108.16,438.63 L108.36,439.54 L108.55,440.46 L108.75,441.37 L108.95,442.28 L109.14,443.19 L109.34,444.11 L109.53,445.02 L109.73,445.94 L109.93,446.86 L110.12,447.77 L110.32,448.69 L110.51,449.61 L110.71,450.54 L110.9,451.46 L111.1,452.38 L111.3,453.3 L111.5,454.23 L111.7,455.15 L111.9,456.07 L112.11,456.99 L112.32,457.92 L112.53,458.84 L112.74,459.76 L112.96,460.67 L113.18,461.59 L113.41,462.5 L113.64,463.42 L113.87,464.33 L114.11,465.24 L114.36,466.14 L114.61,467.04 L114.87,467.94 L115.13,468.84 L115.4,469.73 L115.68,470.62 L115.96,471.51 L116.26,472.39 L116.56,473.27 L116.86,474.14 L117.18,475.01 L117.5,475.87 L117.84,476.73 L118.18,477.59 L118.54,478.44 L118.9,479.28 L119.27,480.11 L119.66,480.95 L120.05,481.77 L120.46,482.59 L120.87,483.4 L121.3,484.2 L121.74,485 L122.2,485.79 L122.66,486.57 L123.14,487.35 L123.64,488.12 L124.14,488.87 L124.67,489.62 L125.2,490.36 L125.76,491.08 L126.33,491.78 L126.93,492.46 L127.55,493.11 L128.19,493.74 L128.86,494.33 L129.56,494.89 L130.29,495.42 L131.04,495.9 L131.83,496.34 L132.66,496.74 L133.52,497.09 L134.41,497.39 L135.35,497.63 L136.32,497.81 L137.34,497.94 L138.4,498 L138.62,498 L138.83,497.99 L139.05,497.99 L139.27,497.98 L139.49,497.98 L139.7,497.98 L139.92,497.97 L140.14,497.97 L140.35,497.96 L140.57,497.95 L140.79,497.95 L141.01,497.94 L141.22,497.94 L141.44,497.93 L141.66,497.93 L141.88,497.92 L142.09,497.91 L142.31,497.91 L142.53,497.9 L142.74,497.89 L142.96,497.89 L143.18,497.88 L143.4,497.87 L143.61,497.86 L143.83,497.85 L144.05,497.85 L144.27,497.84 L144.48,497.83 L144.7,497.82 L144.92,497.81 L145.14,497.8 L145.35,497.8 L145.57,497.79 L145.79,497.78 L146.01,497.77 L146.22,497.76 L146.44,497.75 L146.66,497.74 L146.88,497.73 L147.1,497.72 L147.31,497.71 L147.53,497.7 L147.75,497.69 L147.97,497.67 L148.18,497.66 L148.4,497.65 L148.62,497.64 L148.84,497.63 L149.05,497.62 L149.27,497.61 L149.49,497.59 L149.71,497.58 L149.92,497.57 L150.14,497.56 L150.36,497.54 L150.58,497.53 L150.79,497.52 L151.01,497.51 L151.23,497.49 L151.45,497.48 L151.67,497.47 L151.88,497.45 L152.1,497.44 L152.32,497.42 L152.54,497.41 L152.75,497.4 L152.97,497.38 L153.19,497.37 L153.41,497.35 L153.62,497.34 L153.84,497.32 L154.06,497.31 L154.28,497.29 L154.49,497.28 L154.71,497.26 L154.93,497.25 L155.15,497.23 L155.36,497.21 L155.58,497.2 L155.8,497.18 L156.02,497.17 L156.23,497.15 L156.45,497.13 L156.67,497.12 L156.89,497.1 L157.1,497.08 L157.32,497.06 L157.54,497.05 L157.76,497.03 L157.97,497.01 L158.19,496.99 L158.41,496.98 L158.63,496.96 L158.84,496.94 L159.06,496.92 L159.28,496.9 L159.49,496.89 L159.71,496.87 L159.93,496.85 L160.15,496.83 L160.36,496.81 L160.58,496.79 L160.8,496.77 L161.01,496.75 L161.23,496.73 L161.45,496.71 L161.67,496.69 L161.88,496.67 L162.1,496.65 L162.32,496.63 L162.53,496.61 L162.75,496.59 L162.97,496.57 L163.19,496.55 L163.4,496.53 L163.62,496.51 L163.84,496.49 L164.05,496.47 L164.27,496.45 L164.49,496.42 L164.7,496.4 L164.92,496.38 L165.14,496.36 L165.35,496.34 L165.57,496.32 L165.79,496.29 L166,496.27 L166.22,496.25 L166.44,496.23 L166.65,496.2 L166.87,496.18 L167.09,496.16 L167.3,496.14 L167.52,496.11 L167.74,496.09 L167.95,496.07 L168.17,496.04 L168.38,496.02 L168.6,496 L168.82,495.97 L169.03,495.95 L169.25,495.92 L169.46,495.9 L169.68,495.88 L169.9,495.85 L170.11,495.83 L170.33,495.8 L170.54,495.78 L170.76,495.75 L170.98,495.73 L171.19,495.71 L171.41,495.68 L171.62,495.66 L171.84,495.63 L172.06,495.6 L172.27,495.58 L172.49,495.55 L172.7,495.53 L172.92,495.5 L173.13,495.48 L173.35,495.45 L173.56,495.43 L173.78,495.4 L173.99,495.37 L174.21,495.35 L174.42,495.32 L174.64,495.29 L174.86,495.27 L175.07,495.24 L175.29,495.21 L175.5,495.19 L175.72,495.16 L175.93,495.13 L176.14,495.11 L176.36,495.08 L176.57,495.05 L176.79,495.02 L177,495 L177.22,494.97 L177.43,494.94 L177.65,494.91 L177.86,494.89 L178.08,494.86 L178.29,494.83 L178.51,494.8 L178.72,494.77 L178.93,494.75 L179.15,494.72 L179.36,494.69 L179.58,494.66 L179.79,494.63 L180,494.6 L180.22,494.57 L180.43,494.55 L180.65,494.52 L180.86,494.49 L181.07,494.46 L181.29,494.43 L181.5,494.4 L181.8,493.24 L182.1,492.08 L182.39,490.92 L182.68,489.76 L182.96,488.59 L183.25,487.42 L183.53,486.25 L183.81,485.08 L184.08,483.91 L184.36,482.73 L184.63,481.55 L184.9,480.37 L185.17,479.19 L185.44,478 L185.71,476.82 L185.97,475.63 L186.24,474.44 L186.51,473.25 L186.77,472.06 L187.04,470.87 L187.31,469.67 L187.57,468.48 L187.84,467.28 L188.11,466.09 L188.38,464.89 L188.65,463.69 L188.93,462.49 L189.2,461.29 L189.48,460.09 L189.76,458.89 L190.04,457.69 L190.33,456.49 L190.61,455.29 L190.91,454.09 L191.2,452.89 L191.5,451.69 L191.8,450.49 L192.11,449.29 L192.42,448.09 L192.73,446.89 L193.05,445.69 L193.38,444.49 L193.71,443.29 L194.04,442.09 L194.38,440.89 L194.73,439.7 L195.08,438.5 L195.44,437.31 L195.8,436.11 L196.17,434.92 L196.55,433.73 L196.93,432.54 L197.32,431.35 L197.71,430.17 L198.12,428.99 L198.53,427.81 L198.94,426.63 L199.36,425.45 L199.79,424.28 L200.23,423.11 L200.67,421.94 L201.12,420.78 L201.57,419.62 L202.04,418.46 L202.51,417.31 L202.98,416.16 L203.47,415.01 L203.96,413.87 L204.46,412.74 L204.97,411.6 L205.48,410.48 L206.01,409.35 L206.54,408.23 L207.08,407.12 L207.62,406.01 L208.18,404.91 L208.74,403.81 L209.31,402.72 L209.89,401.63 L210.47,400.56 L211.07,399.48 L211.67,398.41 L212.28,397.35 L212.9,396.3 L213.53,395.25 L214.17,394.21 L214.81,393.18 L215.47,392.15 L216.13,391.13 L216.8,390.12 L217.49,389.11 L218.18,388.12 L218.88,387.13 L219.58,386.15 L220.3,385.18 L221.03,384.21 L221.77,383.26 L222.51,382.31 L223.27,381.37 L224.03,380.44 L224.81,379.52 L225.59,378.61 L226.39,377.71 L227.19,376.82 L228.01,375.94 L228.83,375.07 L229.67,374.21 L230.51,373.36 L231.37,372.51 L232.23,371.68 L233.1,370.86 L233.98,370.05 L234.88,369.24 L235.78,368.45 L236.69,367.67 L237.6,366.89 L238.53,366.12 L239.47,365.37 L240.41,364.62 L241.36,363.88 L242.32,363.15 L243.29,362.43 L244.27,361.72 L245.25,361.01 L246.24,360.32 L247.24,359.63 L248.24,358.95 L249.25,358.28 L250.27,357.62 L251.3,356.97 L252.33,356.32 L253.37,355.68 L254.42,355.05 L255.47,354.43 L256.52,353.82 L257.59,353.21 L258.66,352.61 L259.73,352.02 L260.81,351.43 L261.9,350.86 L262.99,350.29 L264.08,349.73 L265.18,349.17 L266.29,348.62 L267.4,348.08 L268.51,347.55 L269.63,347.02 L270.76,346.5 L271.88,345.99 L273.01,345.48 L274.15,344.98 L275.29,344.48 L276.43,344 L277.58,343.51 L278.72,343.04 L279.88,342.57 L281.03,342.1 L282.19,341.65 L283.35,341.19 L284.51,340.75 L285.68,340.31 L286.84,339.87 L288.01,339.44 L289.18,339.02 L290.36,338.6 L291.53,338.19 L292.71,337.78 L293.89,337.38 L295.06,336.98 L296.24,336.59 L297.42,336.2 L298.61,335.82 L299.79,335.44 L300.97,335.06 L302.15,334.69 L303.34,334.33 L304.52,333.97 L305.71,333.61 L306.89,333.26 L308.07,332.91 L309.25,332.57 L310.44,332.23 L311.62,331.9 L312.8,331.56 L313.98,331.24 L315.16,330.91 L316.33,330.59 L317.51,330.28 L318.68,329.96 L319.85,329.65 L321.02,329.35 L322.19,329.04 L323.36,328.74 L324.52,328.44 L325.68,328.15 L326.84,327.86 L328,327.57 L329.15,327.28 L330.3,327" fill="none" stroke="#505050" stroke-width="1.8" stroke-linejoin="round" stroke-linecap="round" />
<clipPath id="cp"><rect x="91.2" y="317.2" width="29.7" height="207"/></clipPath>
<g clip-path="url(#cp)">
<path d="M58.5,325.8 L58.66,325.81 L58.82,325.83 L58.98,325.84 L59.14,325.86 L59.3,325.87 L59.46,325.88 L59.62,325.9 L59.78,325.91 L59.94,325.92 L60.11,325.94 L60.27,325.95 L60.43,325.97 L60.59,325.98 L60.75,325.99 L60.91,326.01 L61.07,326.02 L61.24,326.03 L61.4,326.05 L61.56,326.06 L61.72,326.08 L61.88,326.09 L62.04,326.1 L62.21,326.12 L62.37,326.13 L62.53,326.14 L62.69,326.16 L62.85,326.17 L63.02,326.18 L63.18,326.2 L63.34,326.21 L63.5,326.22 L63.67,326.24 L63.83,326.25 L63.99,326.26 L64.15,326.28 L64.32,326.29 L64.48,326.3 L64.64,326.31 L64.81,326.33 L64.97,326.34 L65.13,326.35 L65.29,326.37 L65.46,326.38 L65.62,326.39 L65.78,326.4 L65.95,326.42 L66.11,326.43 L66.27,326.44 L66.44,326.45 L66.6,326.47 L66.76,326.48 L66.93,326.49 L67.09,326.5 L67.25,326.51 L67.42,326.53 L67.58,326.54 L67.74,326.55 L67.91,326.56 L68.07,326.57 L68.23,326.58 L68.4,326.6 L68.56,326.61 L68.73,326.62 L68.89,326.63 L69.05,326.64 L69.22,326.65 L69.38,326.66 L69.54,326.67 L69.71,326.69 L69.87,326.7 L70.03,326.71 L70.2,326.72 L70.36,326.73 L70.52,326.74 L70.69,326.75 L70.85,326.76 L71.02,326.77 L71.18,326.78 L71.34,326.79 L71.51,326.8 L71.67,326.81 L71.83,326.82 L72,326.83 L72.16,326.84 L72.32,326.85 L72.49,326.86 L72.65,326.87 L72.81,326.88 L72.98,326.89 L73.14,326.89 L73.3,326.9 L73.47,326.91 L73.63,326.92 L73.79,326.93 L73.96,326.94 L74.12,326.95 L74.28,326.95 L74.45,326.96 L74.61,326.97 L74.77,326.98 L74.94,326.99 L75.1,326.99 L75.26,327 L75.43,327.01 L75.59,327.02 L75.75,327.02 L75.91,327.03 L76.08,327.04 L76.24,327.04 L76.4,327.05 L76.56,327.06 L76.73,327.06 L76.89,327.07 L77.05,327.08 L77.21,327.08 L77.38,327.09 L77.54,327.09 L77.7,327.1 L77.86,327.1 L78.02,327.11 L78.19,327.11 L78.35,327.12 L78.51,327.12 L78.67,327.13 L78.83,327.13 L79,327.14 L79.16,327.14 L79.32,327.15 L79.48,327.15 L79.64,327.15 L79.8,327.16 L79.96,327.16 L80.12,327.17 L80.29,327.17 L80.45,327.17 L80.61,327.18 L80.77,327.18 L80.93,327.18 L81.09,327.18 L81.25,327.19 L81.41,327.19 L81.57,327.19 L81.73,327.19 L81.89,327.19 L82.05,327.19 L82.21,327.2 L82.37,327.2 L82.53,327.2 L82.69,327.2 L82.85,327.2 L83.01,327.2 L83.17,327.2 L83.33,327.2 L83.48,327.2 L83.64,327.2 L83.8,327.2 L83.96,327.2 L84.12,327.2 L84.28,327.2 L84.44,327.2 L84.59,327.2 L84.75,327.19 L84.91,327.19 L85.07,327.19 L85.23,327.19 L85.38,327.19 L85.54,327.18 L85.7,327.18 L85.85,327.18 L86.01,327.18 L86.17,327.17 L86.33,327.17 L86.48,327.17 L86.64,327.16 L86.79,327.16 L86.95,327.15 L87.11,327.15 L87.26,327.14 L87.42,327.14 L87.57,327.13 L87.73,327.13 L87.88,327.12 L88.04,327.12 L88.19,327.11 L88.35,327.11 L88.5,327.1 L88.66,327.09 L88.81,327.09 L88.97,327.08 L89.12,327.07 L89.28,327.07 L89.43,327.06 L89.58,327.05 L89.74,327.04 L89.89,327.03 L90.04,327.03 L90.19,327.02 L90.35,327.01 L90.5,327 L90.79,327.82 L91.08,328.65 L91.35,329.49 L91.62,330.33 L91.88,331.17 L92.13,332.02 L92.36,332.87 L92.6,333.73 L92.82,334.59 L93.03,335.45 L93.24,336.32 L93.44,337.19 L93.63,338.07 L93.81,338.95 L93.99,339.83 L94.16,340.71 L94.33,341.6 L94.49,342.5 L94.64,343.39 L94.78,344.29 L94.92,345.19 L95.06,346.09 L95.19,347 L95.31,347.91 L95.43,348.82 L95.55,349.74 L95.66,350.65 L95.77,351.57 L95.87,352.49 L95.97,353.41 L96.06,354.34 L96.16,355.26 L96.25,356.19 L96.33,357.12 L96.42,358.05 L96.5,358.98 L96.58,359.91 L96.65,360.85 L96.73,361.78 L96.8,362.72 L96.88,363.65 L96.95,364.59 L97.02,365.53 L97.09,366.46 L97.16,367.4 L97.23,368.34 L97.29,369.28 L97.36,370.22 L97.43,371.15 L97.5,372.09 L97.57,373.03 L97.65,373.97 L97.72,374.9 L97.79,375.84 L97.87,376.78 L97.95,377.71 L98.03,378.64 L98.11,379.58 L98.2,380.51 L98.28,381.44 L98.37,382.37 L98.47,383.29 L98.56,384.22 L98.66,385.15 L98.77,386.07 L98.87,386.99 L98.98,387.91 L99.09,388.83 L99.2,389.75 L99.32,390.67 L99.44,391.59 L99.56,392.5 L99.69,393.42 L99.81,394.33 L99.94,395.24 L100.07,396.15 L100.21,397.06 L100.34,397.97 L100.48,398.88 L100.62,399.79 L100.76,400.7 L100.91,401.61 L101.06,402.51 L101.21,403.42 L101.36,404.32 L101.51,405.23 L101.67,406.13 L101.82,407.04 L101.98,407.94 L102.14,408.84 L102.31,409.74 L102.47,410.65 L102.64,411.55 L102.8,412.45 L102.97,413.35 L103.14,414.25 L103.31,415.15 L103.49,416.05 L103.66,416.95 L103.84,417.86 L104.02,418.76 L104.2,419.66 L104.38,420.56 L104.56,421.46 L104.74,422.36 L104.92,423.26 L105.11,424.16 L105.29,425.06 L105.48,425.96 L105.67,426.87 L105.85,427.77 L106.04,428.67 L106.23,429.57 L106.42,430.48 L106.61,431.38 L106.81,432.29 L107,433.19 L107.19,434.1 L107.39,435 L107.58,435.91 L107.77,436.82 L107.97,437.73 L108.16,438.63 L108.36,439.54 L108.55,440.46 L108.75,441.37 L108.95,442.28 L109.14,443.19 L109.34,444.11 L109.53,445.02 L109.73,445.94 L109.93,446.86 L110.12,447.77 L110.32,448.69 L110.51,449.61 L110.71,450.54 L110.9,451.46 L111.1,452.38 L111.3,453.3 L111.5,454.23 L111.7,455.15 L111.9,456.07 L112.11,456.99 L112.32,457.92 L112.53,458.84 L112.74,459.76 L112.96,460.67 L113.18,461.59 L113.41,462.5 L113.64,463.42 L113.87,464.33 L114.11,465.24 L114.36,466.14 L114.61,467.04 L114.87,467.94 L115.13,468.84 L115.4,469.73 L115.68,470.62 L115.96,471.51 L116.26,472.39 L116.56,473.27 L116.86,474.14 L117.18,475.01 L117.5,475.87 L117.84,476.73 L118.18,477.59 L118.54,478.44 L118.9,479.28 L119.27,480.11 L119.66,480.95 L120.05,481.77 L120.46,482.59 L120.87,483.4 L121.3,484.2 L121.74,485 L122.2,485.79 L122.66,486.57 L123.14,487.35 L123.64,488.12 L124.14,488.87 L124.67,489.62 L125.2,490.36 L125.76,491.08 L126.33,491.78 L126.93,492.46 L127.55,493.11 L128.19,493.74 L128.86,494.33 L129.56,494.89 L130.29,495.42 L131.04,495.9 L131.83,496.34 L132.66,496.74 L133.52,497.09 L134.41,497.39 L135.35,497.63 L136.32,497.81 L137.34,497.94 L138.4,498 L138.62,498 L138.83,497.99 L139.05,497.99 L139.27,497.98 L139.49,497.98 L139.7,497.98 L139.92,497.97 L140.14,497.97 L140.35,497.96 L140.57,497.95 L140.79,497.95 L141.01,497.94 L141.22,497.94 L141.44,497.93 L141.66,497.93 L141.88,497.92 L142.09,497.91 L142.31,497.91 L142.53,497.9 L142.74,497.89 L142.96,497.89 L143.18,497.88 L143.4,497.87 L143.61,497.86 L143.83,497.85 L144.05,497.85 L144.27,497.84 L144.48,497.83 L144.7,497.82 L144.92,497.81 L145.14,497.8 L145.35,497.8 L145.57,497.79 L145.79,497.78 L146.01,497.77 L146.22,497.76 L146.44,497.75 L146.66,497.74 L146.88,497.73 L147.1,497.72 L147.31,497.71 L147.53,497.7 L147.75,497.69 L147.97,497.67 L148.18,497.66 L148.4,497.65 L148.62,497.64 L148.84,497.63 L149.05,497.62 L149.27,497.61 L149.49,497.59 L149.71,497.58 L149.92,497.57 L150.14,497.56 L150.36,497.54 L150.58,497.53 L150.79,497.52 L151.01,497.51 L151.23,497.49 L151.45,497.48 L151.67,497.47 L151.88,497.45 L152.1,497.44 L152.32,497.42 L152.54,497.41 L152.75,497.4 L152.97,497.38 L153.19,497.37 L153.41,497.35 L153.62,497.34 L153.84,497.32 L154.06,497.31 L154.28,497.29 L154.49,497.28 L154.71,497.26 L154.93,497.25 L155.15,497.23 L155.36,497.21 L155.58,497.2 L155.8,497.18 L156.02,497.17 L156.23,497.15 L156.45,497.13 L156.67,497.12 L156.89,497.1 L157.1,497.08 L157.32,497.06 L157.54,497.05 L157.76,497.03 L157.97,497.01 L158.19,496.99 L158.41,496.98 L158.63,496.96 L158.84,496.94 L159.06,496.92 L159.28,496.9 L159.49,496.89 L159.71,496.87 L159.93,496.85 L160.15,496.83 L160.36,496.81 L160.58,496.79 L160.8,496.77 L161.01,496.75 L161.23,496.73 L161.45,496.71 L161.67,496.69 L161.88,496.67 L162.1,496.65 L162.32,496.63 L162.53,496.61 L162.75,496.59 L162.97,496.57 L163.19,496.55 L163.4,496.53 L163.62,496.51 L163.84,496.49 L164.05,496.47 L164.27,496.45 L164.49,496.42 L164.7,496.4 L164.92,496.38 L165.14,496.36 L165.35,496.34 L165.57,496.32 L165.79,496.29 L166,496.27 L166.22,496.25 L166.44,496.23 L166.65,496.2 L166.87,496.18 L167.09,496.16 L167.3,496.14 L167.52,496.11 L167.74,496.09 L167.95,496.07 L168.17,496.04 L168.38,496.02 L168.6,496 L168.82,495.97 L169.03,495.95 L169.25,495.92 L169.46,495.9 L169.68,495.88 L169.9,495.85 L170.11,495.83 L170.33,495.8 L170.54,495.78 L170.76,495.75 L170.98,495.73 L171.19,495.71 L171.41,495.68 L171.62,495.66 L171.84,495.63 L172.06,495.6 L172.27,495.58 L172.49,495.55 L172.7,495.53 L172.92,495.5 L173.13,495.48 L173.35,495.45 L173.56,495.43 L173.78,495.4 L173.99,495.37 L174.21,495.35 L174.42,495.32 L174.64,495.29 L174.86,495.27 L175.07,495.24 L175.29,495.21 L175.5,495.19 L175.72,495.16 L175.93,495.13 L176.14,495.11 L176.36,495.08 L176.57,495.05 L176.79,495.02 L177,495 L177.22,494.97 L177.43,494.94 L177.65,494.91 L177.86,494.89 L178.08,494.86 L178.29,494.83 L178.51,494.8 L178.72,494.77 L178.93,494.75 L179.15,494.72 L179.36,494.69 L179.58,494.66 L179.79,494.63 L180,494.6 L180.22,494.57 L180.43,494.55 L180.65,494.52 L180.86,494.49 L181.07,494.46 L181.29,494.43 L181.5,494.4 L181.8,493.24 L182.1,492.08 L182.39,490.92 L182.68,489.76 L182.96,488.59 L183.25,487.42 L183.53,486.25 L183.81,485.08 L184.08,483.91 L184.36,482.73 L184.63,481.55 L184.9,480.37 L185.17,479.19 L185.44,478 L185.71,476.82 L185.97,475.63 L186.24,474.44 L186.51,473.25 L186.77,472.06 L187.04,470.87 L187.31,469.67 L187.57,468.48 L187.84,467.28 L188.11,466.09 L188.38,464.89 L188.65,463.69 L188.93,462.49 L189.2,461.29 L189.48,460.09 L189.76,458.89 L190.04,457.69 L190.33,456.49 L190.61,455.29 L190.91,454.09 L191.2,452.89 L191.5,451.69 L191.8,450.49 L192.11,449.29 L192.42,448.09 L192.73,446.89 L193.05,445.69 L193.38,444.49 L193.71,443.29 L194.04,442.09 L194.38,440.89 L194.73,439.7 L195.08,438.5 L195.44,437.31 L195.8,436.11 L196.17,434.92 L196.55,433.73 L196.93,432.54 L197.32,431.35 L197.71,430.17 L198.12,428.99 L198.53,427.81 L198.94,426.63 L199.36,425.45 L199.79,424.28 L200.23,423.11 L200.67,421.94 L201.12,420.78 L201.57,419.62 L202.04,418.46 L202.51,417.31 L202.98,416.16 L203.47,415.01 L203.96,413.87 L204.46,412.74 L204.97,411.6 L205.48,410.48 L206.01,409.35 L206.54,408.23 L207.08,407.12 L207.62,406.01 L208.18,404.91 L208.74,403.81 L209.31,402.72 L209.89,401.63 L210.47,400.56 L211.07,399.48 L211.67,398.41 L212.28,397.35 L212.9,396.3 L213.53,395.25 L214.17,394.21 L214.81,393.18 L215.47,392.15 L216.13,391.13 L216.8,390.12 L217.49,389.11 L218.18,388.12 L218.88,387.13 L219.58,386.15 L220.3,385.18 L221.03,384.21 L221.77,383.26 L222.51,382.31 L223.27,381.37 L224.03,380.44 L224.81,379.52 L225.59,378.61 L226.39,377.71 L227.19,376.82 L228.01,375.94 L228.83,375.07 L229.67,374.21 L230.51,373.36 L231.37,372.51 L232.23,371.68 L233.1,370.86 L233.98,370.05 L234.88,369.24 L235.78,368.45 L236.69,367.67 L237.6,366.89 L238.53,366.12 L239.47,365.37 L240.41,364.62 L241.36,363.88 L242.32,363.15 L243.29,362.43 L244.27,361.72 L245.25,361.01 L246.24,360.32 L247.24,359.63 L248.24,358.95 L249.25,358.28 L250.27,357.62 L251.3,356.97 L252.33,356.32 L253.37,355.68 L254.42,355.05 L255.47,354.43 L256.52,353.82 L257.59,353.21 L258.66,352.61 L259.73,352.02 L260.81,351.43 L261.9,350.86 L262.99,350.29 L264.08,349.73 L265.18,349.17 L266.29,348.62 L267.4,348.08 L268.51,347.55 L269.63,347.02 L270.76,346.5 L271.88,345.99 L273.01,345.48 L274.15,344.98 L275.29,344.48 L276.43,344 L277.58,343.51 L278.72,343.04 L279.88,342.57 L281.03,342.1 L282.19,341.65 L283.35,341.19 L284.51,340.75 L285.68,340.31 L286.84,339.87 L288.01,339.44 L289.18,339.02 L290.36,338.6 L291.53,338.19 L292.71,337.78 L293.89,337.38 L295.06,336.98 L296.24,336.59 L297.42,336.2 L298.61,335.82 L299.79,335.44 L300.97,335.06 L302.15,334.69 L303.34,334.33 L304.52,333.97 L305.71,333.61 L306.89,333.26 L308.07,332.91 L309.25,332.57 L310.44,332.23 L311.62,331.9 L312.8,331.56 L313.98,331.24 L315.16,330.91 L316.33,330.59 L317.51,330.28 L318.68,329.96 L319.85,329.65 L321.02,329.35 L322.19,329.04 L323.36,328.74 L324.52,328.44 L325.68,328.15 L326.84,327.86 L328,327.57 L329.15,327.28 L330.3,327" fill="none" stroke="#5a3c8c" stroke-width="1.8" stroke-linejoin="round" stroke-linecap="round" />
</g>
<rect x="58.2" y="305.6" width="272.2" height="218.3" fill="none" stroke="#000" stroke-width="1.7"/>
<line x1="58.3" y1="523.9" x2="58.3" y2="528.4" stroke="#000" stroke-width="1.3"/>
<line x1="93.1" y1="523.9" x2="93.1" y2="528.4" stroke="#000" stroke-width="1.3"/>
<line x1="127.9" y1="523.9" x2="127.9" y2="528.4" stroke="#000" stroke-width="1.3"/>
<line x1="162.7" y1="523.9" x2="162.7" y2="528.4" stroke="#000" stroke-width="1.3"/>
<line x1="197.5" y1="523.9" x2="197.5" y2="528.4" stroke="#000" stroke-width="1.3"/>
<line x1="232.3" y1="523.9" x2="232.3" y2="528.4" stroke="#000" stroke-width="1.3"/>
<line x1="267.1" y1="523.9" x2="267.1" y2="528.4" stroke="#000" stroke-width="1.3"/>
<line x1="301.9" y1="523.9" x2="301.9" y2="528.4" stroke="#000" stroke-width="1.3"/>
<line x1="75.7" y1="523.9" x2="75.7" y2="526.4" stroke="#000" stroke-width="1.3"/>
<line x1="110.5" y1="523.9" x2="110.5" y2="526.4" stroke="#000" stroke-width="1.3"/>
<line x1="145.3" y1="523.9" x2="145.3" y2="526.4" stroke="#000" stroke-width="1.3"/>
<line x1="180.1" y1="523.9" x2="180.1" y2="526.4" stroke="#000" stroke-width="1.3"/>
<line x1="214.9" y1="523.9" x2="214.9" y2="526.4" stroke="#000" stroke-width="1.3"/>
<line x1="249.7" y1="523.9" x2="249.7" y2="526.4" stroke="#000" stroke-width="1.3"/>
<line x1="284.5" y1="523.9" x2="284.5" y2="526.4" stroke="#000" stroke-width="1.3"/>
<line x1="319.3" y1="523.9" x2="319.3" y2="526.4" stroke="#000" stroke-width="1.3"/>
<line x1="58.2" y1="325.8" x2="53.7" y2="325.8" stroke="#000" stroke-width="1.3"/>
<line x1="58.2" y1="365.4" x2="53.7" y2="365.4" stroke="#000" stroke-width="1.3"/>
<line x1="58.2" y1="405" x2="53.7" y2="405" stroke="#000" stroke-width="1.3"/>
<line x1="58.2" y1="444.6" x2="53.7" y2="444.6" stroke="#000" stroke-width="1.3"/>
<line x1="58.2" y1="484.2" x2="53.7" y2="484.2" stroke="#000" stroke-width="1.3"/>
<line x1="58.2" y1="523.8" x2="53.7" y2="523.8" stroke="#000" stroke-width="1.3"/>
<line x1="58.2" y1="306" x2="55.7" y2="306" stroke="#000" stroke-width="1.3"/>
<line x1="58.2" y1="345.6" x2="55.7" y2="345.6" stroke="#000" stroke-width="1.3"/>
<line x1="58.2" y1="385.2" x2="55.7" y2="385.2" stroke="#000" stroke-width="1.3"/>
<line x1="58.2" y1="424.8" x2="55.7" y2="424.8" stroke="#000" stroke-width="1.3"/>
<line x1="58.2" y1="464.4" x2="55.7" y2="464.4" stroke="#000" stroke-width="1.3"/>
<line x1="58.2" y1="504" x2="55.7" y2="504" stroke="#000" stroke-width="1.3"/>
<text x="58.3" y="545" font-size="14" text-anchor="middle" fill="#000" font-weight="bold" >0</text>
<text x="93.1" y="545" font-size="14" text-anchor="middle" fill="#000" font-weight="bold" >10</text>
<text x="127.9" y="545" font-size="14" text-anchor="middle" fill="#000" font-weight="bold" >20</text>
<text x="162.7" y="545" font-size="14" text-anchor="middle" fill="#000" font-weight="bold" >30</text>
<text x="197.5" y="545" font-size="14" text-anchor="middle" fill="#000" font-weight="bold" >40</text>
<text x="232.3" y="545" font-size="14" text-anchor="middle" fill="#000" font-weight="bold" >50</text>
<text x="267.1" y="545" font-size="14" text-anchor="middle" fill="#000" font-weight="bold" >60</text>
<text x="301.9" y="545" font-size="14" text-anchor="middle" fill="#000" font-weight="bold" >70</text>
<text x="47.8" y="330.8" font-size="14" text-anchor="end" fill="#000" font-weight="bold" >0</text>
<text x="47.8" y="370.4" font-size="14" text-anchor="end" fill="#000" font-weight="bold" >−10</text>
<text x="47.8" y="410" font-size="14" text-anchor="end" fill="#000" font-weight="bold" >−20</text>
<text x="47.8" y="449.6" font-size="14" text-anchor="end" fill="#000" font-weight="bold" >−30</text>
<text x="47.8" y="489.2" font-size="14" text-anchor="end" fill="#000" font-weight="bold" >−40</text>
<text x="47.8" y="528.8" font-size="14" text-anchor="end" fill="#000" font-weight="bold" >−50</text>
<text x="194.3" y="566" font-size="14" text-anchor="middle" fill="#000" font-weight="bold" >Time (s)</text>
<text x="0" y="0" font-size="14" font-weight="bold" text-anchor="middle" transform="translate(11.8,414) rotate(-90)">Response (mV)</text>
<text x="75.4" y="320" font-size="11.2" text-anchor="start" fill="#000" font-weight="bold" >Room temperature 25 °C</text>
<text x="100.6" y="377" font-size="14" text-anchor="start" fill="#000" font-weight="bold" >t<tspan font-size="10" dy="3">90</tspan></text>
<text x="89.2" y="490.6" font-size="14" text-anchor="start" fill="#000" font-weight="bold" >9.3 s</text>
<text x="149.5" y="509.3" font-size="14" text-anchor="start" fill="#000" font-weight="bold" >4%</text>
<text x="214" y="340.3" font-size="14" text-anchor="start" fill="#000" font-weight="bold" >28.9 s</text>
<text x="246.8" y="496" font-size="14" text-anchor="start" fill="#000" font-weight="bold" >SnO<tspan font-size="11.5" dy="3.8">2</tspan><tspan dy="-3.8">-CuO</tspan></text>
<line x1="216.8" y1="491.3" x2="241.8" y2="491.3" stroke="#555" stroke-width="1.7"/>
<line x1="73" y1="379.7" x2="89" y2="379.7" stroke="#000" stroke-width="1.4"/>
<path d="M92,379.7 L84.5,375.7 Q87,379.7 84.5,383.7 Z" fill="#000"/>
<line x1="139" y1="379.7" x2="123.3" y2="379.7" stroke="#000" stroke-width="1.4"/>
<path d="M120.3,379.7 L127.8,375.7 Q125.3,379.7 127.8,383.7 Z" fill="#000"/>
<line x1="166.2" y1="332.9" x2="182.3" y2="332.9" stroke="#000" stroke-width="1.4"/>
<path d="M185.3,332.9 L177.8,328.9 Q180.3,332.9 177.8,336.9 Z" fill="#000"/>
<line x1="300.8" y1="332.9" x2="284.6" y2="332.9" stroke="#000" stroke-width="1.4"/>
<path d="M281.6,332.9 L289.1,328.9 Q286.6,332.9 289.1,336.9 Z" fill="#000"/>
<text x="351.3" y="310.9" font-size="20" text-anchor="start" fill="#000" font-weight="bold" >d</text>
<path d="M402.3,321.9 L402.55,321.96 L402.8,322.02 L403.04,322.08 L403.29,322.15 L403.54,322.22 L403.79,322.29 L404.04,322.36 L404.29,322.43 L404.53,322.51 L404.78,322.59 L405.03,322.67 L405.28,322.75 L405.53,322.84 L405.78,322.92 L406.02,323.01 L406.27,323.1 L406.52,323.19 L406.77,323.29 L407.02,323.38 L407.27,323.48 L407.51,323.59 L407.76,323.69 L408.01,323.8 L408.26,323.91 L408.51,324.03 L408.76,324.14 L409,324.26 L409.25,324.38 L409.5,324.5 L409.59,324.81 L409.67,325.12 L409.76,325.42 L409.84,325.72 L409.93,326 L410.02,326.28 L410.1,326.56 L410.19,326.82 L410.28,327.08 L410.36,327.33 L410.45,327.58 L410.53,327.82 L410.62,328.05 L410.71,328.27 L410.79,328.49 L410.88,328.7 L410.97,328.9 L411.05,329.09 L411.14,329.28 L411.22,329.46 L411.31,329.64 L411.4,329.81 L411.48,329.97 L411.57,330.12 L411.66,330.27 L411.74,330.42 L411.83,330.55 L411.91,330.68 L412,330.8 L412.05,331.58 L412.1,332.36 L412.15,333.14 L412.2,333.92 L412.24,334.7 L412.29,335.47 L412.34,336.25 L412.39,337.03 L412.44,337.81 L412.49,338.59 L412.54,339.36 L412.59,340.14 L412.64,340.92 L412.69,341.69 L412.74,342.47 L412.78,343.25 L412.83,344.03 L412.88,344.8 L412.93,345.58 L412.98,346.35 L413.03,347.13 L413.09,347.91 L413.14,348.68 L413.19,349.46 L413.24,350.23 L413.29,351.01 L413.34,351.78 L413.39,352.56 L413.45,353.33 L413.5,354.11 L413.55,354.88 L413.6,355.66 L413.66,356.43 L413.71,357.2 L413.77,357.98 L413.82,358.75 L413.88,359.52 L413.93,360.3 L413.99,361.07 L414.04,361.84 L414.1,362.62 L414.16,363.39 L414.22,364.16 L414.28,364.94 L414.33,365.71 L414.39,366.48 L414.45,367.25 L414.51,368.03 L414.58,368.8 L414.64,369.57 L414.7,370.34 L414.76,371.12 L414.83,371.89 L414.89,372.66 L414.96,373.43 L415.02,374.2 L415.09,374.97 L415.15,375.74 L415.22,376.52 L415.29,377.29 L415.36,378.06 L415.43,378.83 L415.5,379.6 L415.57,380.37 L415.64,381.14 L415.72,381.91 L415.79,382.68 L415.86,383.45 L415.94,384.22 L416.02,384.99 L416.09,385.76 L416.17,386.54 L416.25,387.31 L416.33,388.08 L416.41,388.85 L416.49,389.62 L416.57,390.39 L416.66,391.16 L416.74,391.93 L416.83,392.7 L416.91,393.46 L417,394.23 L417.09,395 L417.18,395.77 L417.27,396.54 L417.36,397.31 L417.46,398.08 L417.55,398.85 L417.64,399.62 L417.74,400.39 L417.84,401.16 L417.94,401.93 L418.04,402.7 L418.14,403.47 L418.24,404.24 L418.34,405.01 L418.45,405.78 L418.55,406.54 L418.66,407.31 L418.77,408.08 L418.88,408.85 L418.99,409.62 L419.1,410.39 L419.21,411.16 L419.33,411.93 L419.44,412.7 L419.56,413.47 L419.68,414.24 L419.8,415 L419.92,415.77 L420.04,416.54 L420.17,417.31 L420.29,418.08 L420.42,418.85 L420.55,419.62 L420.68,420.39 L420.81,421.16 L420.95,421.93 L421.08,422.69 L421.22,423.46 L421.35,424.23 L421.49,425 L421.64,425.77 L421.78,426.54 L421.92,427.31 L422.07,428.08 L422.21,428.85 L422.36,429.62 L422.51,430.39 L422.67,431.16 L422.82,431.93 L422.98,432.7 L423.13,433.47 L423.29,434.23 L423.45,435 L423.62,435.77 L423.78,436.54 L423.95,437.31 L424.12,438.08 L424.29,438.85 L424.46,439.62 L424.64,440.39 L424.82,441.15 L425.01,441.92 L425.19,442.68 L425.39,443.44 L425.58,444.2 L425.78,444.96 L425.99,445.71 L426.2,446.47 L426.42,447.22 L426.64,447.97 L426.86,448.71 L427.1,449.45 L427.34,450.19 L427.58,450.93 L427.83,451.66 L428.09,452.39 L428.36,453.12 L428.63,453.84 L428.91,454.55 L429.2,455.27 L429.5,455.97 L429.8,456.68 L430.11,457.38 L430.44,458.07 L430.77,458.76 L431.11,459.44 L431.46,460.12 L431.82,460.79 L432.18,461.46 L432.56,462.12 L432.95,462.77 L433.35,463.42 L433.76,464.06 L434.19,464.69 L434.62,465.32 L435.06,465.94 L435.52,466.55 L435.99,467.16 L436.47,467.76 L436.96,468.35 L437.47,468.93 L437.99,469.5 L438.52,470.07 L439.06,470.63 L439.62,471.18 L440.17,471.73 L440.73,472.28 L441.3,472.82 L441.85,473.37 L442.41,473.91 L442.95,474.46 L443.49,475.01 L444.01,475.57 L444.51,476.14 L445,476.72 L445.46,477.3 L445.9,477.9 L445.93,477.09 L445.96,476.28 L445.99,475.47 L446.01,474.66 L446.04,473.85 L446.07,473.04 L446.09,472.22 L446.12,471.41 L446.14,470.59 L446.16,469.78 L446.19,468.96 L446.21,468.15 L446.23,467.33 L446.26,466.51 L446.28,465.69 L446.3,464.87 L446.32,464.05 L446.34,463.23 L446.37,462.41 L446.39,461.59 L446.41,460.77 L446.43,459.95 L446.46,459.12 L446.48,458.3 L446.5,457.48 L446.52,456.65 L446.55,455.83 L446.57,455 L446.6,454.18 L446.62,453.35 L446.65,452.53 L446.67,451.7 L446.7,450.88 L446.73,450.05 L446.75,449.22 L446.78,448.4 L446.81,447.57 L446.84,446.74 L446.87,445.92 L446.9,445.09 L446.94,444.26 L446.97,443.43 L447,442.61 L447.04,441.78 L447.08,440.95 L447.11,440.12 L447.15,439.3 L447.19,438.47 L447.24,437.64 L447.28,436.81 L447.32,435.98 L447.37,435.16 L447.42,434.33 L447.46,433.5 L447.51,432.68 L447.57,431.85 L447.62,431.02 L447.68,430.2 L447.73,429.37 L447.79,428.54 L447.85,427.72 L447.91,426.89 L447.98,426.07 L448.04,425.24 L448.11,424.42 L448.18,423.6 L448.26,422.77 L448.33,421.95 L448.41,421.13 L448.49,420.31 L448.57,419.48 L448.65,418.66 L448.74,417.84 L448.82,417.02 L448.91,416.2 L449.01,415.38 L449.1,414.56 L449.2,413.75 L449.3,412.93 L449.41,412.11 L449.51,411.3 L449.62,410.48 L449.73,409.67 L449.85,408.85 L449.96,408.04 L450.08,407.23 L450.21,406.42 L450.33,405.61 L450.46,404.8 L450.59,403.99 L450.73,403.18 L450.87,402.37 L451.01,401.56 L451.16,400.76 L451.3,399.95 L451.46,399.15 L451.61,398.35 L451.77,397.55 L451.93,396.75 L452.1,395.95 L452.27,395.15 L452.44,394.35 L452.61,393.55 L452.79,392.76 L452.98,391.96 L453.17,391.17 L453.36,390.38 L453.55,389.59 L453.75,388.8 L453.95,388.01 L454.16,387.22 L454.37,386.44 L454.59,385.65 L454.81,384.87 L455.03,384.09 L455.26,383.31 L455.49,382.53 L455.73,381.75 L455.97,380.97 L456.21,380.2 L456.46,379.42 L456.72,378.65 L456.98,377.88 L457.24,377.11 L457.51,376.34 L457.78,375.58 L458.06,374.81 L458.34,374.05 L458.63,373.29 L458.92,372.53 L459.21,371.77 L459.51,371.01 L459.82,370.26 L460.13,369.5 L460.45,368.75 L460.77,368 L461.1,367.25 L461.43,366.5 L461.76,365.76 L462.11,365.02 L462.45,364.27 L462.8,363.53 L463.16,362.8 L463.52,362.06 L463.88,361.32 L464.25,360.59 L464.62,359.86 L465,359.13 L465.38,358.4 L465.76,357.67 L466.15,356.95 L466.54,356.22 L466.94,355.5 L467.34,354.78 L467.74,354.06 L468.15,353.35 L468.56,352.63 L468.97,351.92 L469.39,351.2 L469.81,350.49 L470.24,349.78 L470.66,349.07 L471.09,348.37 L471.53,347.66 L471.96,346.96 L472.4,346.26 L472.84,345.56 L473.29,344.86 L473.73,344.16 L474.18,343.46 L474.64,342.77 L475.09,342.08 L475.55,341.39 L476.01,340.7 L476.47,340.01 L476.93,339.32 L477.4,338.63 L477.86,337.95 L478.33,337.27 L478.8,336.59 L479.28,335.91 L479.75,335.23 L480.23,334.55 L480.7,333.87 L481.18,333.2 L481.66,332.53 L482.15,331.85 L482.63,331.18 L483.11,330.52 L483.6,329.85 L484.08,329.18 L484.57,328.52 L485.06,327.85 L485.55,327.19 L486.04,326.53 L486.53,325.87 L487.02,325.21 L487.51,324.56 L488,323.9 L488.09,324.69 L488.18,325.47 L488.26,326.26 L488.35,327.04 L488.43,327.82 L488.51,328.61 L488.59,329.39 L488.68,330.17 L488.75,330.96 L488.83,331.74 L488.91,332.52 L488.98,333.3 L489.06,334.08 L489.13,334.86 L489.21,335.64 L489.28,336.42 L489.35,337.2 L489.42,337.98 L489.49,338.76 L489.56,339.54 L489.62,340.32 L489.69,341.1 L489.75,341.87 L489.82,342.65 L489.88,343.43 L489.95,344.21 L490.01,344.99 L490.07,345.76 L490.13,346.54 L490.19,347.32 L490.25,348.09 L490.31,348.87 L490.37,349.65 L490.43,350.42 L490.49,351.2 L490.54,351.97 L490.6,352.75 L490.66,353.53 L490.71,354.3 L490.77,355.08 L490.82,355.85 L490.88,356.63 L490.93,357.41 L490.99,358.18 L491.04,358.96 L491.09,359.73 L491.15,360.51 L491.2,361.29 L491.25,362.06 L491.3,362.84 L491.36,363.61 L491.41,364.39 L491.46,365.17 L491.51,365.94 L491.56,366.72 L491.61,367.49 L491.67,368.27 L491.72,369.05 L491.77,369.82 L491.82,370.6 L491.87,371.38 L491.92,372.16 L491.98,372.93 L492.03,373.71 L492.08,374.49 L492.13,375.27 L492.19,376.05 L492.24,376.82 L492.29,377.6 L492.34,378.38 L492.4,379.16 L492.45,379.94 L492.51,380.72 L492.56,381.5 L492.62,382.28 L492.67,383.06 L492.73,383.85 L492.78,384.63 L492.84,385.41 L492.9,386.19 L492.95,386.97 L493.01,387.76 L493.07,388.54 L493.13,389.32 L493.19,390.11 L493.25,390.89 L493.31,391.68 L493.37,392.46 L493.44,393.25 L493.5,394.04 L493.56,394.82 L493.63,395.61 L493.69,396.4 L493.76,397.19 L493.83,397.97 L493.9,398.76 L493.97,399.55 L494.04,400.34 L494.11,401.13 L494.19,401.92 L494.26,402.71 L494.34,403.5 L494.42,404.29 L494.5,405.08 L494.59,405.86 L494.67,406.65 L494.76,407.44 L494.85,408.23 L494.94,409.02 L495.04,409.8 L495.14,410.59 L495.24,411.37 L495.34,412.16 L495.45,412.94 L495.55,413.73 L495.67,414.51 L495.78,415.29 L495.9,416.08 L496.02,416.86 L496.14,417.64 L496.27,418.42 L496.4,419.19 L496.54,419.97 L496.68,420.75 L496.82,421.52 L496.96,422.29 L497.11,423.07 L497.27,423.84 L497.43,424.61 L497.59,425.38 L497.76,426.14 L497.93,426.91 L498.1,427.67 L498.28,428.43 L498.47,429.19 L498.66,429.95 L498.85,430.71 L499.05,431.47 L499.25,432.22 L499.46,432.97 L499.68,433.72 L499.9,434.47 L500.12,435.21 L500.35,435.96 L500.59,436.7 L500.83,437.44 L501.08,438.18 L501.33,438.91 L501.59,439.64 L501.86,440.37 L502.13,441.1 L502.41,441.83 L502.69,442.55 L502.98,443.27 L503.28,443.99 L503.58,444.71 L503.89,445.42 L504.21,446.13 L504.53,446.84 L504.86,447.54 L505.2,448.24 L505.54,448.94 L505.89,449.64 L506.25,450.33 L506.62,451.02 L506.99,451.7 L507.37,452.39 L507.76,453.06 L508.17,453.73 L508.58,454.39 L509,455.04 L509.44,455.68 L509.89,456.31 L510.36,456.93 L510.84,457.53 L511.34,458.12 L511.86,458.69 L512.39,459.24 L512.95,459.78 L513.52,460.3 L514.11,460.79 L514.73,461.27 L515.37,461.72 L516.03,462.15 L516.71,462.55 L517.42,462.92 L518.16,463.27 L518.92,463.59 L519.72,463.88 L520.53,464.15 L521.35,464.4 L522.16,464.68 L522.92,465 L523.61,465.4 L524.21,465.9 L524.69,466.52 L525.04,467.29 L525.21,468.24 L525.2,469.4 L525.29,468.63 L525.39,467.86 L525.48,467.09 L525.57,466.32 L525.65,465.55 L525.74,464.77 L525.82,464 L525.9,463.22 L525.98,462.44 L526.06,461.66 L526.14,460.88 L526.21,460.1 L526.29,459.32 L526.36,458.54 L526.43,457.76 L526.5,456.97 L526.57,456.19 L526.64,455.4 L526.71,454.62 L526.77,453.83 L526.84,453.04 L526.9,452.25 L526.97,451.46 L527.03,450.67 L527.09,449.88 L527.15,449.09 L527.21,448.3 L527.27,447.51 L527.33,446.71 L527.39,445.92 L527.45,445.12 L527.51,444.33 L527.57,443.53 L527.62,442.74 L527.68,441.94 L527.74,441.15 L527.8,440.35 L527.85,439.55 L527.91,438.75 L527.97,437.96 L528.03,437.16 L528.09,436.36 L528.15,435.56 L528.2,434.76 L528.26,433.96 L528.32,433.17 L528.38,432.37 L528.45,431.57 L528.51,430.77 L528.57,429.97 L528.63,429.17 L528.7,428.37 L528.76,427.57 L528.83,426.77 L528.9,425.97 L528.96,425.17 L529.03,424.37 L529.1,423.57 L529.17,422.77 L529.25,421.98 L529.32,421.18 L529.4,420.38 L529.47,419.58 L529.55,418.78 L529.63,417.98 L529.71,417.19 L529.8,416.39 L529.88,415.59 L529.97,414.8 L530.06,414 L530.15,413.21 L530.24,412.41 L530.33,411.62 L530.43,410.82 L530.53,410.03 L530.63,409.24 L530.73,408.44 L530.84,407.65 L530.95,406.86 L531.06,406.07 L531.17,405.28 L531.28,404.49 L531.4,403.7 L531.52,402.92 L531.64,402.13 L531.77,401.34 L531.9,400.56 L532.03,399.77 L532.16,398.99 L532.3,398.21 L532.44,397.43 L532.59,396.64 L532.73,395.86 L532.88,395.09 L533.04,394.31 L533.19,393.53 L533.35,392.75 L533.52,391.98 L533.68,391.21 L533.85,390.43 L534.03,389.66 L534.2,388.89 L534.39,388.12 L534.57,387.35 L534.76,386.59 L534.95,385.82 L535.15,385.06 L535.35,384.3 L535.55,383.53 L535.76,382.77 L535.98,382.01 L536.19,381.26 L536.42,380.5 L536.64,379.75 L536.87,378.99 L537.11,378.24 L537.35,377.49 L537.59,376.74 L537.84,376 L538.09,375.25 L538.35,374.51 L538.61,373.77 L538.88,373.03 L539.15,372.29 L539.43,371.55 L539.71,370.82 L539.99,370.08 L540.28,369.35 L540.57,368.62 L540.87,367.89 L541.18,367.17 L541.49,366.45 L541.8,365.73 L542.12,365.01 L542.44,364.29 L542.77,363.58 L543.1,362.86 L543.43,362.15 L543.78,361.45 L544.12,360.74 L544.47,360.04 L544.83,359.34 L545.19,358.64 L545.55,357.94 L545.92,357.25 L546.3,356.56 L546.68,355.87 L547.06,355.18 L547.45,354.5 L547.84,353.82 L548.24,353.14 L548.65,352.47 L549.06,351.8 L549.47,351.13 L549.89,350.46 L550.31,349.8 L550.74,349.14 L551.17,348.48 L551.61,347.82 L552.05,347.17 L552.5,346.52 L552.95,345.88 L553.41,345.24 L553.88,344.6 L554.34,343.96 L554.82,343.33 L555.29,342.7 L555.78,342.07 L556.27,341.45 L556.76,340.83 L557.26,340.22 L557.76,339.6 L558.27,338.99 L558.78,338.39 L559.3,337.79 L559.82,337.19 L560.35,336.59 L560.89,336 L561.43,335.42 L561.97,334.83 L562.52,334.25 L563.07,333.68 L563.63,333.1 L564.2,332.54 L564.77,331.97 L565.34,331.41 L565.92,330.85 L566.51,330.3 L567.1,329.75 L567.7,329.21 L568.3,328.67 L568.9,328.13 L569.52,327.6 L570.13,327.07 L570.76,326.55 L571.38,326.03 L572.02,325.52 L572.66,325.01 L573.3,324.5 L573.38,325.25 L573.46,326 L573.53,326.76 L573.61,327.51 L573.68,328.26 L573.76,329.02 L573.83,329.77 L573.9,330.53 L573.97,331.29 L574.04,332.04 L574.11,332.8 L574.18,333.56 L574.24,334.32 L574.31,335.08 L574.37,335.84 L574.44,336.6 L574.5,337.36 L574.56,338.12 L574.62,338.89 L574.69,339.65 L574.75,340.41 L574.81,341.18 L574.87,341.94 L574.93,342.71 L574.98,343.47 L575.04,344.24 L575.1,345 L575.16,345.77 L575.22,346.54 L575.27,347.3 L575.33,348.07 L575.39,348.84 L575.44,349.61 L575.5,350.37 L575.56,351.14 L575.61,351.91 L575.67,352.68 L575.72,353.45 L575.78,354.22 L575.84,354.99 L575.89,355.76 L575.95,356.53 L576.01,357.3 L576.07,358.07 L576.12,358.84 L576.18,359.61 L576.24,360.38 L576.3,361.15 L576.36,361.92 L576.42,362.7 L576.48,363.47 L576.54,364.24 L576.6,365.01 L576.66,365.78 L576.72,366.55 L576.79,367.32 L576.85,368.09 L576.92,368.87 L576.98,369.64 L577.05,370.41 L577.12,371.18 L577.19,371.95 L577.26,372.72 L577.33,373.49 L577.4,374.26 L577.47,375.03 L577.54,375.8 L577.62,376.57 L577.69,377.34 L577.77,378.11 L577.85,378.88 L577.93,379.65 L578.01,380.42 L578.09,381.19 L578.18,381.96 L578.26,382.72 L578.35,383.49 L578.44,384.26 L578.53,385.03 L578.62,385.79 L578.71,386.56 L578.81,387.32 L578.91,388.09 L579,388.85 L579.1,389.62 L579.21,390.38 L579.31,391.15 L579.42,391.91 L579.52,392.67 L579.63,393.44 L579.74,394.2 L579.86,394.96 L579.97,395.72 L580.09,396.48 L580.21,397.24 L580.33,398 L580.46,398.76 L580.59,399.51 L580.71,400.27 L580.85,401.03 L580.98,401.78 L581.12,402.54 L581.26,403.29 L581.4,404.05 L581.54,404.8 L581.69,405.55 L581.84,406.3 L581.99,407.05 L582.14,407.8 L582.3,408.55 L582.46,409.3 L582.62,410.05 L582.78,410.8 L582.95,411.54 L583.12,412.29 L583.3,413.03 L583.47,413.78 L583.65,414.52 L583.84,415.26 L584.02,416 L584.21,416.74 L584.41,417.48 L584.6,418.22 L584.8,418.95 L585,419.69 L585.21,420.43 L585.42,421.16 L585.63,421.89 L585.84,422.62 L586.06,423.35 L586.28,424.08 L586.51,424.81 L586.74,425.54 L586.97,426.27 L587.21,426.99 L587.45,427.72 L587.69,428.44 L587.94,429.16 L588.19,429.88 L588.45,430.6 L588.71,431.32 L588.97,432.04 L589.24,432.75 L589.51,433.47 L589.79,434.18 L590.07,434.89 L590.35,435.6 L590.64,436.31 L590.93,437.02 L591.22,437.72 L591.52,438.43 L591.83,439.13 L592.14,439.84 L592.45,440.54 L592.77,441.24 L593.09,441.93 L593.42,442.63 L593.75,443.32 L594.09,444.01 L594.44,444.7 L594.79,445.38 L595.16,446.05 L595.53,446.72 L595.92,447.38 L596.32,448.03 L596.73,448.68 L597.16,449.31 L597.6,449.94 L598.05,450.55 L598.52,451.16 L599.01,451.75 L599.51,452.33 L600.03,452.89 L600.57,453.44 L601.14,453.98 L601.72,454.5 L602.32,455.01 L602.94,455.5 L603.57,455.98 L604.22,456.46 L604.86,456.92 L605.52,457.39 L606.17,457.85 L606.82,458.31 L607.46,458.78 L608.09,459.25 L608.7,459.73 L609.3,460.22 L609.88,460.72 L610.44,461.24 L610.97,461.77 L611.46,462.32 L611.93,462.89 L612.35,463.49 L612.74,464.11 L613.08,464.76 L613.37,465.44 L613.61,466.15 L613.8,466.9 L613.91,466.12 L614.01,465.35 L614.11,464.57 L614.21,463.79 L614.3,463 L614.4,462.22 L614.49,461.43 L614.57,460.64 L614.66,459.85 L614.74,459.06 L614.82,458.27 L614.9,457.47 L614.98,456.68 L615.05,455.88 L615.12,455.08 L615.19,454.28 L615.26,453.48 L615.33,452.68 L615.4,451.87 L615.46,451.07 L615.52,450.26 L615.58,449.45 L615.65,448.64 L615.71,447.83 L615.76,447.02 L615.82,446.21 L615.88,445.4 L615.94,444.59 L615.99,443.77 L616.05,442.96 L616.1,442.14 L616.16,441.32 L616.21,440.51 L616.26,439.69 L616.32,438.87 L616.37,438.05 L616.43,437.23 L616.48,436.41 L616.53,435.59 L616.59,434.77 L616.64,433.95 L616.7,433.13 L616.76,432.31 L616.81,431.49 L616.87,430.67 L616.93,429.85 L616.99,429.02 L617.05,428.2 L617.11,427.38 L617.18,426.56 L617.24,425.74 L617.31,424.92 L617.38,424.09 L617.45,423.27 L617.52,422.45 L617.59,421.63 L617.67,420.81 L617.74,419.99 L617.82,419.17 L617.9,418.36 L617.99,417.54 L618.07,416.72 L618.16,415.9 L618.25,415.09 L618.34,414.27 L618.44,413.46 L618.54,412.64 L618.64,411.83 L618.75,411.02 L618.85,410.21 L618.96,409.4 L619.08,408.59 L619.2,407.78 L619.32,406.97 L619.44,406.17 L619.57,405.36 L619.7,404.56 L619.84,403.76 L619.98,402.95 L620.12,402.16 L620.27,401.36 L620.42,400.56 L620.57,399.76 L620.73,398.97 L620.9,398.18 L621.07,397.39 L621.24,396.6 L621.42,395.81 L621.6,395.03 L621.79,394.24 L621.98,393.46 L622.18,392.68 L622.38,391.9 L622.59,391.13 L622.8,390.35 L623.02,389.58 L623.25,388.81 L623.48,388.04 L623.71,387.27 L623.95,386.51 L624.2,385.75 L624.45,384.99 L624.71,384.23 L624.98,383.48 L625.25,382.73 L625.52,381.98 L625.81,381.23 L626.1,380.48 L626.4,379.74 L626.7,379 L627.01,378.27 L627.33,377.53 L627.65,376.8 L627.98,376.07 L628.32,375.35 L628.66,374.62 L629.01,373.9 L629.37,373.18 L629.73,372.47 L630.1,371.76 L630.48,371.05 L630.86,370.34 L631.24,369.64 L631.64,368.94 L632.04,368.24 L632.44,367.54 L632.86,366.85 L633.27,366.16 L633.7,365.48 L634.12,364.79 L634.56,364.11 L635,363.44 L635.44,362.76 L635.89,362.09 L636.35,361.42 L636.81,360.76 L637.28,360.1 L637.75,359.44 L638.22,358.78 L638.71,358.13 L639.19,357.48 L639.68,356.83 L640.18,356.19 L640.68,355.55 L641.19,354.91 L641.7,354.28 L642.21,353.65 L642.73,353.02 L643.25,352.4 L643.78,351.77 L644.31,351.16 L644.85,350.54 L645.39,349.93 L645.93,349.32 L646.48,348.72 L647.03,348.12 L647.59,347.52 L648.15,346.92 L648.72,346.33 L649.28,345.74 L649.85,345.16 L650.43,344.58 L651.01,344 L651.59,343.43 L652.18,342.86 L652.76,342.29 L653.36,341.72 L653.95,341.16 L654.55,340.61 L655.15,340.05 L655.75,339.5 L656.36,338.96 L656.97,338.41 L657.58,337.87 L658.2,337.34 L658.81,336.8 L659.43,336.27 L660.05,335.75 L660.68,335.22 L661.3,334.7 L661.93,334.18 L662.56,333.66 L663.19,333.15 L663.82,332.64 L664.45,332.13 L665.08,331.62 L665.71,331.12 L666.34,330.62 L666.98,330.11 L667.61,329.62 L668.24,329.12 L668.88,328.62 L669.51,328.13 L670.14,327.64 L670.78,327.15 L671.41,326.66 L672.04,326.17 L672.67,325.69 L673.3,325.2" fill="none" stroke="#606060" stroke-width="1.7" stroke-linejoin="round" stroke-linecap="round" />
<rect x="402" y="305.9" width="271.3" height="218" fill="none" stroke="#000" stroke-width="1.7"/>
<line x1="402.1" y1="523.9" x2="402.1" y2="528.4" stroke="#000" stroke-width="1.3"/>
<line x1="456.28" y1="523.9" x2="456.28" y2="528.4" stroke="#000" stroke-width="1.3"/>
<line x1="510.46" y1="523.9" x2="510.46" y2="528.4" stroke="#000" stroke-width="1.3"/>
<line x1="564.64" y1="523.9" x2="564.64" y2="528.4" stroke="#000" stroke-width="1.3"/>
<line x1="618.82" y1="523.9" x2="618.82" y2="528.4" stroke="#000" stroke-width="1.3"/>
<line x1="673" y1="523.9" x2="673" y2="528.4" stroke="#000" stroke-width="1.3"/>
<line x1="429.19" y1="523.9" x2="429.19" y2="526.4" stroke="#000" stroke-width="1.3"/>
<line x1="483.37" y1="523.9" x2="483.37" y2="526.4" stroke="#000" stroke-width="1.3"/>
<line x1="537.55" y1="523.9" x2="537.55" y2="526.4" stroke="#000" stroke-width="1.3"/>
<line x1="591.73" y1="523.9" x2="591.73" y2="526.4" stroke="#000" stroke-width="1.3"/>
<line x1="645.91" y1="523.9" x2="645.91" y2="526.4" stroke="#000" stroke-width="1.3"/>
<line x1="402" y1="325.9" x2="397.5" y2="325.9" stroke="#000" stroke-width="1.3"/>
<line x1="402" y1="405.02" x2="397.5" y2="405.02" stroke="#000" stroke-width="1.3"/>
<line x1="402" y1="484.14" x2="397.5" y2="484.14" stroke="#000" stroke-width="1.3"/>
<line x1="402" y1="365.46" x2="399.5" y2="365.46" stroke="#000" stroke-width="1.3"/>
<line x1="402" y1="444.58" x2="399.5" y2="444.58" stroke="#000" stroke-width="1.3"/>
<text x="402.1" y="545" font-size="14" text-anchor="middle" fill="#000" font-weight="bold" >0</text>
<text x="456.28" y="545" font-size="14" text-anchor="middle" fill="#000" font-weight="bold" >100</text>
<text x="510.46" y="545" font-size="14" text-anchor="middle" fill="#000" font-weight="bold" >200</text>
<text x="564.64" y="545" font-size="14" text-anchor="middle" fill="#000" font-weight="bold" >300</text>
<text x="618.82" y="545" font-size="14" text-anchor="middle" fill="#000" font-weight="bold" >400</text>
<text x="673" y="545" font-size="14" text-anchor="middle" fill="#000" font-weight="bold" >500</text>
<text x="391.7" y="330.9" font-size="14" text-anchor="end" fill="#000" font-weight="bold" >0</text>
<text x="391.7" y="410.02" font-size="14" text-anchor="end" fill="#000" font-weight="bold" >−4</text>
<text x="391.7" y="489.14" font-size="14" text-anchor="end" fill="#000" font-weight="bold" >−8</text>
<text x="537.5" y="566" font-size="14" text-anchor="middle" fill="#000" font-weight="bold" >Time (s)</text>
<text x="0" y="0" font-size="14" font-weight="bold" text-anchor="middle" transform="translate(363.5,414.3) rotate(-90)">Response (mV)</text>
<text x="409" y="321" font-size="11.2" text-anchor="start" fill="#000" font-weight="bold" >Room temperature 25 °C</text>
<text x="419.3" y="496" font-size="14" text-anchor="start" fill="#000" font-weight="bold" >0.5%</text>
<text x="500.7" y="488.2" font-size="14" text-anchor="start" fill="#000" font-weight="bold" >0.5%</text>
<text x="580.8" y="476.6" font-size="14" text-anchor="start" fill="#000" font-weight="bold" >0.5%</text>
<line x1="561" y1="490.8" x2="586" y2="490.8" stroke="#555" stroke-width="1.7"/>
<text x="591.1" y="496" font-size="14" text-anchor="start" fill="#000" font-weight="bold" >SnO<tspan font-size="11.5" dy="3.8">2</tspan><tspan dy="-3.8">-CuO</tspan></text>
</g></svg></body></html>
